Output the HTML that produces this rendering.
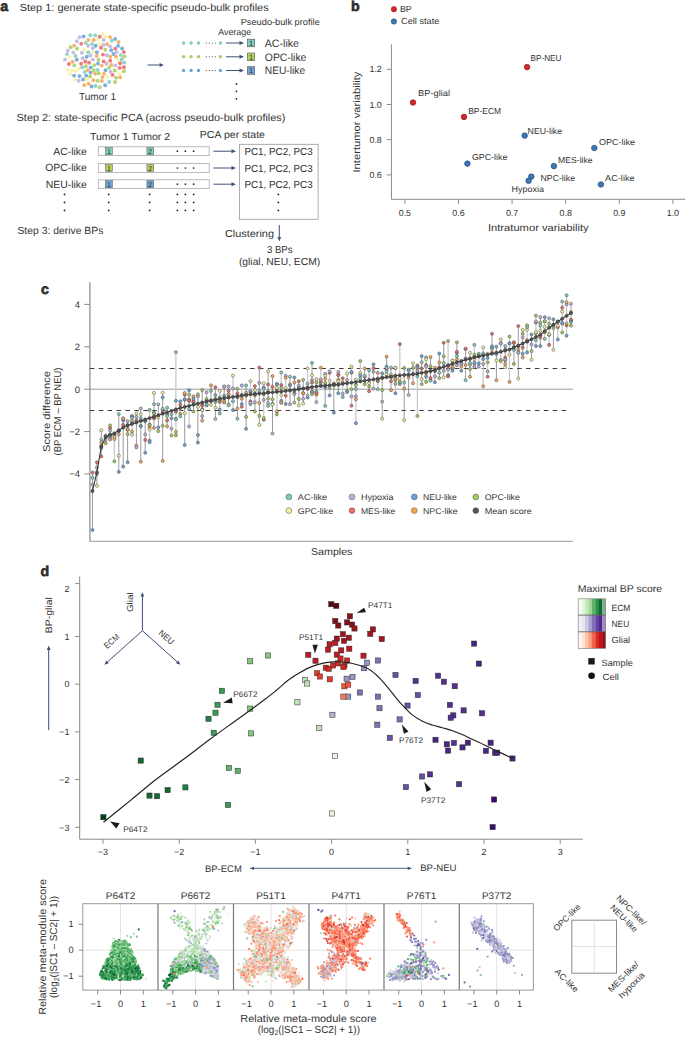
<!DOCTYPE html>
<html><head><meta charset="utf-8"><style>
html,body{margin:0;padding:0;background:#fff;width:685px;height:1038px;overflow:hidden}
svg{display:block}
text{font-family:"Liberation Sans",sans-serif;fill:#333;text-rendering:geometricPrecision}
</style></head><body>
<svg width="685" height="1038" viewBox="0 0 685 1038">
<text x="0.3" y="10.9" font-size="14.2" font-weight="bold" stroke="#231f20" stroke-width="0.6">a</text>
<text x="19.7" y="10.9" font-size="10.4" textLength="249" lengthAdjust="spacingAndGlyphs">Step 1: generate state-specific pseudo-bulk profiles</text>
<circle cx="97.7" cy="80.7" r="1.95" fill="#b0d676"/>
<circle cx="79.5" cy="76.1" r="1.95" fill="#7aaedb"/>
<circle cx="90.4" cy="55.5" r="1.95" fill="#c4bde4"/>
<circle cx="124.3" cy="62.6" r="1.95" fill="#8fd3c6"/>
<circle cx="95.1" cy="73.8" r="1.95" fill="#f9b26c"/>
<circle cx="117.3" cy="60.0" r="1.95" fill="#f7f4b0"/>
<circle cx="107.1" cy="44.3" r="1.95" fill="#f9b26c"/>
<circle cx="88.3" cy="52.3" r="1.95" fill="#8fd3c6"/>
<circle cx="76.9" cy="41.3" r="1.95" fill="#c4bde4"/>
<circle cx="69.6" cy="57.1" r="1.95" fill="#f7f4b0"/>
<circle cx="97.2" cy="39.4" r="1.95" fill="#f7f4b0"/>
<circle cx="94.3" cy="65.1" r="1.95" fill="#b0d676"/>
<circle cx="110.1" cy="46.4" r="1.95" fill="#c4bde4"/>
<circle cx="90.3" cy="35.2" r="1.95" fill="#8fd3c6"/>
<circle cx="74.1" cy="75.6" r="1.95" fill="#7aaedb"/>
<circle cx="67.8" cy="69.6" r="1.95" fill="#f7f4b0"/>
<circle cx="103.0" cy="54.6" r="1.95" fill="#f07a78"/>
<circle cx="105.5" cy="70.2" r="1.95" fill="#7aaedb"/>
<circle cx="116.0" cy="56.6" r="1.95" fill="#f9b26c"/>
<circle cx="84.1" cy="49.7" r="1.95" fill="#f7f4b0"/>
<circle cx="76.8" cy="59.7" r="1.95" fill="#7aaedb"/>
<circle cx="70.6" cy="47.3" r="1.95" fill="#b0d676"/>
<circle cx="83.6" cy="36.4" r="1.95" fill="#7aaedb"/>
<circle cx="115.1" cy="39.0" r="1.95" fill="#7aaedb"/>
<circle cx="115.3" cy="48.8" r="1.95" fill="#f07a78"/>
<circle cx="92.8" cy="48.2" r="1.95" fill="#c4bde4"/>
<circle cx="119.6" cy="73.5" r="1.95" fill="#f7f4b0"/>
<circle cx="85.8" cy="66.2" r="1.95" fill="#b0d676"/>
<circle cx="88.6" cy="83.7" r="1.95" fill="#f9b26c"/>
<circle cx="118.5" cy="42.0" r="1.95" fill="#f9b26c"/>
<circle cx="65.0" cy="59.6" r="1.95" fill="#c4bde4"/>
<circle cx="102.4" cy="77.1" r="1.95" fill="#f9b26c"/>
<circle cx="123.9" cy="67.2" r="1.95" fill="#f07a78"/>
<circle cx="84.2" cy="85.3" r="1.95" fill="#f9b26c"/>
<circle cx="111.2" cy="50.3" r="1.95" fill="#7aaedb"/>
<circle cx="74.3" cy="65.4" r="1.95" fill="#b0d676"/>
<circle cx="81.2" cy="43.8" r="1.95" fill="#f07a78"/>
<circle cx="73.3" cy="52.6" r="1.95" fill="#c4bde4"/>
<circle cx="72.1" cy="70.3" r="1.95" fill="#f7f4b0"/>
<circle cx="92.8" cy="59.6" r="1.95" fill="#c4bde4"/>
<circle cx="75.7" cy="71.1" r="1.95" fill="#f7f4b0"/>
<circle cx="120.1" cy="63.2" r="1.95" fill="#f07a78"/>
<circle cx="88.1" cy="45.8" r="1.95" fill="#c4bde4"/>
<circle cx="103.6" cy="61.4" r="1.95" fill="#f07a78"/>
<circle cx="84.6" cy="72.1" r="1.95" fill="#8fd3c6"/>
<circle cx="90.1" cy="76.5" r="1.95" fill="#b0d676"/>
<circle cx="96.7" cy="56.0" r="1.95" fill="#f9b26c"/>
<circle cx="90.6" cy="72.6" r="1.95" fill="#7aaedb"/>
<circle cx="101.0" cy="47.8" r="1.95" fill="#f07a78"/>
<circle cx="92.8" cy="52.2" r="1.95" fill="#f7f4b0"/>
<circle cx="83.0" cy="79.5" r="1.95" fill="#7aaedb"/>
<circle cx="97.7" cy="69.9" r="1.95" fill="#8fd3c6"/>
<circle cx="82.7" cy="58.3" r="1.95" fill="#c4bde4"/>
<circle cx="105.9" cy="36.9" r="1.95" fill="#f7f4b0"/>
<circle cx="78.6" cy="69.0" r="1.95" fill="#f7f4b0"/>
<circle cx="106.8" cy="55.3" r="1.95" fill="#c4bde4"/>
<circle cx="95.2" cy="35.4" r="1.95" fill="#8fd3c6"/>
<circle cx="81.9" cy="52.7" r="1.95" fill="#c4bde4"/>
<circle cx="122.1" cy="48.5" r="1.95" fill="#7aaedb"/>
<circle cx="104.0" cy="73.8" r="1.95" fill="#f9b26c"/>
<circle cx="70.3" cy="74.2" r="1.95" fill="#f7f4b0"/>
<circle cx="95.6" cy="86.0" r="1.95" fill="#8fd3c6"/>
<circle cx="68.9" cy="64.0" r="1.95" fill="#f07a78"/>
<circle cx="87.8" cy="70.3" r="1.95" fill="#f9b26c"/>
<circle cx="109.1" cy="82.0" r="1.95" fill="#8fd3c6"/>
<circle cx="111.4" cy="64.9" r="1.95" fill="#f9b26c"/>
<circle cx="93.4" cy="80.3" r="1.95" fill="#f9b26c"/>
<circle cx="106.4" cy="63.8" r="1.95" fill="#c4bde4"/>
<circle cx="101.7" cy="65.6" r="1.95" fill="#f9b26c"/>
<circle cx="124.3" cy="56.5" r="1.95" fill="#b0d676"/>
<circle cx="114.8" cy="70.5" r="1.95" fill="#b0d676"/>
<circle cx="112.5" cy="74.9" r="1.95" fill="#f07a78"/>
<circle cx="92.0" cy="43.9" r="1.95" fill="#8fd3c6"/>
<circle cx="99.9" cy="43.9" r="1.95" fill="#f7f4b0"/>
<circle cx="103.7" cy="39.9" r="1.95" fill="#c4bde4"/>
<circle cx="81.1" cy="63.8" r="1.95" fill="#f07a78"/>
<circle cx="113.5" cy="54.0" r="1.95" fill="#7aaedb"/>
<circle cx="118.1" cy="45.9" r="1.95" fill="#7aaedb"/>
<circle cx="116.0" cy="77.8" r="1.95" fill="#b0d676"/>
<circle cx="93.6" cy="40.0" r="1.95" fill="#f9b26c"/>
<circle cx="85.7" cy="42.9" r="1.95" fill="#8fd3c6"/>
<circle cx="115.1" cy="82.0" r="1.95" fill="#b0d676"/>
<circle cx="105.3" cy="49.8" r="1.95" fill="#b0d676"/>
<circle cx="101.9" cy="80.9" r="1.95" fill="#f9b26c"/>
<circle cx="99.8" cy="36.8" r="1.95" fill="#f07a78"/>
<circle cx="120.7" cy="55.1" r="1.95" fill="#8fd3c6"/>
<circle cx="77.1" cy="48.7" r="1.95" fill="#b0d676"/>
<circle cx="86.2" cy="75.7" r="1.95" fill="#7aaedb"/>
<circle cx="78.8" cy="80.7" r="1.95" fill="#c4bde4"/>
<circle cx="67.0" cy="54.1" r="1.95" fill="#8fd3c6"/>
<circle cx="107.6" cy="76.9" r="1.95" fill="#f7f4b0"/>
<circle cx="110.2" cy="60.7" r="1.95" fill="#f07a78"/>
<circle cx="90.7" cy="67.5" r="1.95" fill="#7aaedb"/>
<circle cx="119.6" cy="67.9" r="1.95" fill="#f07a78"/>
<circle cx="110.5" cy="71.8" r="1.95" fill="#c4bde4"/>
<circle cx="86.7" cy="56.7" r="1.95" fill="#7aaedb"/>
<circle cx="99.8" cy="87.3" r="1.95" fill="#b0d676"/>
<circle cx="74.2" cy="45.6" r="1.95" fill="#f9b26c"/>
<circle cx="105.2" cy="85.2" r="1.95" fill="#7aaedb"/>
<circle cx="75.5" cy="55.9" r="1.95" fill="#8fd3c6"/>
<circle cx="123.9" cy="52.1" r="1.95" fill="#f07a78"/>
<circle cx="95.7" cy="45.8" r="1.95" fill="#7aaedb"/>
<circle cx="82.2" cy="67.4" r="1.95" fill="#8fd3c6"/>
<circle cx="115.5" cy="65.4" r="1.95" fill="#c4bde4"/>
<circle cx="98.0" cy="63.6" r="1.95" fill="#7aaedb"/>
<circle cx="110.0" cy="37.1" r="1.95" fill="#f9b26c"/>
<circle cx="93.8" cy="70.3" r="1.95" fill="#b0d676"/>
<circle cx="96.9" cy="52.2" r="1.95" fill="#7aaedb"/>
<circle cx="111.7" cy="40.7" r="1.95" fill="#8fd3c6"/>
<circle cx="89.1" cy="62.8" r="1.95" fill="#f07a78"/>
<circle cx="72.5" cy="61.8" r="1.95" fill="#f9b26c"/>
<circle cx="98.4" cy="60.0" r="1.95" fill="#b0d676"/>
<circle cx="98.8" cy="73.4" r="1.95" fill="#b0d676"/>
<circle cx="85.3" cy="61.5" r="1.95" fill="#f07a78"/>
<circle cx="88.3" cy="40.0" r="1.95" fill="#f9b26c"/>
<circle cx="109.1" cy="67.8" r="1.95" fill="#b0d676"/>
<circle cx="120.1" cy="77.3" r="1.95" fill="#f9b26c"/>
<circle cx="91.6" cy="86.5" r="1.95" fill="#7aaedb"/>
<circle cx="75.1" cy="79.8" r="1.95" fill="#f7f4b0"/>
<circle cx="123.9" cy="71.2" r="1.95" fill="#b0d676"/>
<circle cx="121.7" cy="59.5" r="1.95" fill="#8fd3c6"/>
<circle cx="86.9" cy="79.3" r="1.95" fill="#f7f4b0"/>
<circle cx="116.7" cy="52.2" r="1.95" fill="#c4bde4"/>
<circle cx="67.9" cy="50.6" r="1.95" fill="#c4bde4"/>
<circle cx="103.0" cy="34.3" r="1.95" fill="#f7f4b0"/>
<circle cx="103.5" cy="44.9" r="1.95" fill="#c4bde4"/>
<circle cx="110.2" cy="56.7" r="1.95" fill="#f9b26c"/>
<circle cx="79.5" cy="37.3" r="1.95" fill="#c4bde4"/>
<text x="79" y="100.4" font-size="10.2" textLength="37" lengthAdjust="spacingAndGlyphs">Tumor 1</text>
<line x1="147.6" y1="65" x2="160.10000000000002" y2="65.0" stroke="#3e5078" stroke-width="1"/>
<path d="M163.80 65.00L159.60 66.90L159.60 63.10Z" fill="#3e5078"/>
<text x="218.2" y="34.8" font-size="8.8" textLength="33" lengthAdjust="spacingAndGlyphs">Average</text>
<text x="240.7" y="24.6" font-size="8.9" textLength="79.1" lengthAdjust="spacingAndGlyphs">Pseudo-bulk profile</text>
<circle cx="183.6" cy="43" r="1.7" fill="#82cfc2"/>
<circle cx="191.1" cy="43" r="1.7" fill="#82cfc2"/>
<circle cx="198.5" cy="43" r="1.7" fill="#82cfc2"/>
<circle cx="220.4" cy="43" r="1.7" fill="#82cfc2"/>
<circle cx="206.3" cy="43" r="0.55" fill="#333"/>
<circle cx="209.3" cy="43" r="0.55" fill="#333"/>
<circle cx="212.3" cy="43" r="0.55" fill="#333"/>
<circle cx="215.3" cy="43" r="0.55" fill="#333"/>
<line x1="226" y1="43" x2="240.0" y2="43.0" stroke="#3e5078" stroke-width="1"/>
<path d="M244.00 43.00L239.50 45.00L239.50 41.00Z" fill="#3e5078"/>
<rect x="247.3" y="39.2" width="7.4" height="7.6" fill="#80cbbd" stroke="#555" stroke-width="0.6"/>
<text x="251" y="45.9" font-size="7.5" text-anchor="middle" fill="#222">1</text>
<text x="264.8" y="46.9" font-size="10.8" textLength="34.2" lengthAdjust="spacingAndGlyphs">AC-like</text>
<circle cx="183.6" cy="56.8" r="1.7" fill="#a9d168"/>
<circle cx="191.1" cy="56.8" r="1.7" fill="#a9d168"/>
<circle cx="198.5" cy="56.8" r="1.7" fill="#a9d168"/>
<circle cx="220.4" cy="56.8" r="1.7" fill="#a9d168"/>
<circle cx="206.3" cy="56.8" r="0.55" fill="#333"/>
<circle cx="209.3" cy="56.8" r="0.55" fill="#333"/>
<circle cx="212.3" cy="56.8" r="0.55" fill="#333"/>
<circle cx="215.3" cy="56.8" r="0.55" fill="#333"/>
<line x1="226" y1="56.8" x2="240.0" y2="56.8" stroke="#3e5078" stroke-width="1"/>
<path d="M244.00 56.80L239.50 58.80L239.50 54.80Z" fill="#3e5078"/>
<rect x="247.3" y="53.0" width="7.4" height="7.6" fill="#b2d45f" stroke="#555" stroke-width="0.6"/>
<text x="251" y="59.699999999999996" font-size="7.5" text-anchor="middle" fill="#222">1</text>
<text x="264.8" y="60.699999999999996" font-size="10.8" textLength="41.6" lengthAdjust="spacingAndGlyphs">OPC-like</text>
<circle cx="183.6" cy="70.5" r="1.7" fill="#6fa5d6"/>
<circle cx="191.1" cy="70.5" r="1.7" fill="#6fa5d6"/>
<circle cx="198.5" cy="70.5" r="1.7" fill="#6fa5d6"/>
<circle cx="220.4" cy="70.5" r="1.7" fill="#6fa5d6"/>
<circle cx="206.3" cy="70.5" r="0.55" fill="#333"/>
<circle cx="209.3" cy="70.5" r="0.55" fill="#333"/>
<circle cx="212.3" cy="70.5" r="0.55" fill="#333"/>
<circle cx="215.3" cy="70.5" r="0.55" fill="#333"/>
<line x1="226" y1="70.5" x2="240.0" y2="70.5" stroke="#3e5078" stroke-width="1"/>
<path d="M244.00 70.50L239.50 72.50L239.50 68.50Z" fill="#3e5078"/>
<rect x="247.3" y="66.7" width="7.4" height="7.6" fill="#6fa3d3" stroke="#555" stroke-width="0.6"/>
<text x="251" y="73.4" font-size="7.5" text-anchor="middle" fill="#222">1</text>
<text x="264.8" y="74.4" font-size="10.8" textLength="40.3" lengthAdjust="spacingAndGlyphs">NEU-like</text>
<circle cx="236.5" cy="83.9" r="0.9" fill="#222"/>
<circle cx="236.5" cy="91.3" r="0.9" fill="#222"/>
<circle cx="236.5" cy="98.8" r="0.9" fill="#222"/>
<text x="16.6" y="121.3" font-size="10.4" textLength="268.8" lengthAdjust="spacingAndGlyphs">Step 2: state-specific PCA (across pseudo-bulk profiles)</text>
<text x="90" y="139.9" font-size="10.2" textLength="80" lengthAdjust="spacingAndGlyphs">Tumor 1 Tumor 2</text>
<text x="199.8" y="138.1" font-size="10.2" textLength="65.2" lengthAdjust="spacingAndGlyphs">PCA per state</text>
<rect x="98.3" y="146.79999999999998" width="110.9" height="8.8" fill="#fff" stroke="#aaa" stroke-width="0.8"/>
<rect x="105.5" y="147.6" width="6.8" height="7.2" fill="#80cbbd" stroke="#555" stroke-width="0.5"/>
<text x="108.9" y="153.79999999999998" font-size="7" text-anchor="middle" fill="#222">1</text>
<rect x="146.9" y="147.6" width="6.8" height="7.2" fill="#80cbbd" stroke="#555" stroke-width="0.5"/>
<text x="150.3" y="153.79999999999998" font-size="7" text-anchor="middle" fill="#222">2</text>
<circle cx="177.4" cy="151.2" r="0.85" fill="#222"/>
<circle cx="185.4" cy="151.2" r="0.85" fill="#222"/>
<circle cx="193.6" cy="151.2" r="0.85" fill="#222"/>
<text x="86.8" y="154.7" font-size="10.4" text-anchor="end">AC-like</text>
<line x1="213.4" y1="151.2" x2="232.0" y2="151.2" stroke="#3e5078" stroke-width="1"/>
<path d="M236.00 151.20L231.50 153.20L231.50 149.20Z" fill="#3e5078"/>
<text x="244.4" y="155.29999999999998" font-size="10.2" textLength="68.3" lengthAdjust="spacingAndGlyphs">PC1, PC2, PC3</text>
<rect x="98.3" y="163.6" width="110.9" height="8.8" fill="#fff" stroke="#aaa" stroke-width="0.8"/>
<rect x="105.5" y="164.4" width="6.8" height="7.2" fill="#b2d45f" stroke="#555" stroke-width="0.5"/>
<text x="108.9" y="170.6" font-size="7" text-anchor="middle" fill="#222">1</text>
<rect x="146.9" y="164.4" width="6.8" height="7.2" fill="#b2d45f" stroke="#555" stroke-width="0.5"/>
<text x="150.3" y="170.6" font-size="7" text-anchor="middle" fill="#222">2</text>
<circle cx="177.4" cy="168" r="0.85" fill="#222"/>
<circle cx="185.4" cy="168" r="0.85" fill="#222"/>
<circle cx="193.6" cy="168" r="0.85" fill="#222"/>
<text x="86.8" y="171.4" font-size="10.4" text-anchor="end">OPC-like</text>
<line x1="213.4" y1="168" x2="232.0" y2="168.0" stroke="#3e5078" stroke-width="1"/>
<path d="M236.00 168.00L231.50 170.00L231.50 166.00Z" fill="#3e5078"/>
<text x="244.4" y="172.0" font-size="10.2" textLength="68.3" lengthAdjust="spacingAndGlyphs">PC1, PC2, PC3</text>
<rect x="98.3" y="179.79999999999998" width="110.9" height="8.8" fill="#fff" stroke="#aaa" stroke-width="0.8"/>
<rect x="105.5" y="180.6" width="6.8" height="7.2" fill="#6fa3d3" stroke="#555" stroke-width="0.5"/>
<text x="108.9" y="186.79999999999998" font-size="7" text-anchor="middle" fill="#222">1</text>
<rect x="146.9" y="180.6" width="6.8" height="7.2" fill="#6fa3d3" stroke="#555" stroke-width="0.5"/>
<text x="150.3" y="186.79999999999998" font-size="7" text-anchor="middle" fill="#222">2</text>
<circle cx="177.4" cy="184.2" r="0.85" fill="#222"/>
<circle cx="185.4" cy="184.2" r="0.85" fill="#222"/>
<circle cx="193.6" cy="184.2" r="0.85" fill="#222"/>
<text x="86.8" y="187.5" font-size="10.4" text-anchor="end">NEU-like</text>
<line x1="213.4" y1="184.2" x2="232.0" y2="184.2" stroke="#3e5078" stroke-width="1"/>
<path d="M236.00 184.20L231.50 186.20L231.50 182.20Z" fill="#3e5078"/>
<text x="244.4" y="188.1" font-size="10.2" textLength="68.3" lengthAdjust="spacingAndGlyphs">PC1, PC2, PC3</text>
<circle cx="64.5" cy="194.4" r="0.9" fill="#222"/>
<circle cx="108.7" cy="194.4" r="0.9" fill="#222"/>
<circle cx="149.6" cy="194.4" r="0.9" fill="#222"/>
<circle cx="177.4" cy="194.4" r="0.9" fill="#222"/>
<circle cx="185.4" cy="194.4" r="0.9" fill="#222"/>
<circle cx="193.6" cy="194.4" r="0.9" fill="#222"/>
<circle cx="278.4" cy="194.4" r="0.9" fill="#222"/>
<circle cx="64.5" cy="202.4" r="0.9" fill="#222"/>
<circle cx="108.7" cy="202.4" r="0.9" fill="#222"/>
<circle cx="149.6" cy="202.4" r="0.9" fill="#222"/>
<circle cx="177.4" cy="202.4" r="0.9" fill="#222"/>
<circle cx="185.4" cy="202.4" r="0.9" fill="#222"/>
<circle cx="193.6" cy="202.4" r="0.9" fill="#222"/>
<circle cx="278.4" cy="202.4" r="0.9" fill="#222"/>
<circle cx="64.5" cy="210.4" r="0.9" fill="#222"/>
<circle cx="108.7" cy="210.4" r="0.9" fill="#222"/>
<circle cx="149.6" cy="210.4" r="0.9" fill="#222"/>
<circle cx="177.4" cy="210.4" r="0.9" fill="#222"/>
<circle cx="185.4" cy="210.4" r="0.9" fill="#222"/>
<circle cx="193.6" cy="210.4" r="0.9" fill="#222"/>
<circle cx="278.4" cy="210.4" r="0.9" fill="#222"/>
<rect x="239.5" y="144.3" width="78.6" height="75" fill="none" stroke="#999" stroke-width="0.8"/>
<text x="17.4" y="234" font-size="10.4" textLength="86" lengthAdjust="spacingAndGlyphs">Step 3: derive BPs</text>
<text x="224.9" y="236.8" font-size="10.2" textLength="49.1" lengthAdjust="spacingAndGlyphs">Clustering</text>
<line x1="279.3" y1="225.1" x2="279.3" y2="237.5" stroke="#3e5078" stroke-width="1"/>
<path d="M279.30 241.50L277.40 237.00L281.20 237.00Z" fill="#3e5078"/>
<text x="266.9" y="252.7" font-size="10.2" textLength="25.7" lengthAdjust="spacingAndGlyphs">3 BPs</text>
<text x="238.9" y="264.6" font-size="10.2" textLength="81.3" lengthAdjust="spacingAndGlyphs">(glial, NEU, ECM)</text>
<text x="351" y="11" font-size="14.2" font-weight="bold" stroke="#231f20" stroke-width="0.6">b</text>
<circle cx="393.9" cy="9.2" r="2.7" fill="#d9232b" stroke="#7a1a1a" stroke-width="0.5"/>
<text x="399.9" y="11.9" font-size="8.8">BP</text>
<circle cx="393.9" cy="21.5" r="2.7" fill="#3b78b8" stroke="#1f3f66" stroke-width="0.5"/>
<text x="401" y="24.4" font-size="8.8" textLength="38.3" lengthAdjust="spacingAndGlyphs">Cell state</text>
<line x1="391.4" y1="44.3" x2="391.4" y2="199.3" stroke="#8a8a8a" stroke-width="1"/>
<line x1="391.4" y1="199.3" x2="685" y2="199.3" stroke="#8a8a8a" stroke-width="1"/>
<line x1="386.8" y1="69.30000000000001" x2="391.4" y2="69.30000000000001" stroke="#8a8a8a" stroke-width="1"/>
<text x="381.8" y="72.4" font-size="8.9" text-anchor="end">1.2</text>
<line x1="386.8" y1="104.5" x2="391.4" y2="104.5" stroke="#8a8a8a" stroke-width="1"/>
<text x="381.8" y="107.6" font-size="8.9" text-anchor="end">1.0</text>
<line x1="386.8" y1="139.7" x2="391.4" y2="139.7" stroke="#8a8a8a" stroke-width="1"/>
<text x="381.8" y="142.79999999999998" font-size="8.9" text-anchor="end">0.8</text>
<line x1="386.8" y1="174.9" x2="391.4" y2="174.9" stroke="#8a8a8a" stroke-width="1"/>
<text x="381.8" y="178.0" font-size="8.9" text-anchor="end">0.6</text>
<line x1="404.9" y1="199.3" x2="404.9" y2="203.8" stroke="#8a8a8a" stroke-width="1"/>
<text x="404.9" y="215.5" font-size="8.9" text-anchor="middle">0.5</text>
<line x1="458.49999999999994" y1="199.3" x2="458.49999999999994" y2="203.8" stroke="#8a8a8a" stroke-width="1"/>
<text x="458.49999999999994" y="215.5" font-size="8.9" text-anchor="middle">0.6</text>
<line x1="512.0999999999999" y1="199.3" x2="512.0999999999999" y2="203.8" stroke="#8a8a8a" stroke-width="1"/>
<text x="512.0999999999999" y="215.5" font-size="8.9" text-anchor="middle">0.7</text>
<line x1="565.7" y1="199.3" x2="565.7" y2="203.8" stroke="#8a8a8a" stroke-width="1"/>
<text x="565.7" y="215.5" font-size="8.9" text-anchor="middle">0.8</text>
<line x1="619.3" y1="199.3" x2="619.3" y2="203.8" stroke="#8a8a8a" stroke-width="1"/>
<text x="619.3" y="215.5" font-size="8.9" text-anchor="middle">0.9</text>
<line x1="672.9" y1="199.3" x2="672.9" y2="203.8" stroke="#8a8a8a" stroke-width="1"/>
<text x="672.9" y="215.5" font-size="8.9" text-anchor="middle">1.0</text>
<text x="487.9" y="231.2" font-size="9.9" textLength="100.7" lengthAdjust="spacingAndGlyphs">Intratumor variability</text>
<text x="360" y="172.5" font-size="9.9" textLength="100.9" lengthAdjust="spacingAndGlyphs" transform="rotate(-90 360 172.5)">Intertumor variability</text>
<circle cx="527.1" cy="67.1" r="2.8" fill="#d9232b" stroke="#7a1a1a" stroke-width="0.6"/>
<text x="530.5" y="60.5" font-size="8.6" textLength="31" lengthAdjust="spacingAndGlyphs">BP-NEU</text>
<circle cx="413" cy="102.5" r="2.8" fill="#d9232b" stroke="#7a1a1a" stroke-width="0.6"/>
<text x="418" y="95.5" font-size="8.6" textLength="32" lengthAdjust="spacingAndGlyphs">BP-glial</text>
<circle cx="464" cy="116.9" r="2.8" fill="#d9232b" stroke="#7a1a1a" stroke-width="0.6"/>
<text x="468.2" y="113.7" font-size="8.6" textLength="33" lengthAdjust="spacingAndGlyphs">BP-ECM</text>
<circle cx="524.7" cy="135.6" r="2.8" fill="#3b78b8" stroke="#1f3f66" stroke-width="0.6"/>
<text x="527.6" y="133.5" font-size="8.6" textLength="34.5" lengthAdjust="spacingAndGlyphs">NEU-like</text>
<circle cx="594.3" cy="148" r="2.8" fill="#3b78b8" stroke="#1f3f66" stroke-width="0.6"/>
<text x="599.1" y="145.1" font-size="8.6" textLength="36" lengthAdjust="spacingAndGlyphs">OPC-like</text>
<circle cx="467.4" cy="163.6" r="2.8" fill="#3b78b8" stroke="#1f3f66" stroke-width="0.6"/>
<text x="471.9" y="159.9" font-size="8.6" textLength="35.5" lengthAdjust="spacingAndGlyphs">GPC-like</text>
<circle cx="553.9" cy="166.1" r="2.8" fill="#3b78b8" stroke="#1f3f66" stroke-width="0.6"/>
<text x="558.1" y="162.7" font-size="8.6" textLength="34.5" lengthAdjust="spacingAndGlyphs">MES-like</text>
<circle cx="531.3" cy="176.6" r="2.8" fill="#3b78b8" stroke="#1f3f66" stroke-width="0.6"/>
<text x="540.5" y="180.6" font-size="8.6" textLength="34.5" lengthAdjust="spacingAndGlyphs">NPC-like</text>
<circle cx="528.6" cy="180.8" r="2.8" fill="#3b78b8" stroke="#1f3f66" stroke-width="0.6"/>
<circle cx="600.9" cy="184.5" r="2.8" fill="#3b78b8" stroke="#1f3f66" stroke-width="0.6"/>
<text x="605.1" y="180.6" font-size="8.6" textLength="29.5" lengthAdjust="spacingAndGlyphs">AC-like</text>
<text x="511.6" y="191.6" font-size="8.6" textLength="32.5" lengthAdjust="spacingAndGlyphs">Hypoxia</text>
<text x="41" y="294.2" font-size="14.2" font-weight="bold" stroke="#231f20" stroke-width="0.6">c</text>
<line x1="89.9" y1="282.2" x2="89.9" y2="541.3" stroke="#9a9a9a" stroke-width="1.4"/>
<line x1="89.9" y1="541.3" x2="572.8" y2="541.3" stroke="#9a9a9a" stroke-width="1"/>
<line x1="84.3" y1="304.4" x2="89.9" y2="304.4" stroke="#888" stroke-width="1"/>
<text x="80" y="307.7" font-size="9.4" text-anchor="end">4</text>
<line x1="84.3" y1="346.8" x2="89.9" y2="346.8" stroke="#888" stroke-width="1"/>
<text x="80" y="350.1" font-size="9.4" text-anchor="end">2</text>
<line x1="84.3" y1="389.2" x2="89.9" y2="389.2" stroke="#888" stroke-width="1"/>
<text x="80" y="392.5" font-size="9.4" text-anchor="end">0</text>
<line x1="84.3" y1="431.59999999999997" x2="89.9" y2="431.59999999999997" stroke="#888" stroke-width="1"/>
<text x="80" y="434.9" font-size="9.4" text-anchor="end">−2</text>
<line x1="84.3" y1="474.0" x2="89.9" y2="474.0" stroke="#888" stroke-width="1"/>
<text x="80" y="477.3" font-size="9.4" text-anchor="end">−4</text>
<line x1="89.9" y1="389.2" x2="572.8" y2="389.2" stroke="#9a9a9a" stroke-width="1"/>
<line x1="89.9" y1="368.5" x2="570.7" y2="368.5" stroke="#3a3a3a" stroke-width="1" stroke-dasharray="4.5 4.4"/>
<line x1="89.9" y1="410.5" x2="570.7" y2="410.5" stroke="#3a3a3a" stroke-width="1" stroke-dasharray="4.5 4.4"/>
<text x="49.7" y="411.5" font-size="10" text-anchor="middle" textLength="81" lengthAdjust="spacingAndGlyphs" transform="rotate(-90 49.7 411.5)">Score difference</text>
<text x="61.4" y="411.5" font-size="10" text-anchor="middle" textLength="88" lengthAdjust="spacingAndGlyphs" transform="rotate(-90 61.4 411.5)">(BP ECM – BP NEU)</text>
<line x1="92.5" y1="471.9" x2="92.5" y2="530.0" stroke="#555" stroke-width="0.6"/>
<line x1="96.9" y1="462.3" x2="96.9" y2="485.7" stroke="#555" stroke-width="0.6"/>
<line x1="101.3" y1="430.2" x2="101.3" y2="456.4" stroke="#555" stroke-width="0.6"/>
<line x1="105.7" y1="435.6" x2="105.7" y2="443.2" stroke="#555" stroke-width="0.6"/>
<line x1="110.1" y1="425.4" x2="110.1" y2="439.4" stroke="#555" stroke-width="0.6"/>
<line x1="114.4" y1="433.3" x2="114.4" y2="461.4" stroke="#c9c9c9" stroke-width="1.3"/>
<line x1="118.8" y1="414.0" x2="118.8" y2="471.9" stroke="#555" stroke-width="0.6"/>
<line x1="123.2" y1="418.4" x2="123.2" y2="466.6" stroke="#555" stroke-width="0.6"/>
<line x1="127.6" y1="421.0" x2="127.6" y2="462.3" stroke="#555" stroke-width="0.6"/>
<line x1="132.0" y1="416.2" x2="132.0" y2="434.8" stroke="#c9c9c9" stroke-width="1.3"/>
<line x1="136.4" y1="413.3" x2="136.4" y2="447.5" stroke="#555" stroke-width="0.6"/>
<line x1="140.8" y1="408.4" x2="140.8" y2="461.7" stroke="#555" stroke-width="0.6"/>
<line x1="145.2" y1="419.5" x2="145.2" y2="452.8" stroke="#555" stroke-width="0.6"/>
<line x1="149.6" y1="409.9" x2="149.6" y2="442.2" stroke="#c9c9c9" stroke-width="1.3"/>
<line x1="154.0" y1="392.9" x2="154.0" y2="428.0" stroke="#555" stroke-width="0.6"/>
<line x1="158.3" y1="404.4" x2="158.3" y2="431.1" stroke="#555" stroke-width="0.6"/>
<line x1="162.7" y1="392.7" x2="162.7" y2="461.0" stroke="#555" stroke-width="0.6"/>
<line x1="167.1" y1="407.7" x2="167.1" y2="426.4" stroke="#555" stroke-width="0.6"/>
<line x1="171.5" y1="410.8" x2="171.5" y2="435.5" stroke="#c9c9c9" stroke-width="1.3"/>
<line x1="175.9" y1="352.1" x2="175.9" y2="435.2" stroke="#c9c9c9" stroke-width="1.3"/>
<line x1="180.3" y1="401.2" x2="180.3" y2="416.4" stroke="#c9c9c9" stroke-width="1.3"/>
<line x1="184.7" y1="393.0" x2="184.7" y2="445.0" stroke="#555" stroke-width="0.6"/>
<line x1="189.1" y1="390.2" x2="189.1" y2="426.5" stroke="#c9c9c9" stroke-width="1.3"/>
<line x1="193.5" y1="396.2" x2="193.5" y2="411.4" stroke="#555" stroke-width="0.6"/>
<line x1="197.9" y1="394.2" x2="197.9" y2="442.6" stroke="#555" stroke-width="0.6"/>
<line x1="202.2" y1="390.0" x2="202.2" y2="420.7" stroke="#555" stroke-width="0.6"/>
<line x1="206.6" y1="392.2" x2="206.6" y2="405.4" stroke="#c9c9c9" stroke-width="1.3"/>
<line x1="211.0" y1="385.3" x2="211.0" y2="404.8" stroke="#555" stroke-width="0.6"/>
<line x1="215.4" y1="387.2" x2="215.4" y2="419.0" stroke="#555" stroke-width="0.6"/>
<line x1="219.8" y1="390.9" x2="219.8" y2="413.4" stroke="#c9c9c9" stroke-width="1.3"/>
<line x1="224.2" y1="386.5" x2="224.2" y2="402.6" stroke="#555" stroke-width="0.6"/>
<line x1="228.6" y1="386.4" x2="228.6" y2="405.3" stroke="#555" stroke-width="0.6"/>
<line x1="233.0" y1="375.6" x2="233.0" y2="410.1" stroke="#c9c9c9" stroke-width="1.3"/>
<line x1="237.4" y1="388.7" x2="237.4" y2="418.7" stroke="#555" stroke-width="0.6"/>
<line x1="241.8" y1="385.4" x2="241.8" y2="406.8" stroke="#c9c9c9" stroke-width="1.3"/>
<line x1="246.1" y1="385.4" x2="246.1" y2="428.8" stroke="#555" stroke-width="0.6"/>
<line x1="250.5" y1="381.1" x2="250.5" y2="404.1" stroke="#c9c9c9" stroke-width="1.3"/>
<line x1="254.9" y1="386.1" x2="254.9" y2="411.3" stroke="#555" stroke-width="0.6"/>
<line x1="259.3" y1="367.6" x2="259.3" y2="424.9" stroke="#555" stroke-width="0.6"/>
<line x1="263.7" y1="383.2" x2="263.7" y2="419.8" stroke="#c9c9c9" stroke-width="1.3"/>
<line x1="268.1" y1="371.3" x2="268.1" y2="405.8" stroke="#555" stroke-width="0.6"/>
<line x1="272.5" y1="376.1" x2="272.5" y2="433.6" stroke="#555" stroke-width="0.6"/>
<line x1="276.9" y1="384.0" x2="276.9" y2="414.4" stroke="#c9c9c9" stroke-width="1.3"/>
<line x1="281.3" y1="372.4" x2="281.3" y2="402.7" stroke="#c9c9c9" stroke-width="1.3"/>
<line x1="285.7" y1="375.7" x2="285.7" y2="404.0" stroke="#c9c9c9" stroke-width="1.3"/>
<line x1="290.0" y1="376.7" x2="290.0" y2="404.2" stroke="#555" stroke-width="0.6"/>
<line x1="294.4" y1="377.5" x2="294.4" y2="402.6" stroke="#555" stroke-width="0.6"/>
<line x1="298.8" y1="381.2" x2="298.8" y2="405.5" stroke="#555" stroke-width="0.6"/>
<line x1="303.2" y1="379.7" x2="303.2" y2="403.6" stroke="#555" stroke-width="0.6"/>
<line x1="307.6" y1="368.3" x2="307.6" y2="397.6" stroke="#c9c9c9" stroke-width="1.3"/>
<line x1="312.0" y1="362.9" x2="312.0" y2="394.2" stroke="#555" stroke-width="0.6"/>
<line x1="316.4" y1="379.2" x2="316.4" y2="402.1" stroke="#c9c9c9" stroke-width="1.3"/>
<line x1="320.8" y1="367.8" x2="320.8" y2="386.0" stroke="#c9c9c9" stroke-width="1.3"/>
<line x1="325.2" y1="373.9" x2="325.2" y2="405.9" stroke="#555" stroke-width="0.6"/>
<line x1="329.6" y1="371.2" x2="329.6" y2="395.4" stroke="#c9c9c9" stroke-width="1.3"/>
<line x1="333.9" y1="383.5" x2="333.9" y2="412.6" stroke="#555" stroke-width="0.6"/>
<line x1="338.3" y1="371.9" x2="338.3" y2="393.2" stroke="#555" stroke-width="0.6"/>
<line x1="342.7" y1="378.2" x2="342.7" y2="397.1" stroke="#c9c9c9" stroke-width="1.3"/>
<line x1="347.1" y1="373.4" x2="347.1" y2="392.0" stroke="#555" stroke-width="0.6"/>
<line x1="351.5" y1="366.6" x2="351.5" y2="405.7" stroke="#c9c9c9" stroke-width="1.3"/>
<line x1="355.9" y1="379.8" x2="355.9" y2="423.2" stroke="#c9c9c9" stroke-width="1.3"/>
<line x1="360.3" y1="361.0" x2="360.3" y2="381.4" stroke="#c9c9c9" stroke-width="1.3"/>
<line x1="364.7" y1="368.5" x2="364.7" y2="384.2" stroke="#555" stroke-width="0.6"/>
<line x1="369.1" y1="370.2" x2="369.1" y2="391.3" stroke="#555" stroke-width="0.6"/>
<line x1="373.5" y1="364.3" x2="373.5" y2="388.6" stroke="#c9c9c9" stroke-width="1.3"/>
<line x1="377.8" y1="372.8" x2="377.8" y2="389.2" stroke="#c9c9c9" stroke-width="1.3"/>
<line x1="382.2" y1="373.4" x2="382.2" y2="418.7" stroke="#555" stroke-width="0.6"/>
<line x1="386.6" y1="356.6" x2="386.6" y2="377.2" stroke="#555" stroke-width="0.6"/>
<line x1="391.0" y1="367.6" x2="391.0" y2="390.2" stroke="#555" stroke-width="0.6"/>
<line x1="395.4" y1="367.8" x2="395.4" y2="393.3" stroke="#c9c9c9" stroke-width="1.3"/>
<line x1="399.8" y1="344.1" x2="399.8" y2="384.1" stroke="#c9c9c9" stroke-width="1.3"/>
<line x1="404.2" y1="367.9" x2="404.2" y2="420.3" stroke="#555" stroke-width="0.6"/>
<line x1="408.6" y1="369.7" x2="408.6" y2="395.0" stroke="#555" stroke-width="0.6"/>
<line x1="413.0" y1="363.2" x2="413.0" y2="383.3" stroke="#555" stroke-width="0.6"/>
<line x1="417.4" y1="365.4" x2="417.4" y2="416.0" stroke="#c9c9c9" stroke-width="1.3"/>
<line x1="421.7" y1="356.0" x2="421.7" y2="384.2" stroke="#555" stroke-width="0.6"/>
<line x1="426.1" y1="357.4" x2="426.1" y2="381.9" stroke="#c9c9c9" stroke-width="1.3"/>
<line x1="430.5" y1="357.1" x2="430.5" y2="380.6" stroke="#555" stroke-width="0.6"/>
<line x1="434.9" y1="367.7" x2="434.9" y2="382.3" stroke="#555" stroke-width="0.6"/>
<line x1="439.3" y1="353.6" x2="439.3" y2="378.1" stroke="#555" stroke-width="0.6"/>
<line x1="443.7" y1="342.8" x2="443.7" y2="377.4" stroke="#555" stroke-width="0.6"/>
<line x1="448.1" y1="341.0" x2="448.1" y2="376.3" stroke="#c9c9c9" stroke-width="1.3"/>
<line x1="452.5" y1="360.5" x2="452.5" y2="370.7" stroke="#c9c9c9" stroke-width="1.3"/>
<line x1="456.9" y1="342.3" x2="456.9" y2="365.2" stroke="#555" stroke-width="0.6"/>
<line x1="461.3" y1="361.0" x2="461.3" y2="370.7" stroke="#555" stroke-width="0.6"/>
<line x1="465.6" y1="348.7" x2="465.6" y2="380.2" stroke="#555" stroke-width="0.6"/>
<line x1="470.0" y1="352.7" x2="470.0" y2="376.8" stroke="#555" stroke-width="0.6"/>
<line x1="474.4" y1="344.8" x2="474.4" y2="367.1" stroke="#c9c9c9" stroke-width="1.3"/>
<line x1="478.8" y1="353.7" x2="478.8" y2="366.6" stroke="#c9c9c9" stroke-width="1.3"/>
<line x1="483.2" y1="347.5" x2="483.2" y2="386.2" stroke="#c9c9c9" stroke-width="1.3"/>
<line x1="487.6" y1="353.9" x2="487.6" y2="376.7" stroke="#c9c9c9" stroke-width="1.3"/>
<line x1="492.0" y1="333.7" x2="492.0" y2="353.7" stroke="#555" stroke-width="0.6"/>
<line x1="496.4" y1="346.6" x2="496.4" y2="380.3" stroke="#555" stroke-width="0.6"/>
<line x1="500.8" y1="339.4" x2="500.8" y2="361.3" stroke="#c9c9c9" stroke-width="1.3"/>
<line x1="505.2" y1="346.0" x2="505.2" y2="367.2" stroke="#555" stroke-width="0.6"/>
<line x1="509.5" y1="336.5" x2="509.5" y2="381.9" stroke="#c9c9c9" stroke-width="1.3"/>
<line x1="513.9" y1="342.2" x2="513.9" y2="364.0" stroke="#555" stroke-width="0.6"/>
<line x1="518.3" y1="326.0" x2="518.3" y2="378.5" stroke="#555" stroke-width="0.6"/>
<line x1="522.7" y1="329.8" x2="522.7" y2="357.5" stroke="#555" stroke-width="0.6"/>
<line x1="527.1" y1="325.3" x2="527.1" y2="352.4" stroke="#c9c9c9" stroke-width="1.3"/>
<line x1="531.5" y1="334.5" x2="531.5" y2="359.8" stroke="#555" stroke-width="0.6"/>
<line x1="535.9" y1="315.6" x2="535.9" y2="346.0" stroke="#c9c9c9" stroke-width="1.3"/>
<line x1="540.3" y1="317.0" x2="540.3" y2="346.1" stroke="#555" stroke-width="0.6"/>
<line x1="544.7" y1="317.0" x2="544.7" y2="338.9" stroke="#c9c9c9" stroke-width="1.3"/>
<line x1="549.1" y1="318.2" x2="549.1" y2="344.9" stroke="#c9c9c9" stroke-width="1.3"/>
<line x1="553.4" y1="319.3" x2="553.4" y2="349.8" stroke="#555" stroke-width="0.6"/>
<line x1="557.8" y1="321.4" x2="557.8" y2="339.5" stroke="#c9c9c9" stroke-width="1.3"/>
<line x1="562.2" y1="301.5" x2="562.2" y2="332.5" stroke="#c9c9c9" stroke-width="1.3"/>
<line x1="566.6" y1="295.2" x2="566.6" y2="335.7" stroke="#c9c9c9" stroke-width="1.3"/>
<line x1="571.0" y1="303.7" x2="571.0" y2="325.6" stroke="#555" stroke-width="0.6"/>
<g stroke="#4a4a4a" stroke-width="0.5">
<circle cx="101.3" cy="456.4" r="1.55" fill="#ee6a63"/>
<circle cx="101.3" cy="439.6" r="1.55" fill="#7fcdbb"/>
<circle cx="101.3" cy="442.7" r="1.55" fill="#f6a553"/>
<circle cx="101.3" cy="448.0" r="1.55" fill="#a3cc5a"/>
<circle cx="101.3" cy="446.7" r="1.55" fill="#b9b3dc"/>
<circle cx="101.3" cy="430.2" r="1.55" fill="#f3ef9a"/>
<circle cx="105.7" cy="435.6" r="1.55" fill="#ee6a63"/>
<circle cx="105.7" cy="436.5" r="1.55" fill="#7fcdbb"/>
<circle cx="105.7" cy="439.8" r="1.55" fill="#b9b3dc"/>
<circle cx="105.7" cy="443.2" r="1.55" fill="#a3cc5a"/>
<circle cx="110.1" cy="439.4" r="1.55" fill="#f6a553"/>
<circle cx="110.1" cy="428.1" r="1.55" fill="#ee6a63"/>
<circle cx="110.1" cy="425.4" r="1.55" fill="#a3cc5a"/>
<circle cx="110.1" cy="434.2" r="1.55" fill="#7fcdbb"/>
<circle cx="110.1" cy="430.6" r="1.55" fill="#b9b3dc"/>
<circle cx="110.1" cy="437.5" r="1.55" fill="#6fa3d6"/>
<circle cx="110.1" cy="435.5" r="1.55" fill="#f3ef9a"/>
<circle cx="114.4" cy="434.7" r="1.55" fill="#ee6a63"/>
<circle cx="114.4" cy="436.3" r="1.55" fill="#6fa3d6"/>
<circle cx="114.4" cy="437.0" r="1.55" fill="#f3ef9a"/>
<circle cx="114.4" cy="439.1" r="1.55" fill="#f6a553"/>
<circle cx="114.4" cy="461.4" r="1.55" fill="#a3cc5a"/>
<circle cx="118.8" cy="455.7" r="1.55" fill="#f3ef9a"/>
<circle cx="118.8" cy="430.8" r="1.55" fill="#ee6a63"/>
<circle cx="118.8" cy="431.3" r="1.55" fill="#6fa3d6"/>
<circle cx="118.8" cy="414.0" r="1.55" fill="#7fcdbb"/>
<circle cx="118.8" cy="434.2" r="1.55" fill="#f6a553"/>
<circle cx="123.2" cy="420.4" r="1.55" fill="#6fa3d6"/>
<circle cx="123.2" cy="418.6" r="1.55" fill="#b9b3dc"/>
<circle cx="123.2" cy="418.4" r="1.55" fill="#f6a553"/>
<circle cx="123.2" cy="424.9" r="1.55" fill="#ee6a63"/>
<circle cx="127.6" cy="429.9" r="1.55" fill="#f3ef9a"/>
<circle cx="127.6" cy="429.1" r="1.55" fill="#6fa3d6"/>
<circle cx="127.6" cy="434.1" r="1.55" fill="#a3cc5a"/>
<circle cx="127.6" cy="429.3" r="1.55" fill="#f6a553"/>
<circle cx="127.6" cy="425.0" r="1.55" fill="#7fcdbb"/>
<circle cx="127.6" cy="421.0" r="1.55" fill="#b9b3dc"/>
<circle cx="132.0" cy="422.6" r="1.55" fill="#b9b3dc"/>
<circle cx="132.0" cy="416.3" r="1.55" fill="#ee6a63"/>
<circle cx="132.0" cy="416.2" r="1.55" fill="#6fa3d6"/>
<circle cx="132.0" cy="431.5" r="1.55" fill="#f6a553"/>
<circle cx="132.0" cy="434.8" r="1.55" fill="#f3ef9a"/>
<circle cx="132.0" cy="418.0" r="1.55" fill="#7fcdbb"/>
<circle cx="132.0" cy="421.0" r="1.55" fill="#a3cc5a"/>
<circle cx="136.4" cy="416.9" r="1.55" fill="#b9b3dc"/>
<circle cx="136.4" cy="420.3" r="1.55" fill="#ee6a63"/>
<circle cx="136.4" cy="445.6" r="1.55" fill="#f6a553"/>
<circle cx="136.4" cy="413.3" r="1.55" fill="#f3ef9a"/>
<circle cx="140.8" cy="461.7" r="1.55" fill="#f6a553"/>
<circle cx="140.8" cy="426.0" r="1.55" fill="#a3cc5a"/>
<circle cx="140.8" cy="426.1" r="1.55" fill="#6fa3d6"/>
<circle cx="140.8" cy="414.5" r="1.55" fill="#f3ef9a"/>
<circle cx="140.8" cy="408.4" r="1.55" fill="#b9b3dc"/>
<circle cx="140.8" cy="418.3" r="1.55" fill="#7fcdbb"/>
<circle cx="145.2" cy="421.2" r="1.55" fill="#7fcdbb"/>
<circle cx="145.2" cy="439.9" r="1.55" fill="#ee6a63"/>
<circle cx="145.2" cy="420.7" r="1.55" fill="#6fa3d6"/>
<circle cx="145.2" cy="434.4" r="1.55" fill="#b9b3dc"/>
<circle cx="149.6" cy="409.9" r="1.55" fill="#7fcdbb"/>
<circle cx="149.6" cy="427.5" r="1.55" fill="#f6a553"/>
<circle cx="149.6" cy="424.7" r="1.55" fill="#ee6a63"/>
<circle cx="149.6" cy="424.7" r="1.55" fill="#a3cc5a"/>
<circle cx="149.6" cy="429.4" r="1.55" fill="#f3ef9a"/>
<circle cx="149.6" cy="440.6" r="1.55" fill="#6fa3d6"/>
<circle cx="154.0" cy="428.0" r="1.55" fill="#f6a553"/>
<circle cx="154.0" cy="418.0" r="1.55" fill="#b9b3dc"/>
<circle cx="154.0" cy="418.2" r="1.55" fill="#ee6a63"/>
<circle cx="154.0" cy="412.8" r="1.55" fill="#6fa3d6"/>
<circle cx="154.0" cy="392.9" r="1.55" fill="#f3ef9a"/>
<circle cx="154.0" cy="413.3" r="1.55" fill="#a3cc5a"/>
<circle cx="154.0" cy="404.1" r="1.55" fill="#7fcdbb"/>
<circle cx="158.3" cy="404.4" r="1.55" fill="#b9b3dc"/>
<circle cx="158.3" cy="431.1" r="1.55" fill="#a3cc5a"/>
<circle cx="158.3" cy="417.1" r="1.55" fill="#f3ef9a"/>
<circle cx="158.3" cy="427.3" r="1.55" fill="#6fa3d6"/>
<circle cx="162.7" cy="461.0" r="1.55" fill="#f6a553"/>
<circle cx="162.7" cy="409.7" r="1.55" fill="#b9b3dc"/>
<circle cx="162.7" cy="392.7" r="1.55" fill="#f3ef9a"/>
<circle cx="162.7" cy="412.5" r="1.55" fill="#ee6a63"/>
<circle cx="162.7" cy="408.8" r="1.55" fill="#7fcdbb"/>
<circle cx="162.7" cy="425.7" r="1.55" fill="#a3cc5a"/>
<circle cx="162.7" cy="397.4" r="1.55" fill="#6fa3d6"/>
<circle cx="167.1" cy="407.7" r="1.55" fill="#7fcdbb"/>
<circle cx="167.1" cy="420.4" r="1.55" fill="#ee6a63"/>
<circle cx="167.1" cy="426.4" r="1.55" fill="#f6a553"/>
<circle cx="167.1" cy="414.0" r="1.55" fill="#b9b3dc"/>
<circle cx="167.1" cy="416.1" r="1.55" fill="#a3cc5a"/>
<circle cx="171.5" cy="428.7" r="1.55" fill="#b9b3dc"/>
<circle cx="171.5" cy="418.2" r="1.55" fill="#6fa3d6"/>
<circle cx="171.5" cy="414.3" r="1.55" fill="#7fcdbb"/>
<circle cx="171.5" cy="435.5" r="1.55" fill="#a3cc5a"/>
<circle cx="175.9" cy="411.1" r="1.55" fill="#f3ef9a"/>
<circle cx="175.9" cy="418.8" r="1.55" fill="#a3cc5a"/>
<circle cx="175.9" cy="419.4" r="1.55" fill="#7fcdbb"/>
<circle cx="175.9" cy="400.8" r="1.55" fill="#6fa3d6"/>
<circle cx="175.9" cy="431.8" r="1.55" fill="#f6a553"/>
<circle cx="175.9" cy="411.8" r="1.55" fill="#ee6a63"/>
<circle cx="180.3" cy="413.8" r="1.55" fill="#a3cc5a"/>
<circle cx="180.3" cy="404.7" r="1.55" fill="#ee6a63"/>
<circle cx="180.3" cy="401.2" r="1.55" fill="#6fa3d6"/>
<circle cx="180.3" cy="416.4" r="1.55" fill="#7fcdbb"/>
<circle cx="184.7" cy="394.7" r="1.55" fill="#ee6a63"/>
<circle cx="184.7" cy="393.0" r="1.55" fill="#f6a553"/>
<circle cx="184.7" cy="413.2" r="1.55" fill="#f3ef9a"/>
<circle cx="184.7" cy="399.7" r="1.55" fill="#7fcdbb"/>
<circle cx="184.7" cy="399.3" r="1.55" fill="#6fa3d6"/>
<circle cx="189.1" cy="390.2" r="1.55" fill="#6fa3d6"/>
<circle cx="189.1" cy="394.6" r="1.55" fill="#a3cc5a"/>
<circle cx="189.1" cy="399.3" r="1.55" fill="#f6a553"/>
<circle cx="189.1" cy="426.5" r="1.55" fill="#b9b3dc"/>
<circle cx="189.1" cy="400.7" r="1.55" fill="#f3ef9a"/>
<circle cx="189.1" cy="400.8" r="1.55" fill="#ee6a63"/>
<circle cx="189.1" cy="408.9" r="1.55" fill="#7fcdbb"/>
<circle cx="193.5" cy="402.1" r="1.55" fill="#b9b3dc"/>
<circle cx="193.5" cy="396.2" r="1.55" fill="#f6a553"/>
<circle cx="193.5" cy="402.6" r="1.55" fill="#7fcdbb"/>
<circle cx="193.5" cy="411.4" r="1.55" fill="#a3cc5a"/>
<circle cx="193.5" cy="401.0" r="1.55" fill="#ee6a63"/>
<circle cx="193.5" cy="398.8" r="1.55" fill="#6fa3d6"/>
<circle cx="197.9" cy="406.8" r="1.55" fill="#f3ef9a"/>
<circle cx="197.9" cy="442.6" r="1.55" fill="#6fa3d6"/>
<circle cx="197.9" cy="396.3" r="1.55" fill="#b9b3dc"/>
<circle cx="197.9" cy="394.2" r="1.55" fill="#a3cc5a"/>
<circle cx="202.2" cy="409.3" r="1.55" fill="#6fa3d6"/>
<circle cx="202.2" cy="420.7" r="1.55" fill="#f6a553"/>
<circle cx="202.2" cy="405.1" r="1.55" fill="#7fcdbb"/>
<circle cx="202.2" cy="410.2" r="1.55" fill="#f3ef9a"/>
<circle cx="202.2" cy="405.6" r="1.55" fill="#ee6a63"/>
<circle cx="202.2" cy="416.1" r="1.55" fill="#b9b3dc"/>
<circle cx="202.2" cy="390.0" r="1.55" fill="#a3cc5a"/>
<circle cx="206.6" cy="405.4" r="1.55" fill="#6fa3d6"/>
<circle cx="206.6" cy="399.0" r="1.55" fill="#a3cc5a"/>
<circle cx="206.6" cy="392.2" r="1.55" fill="#b9b3dc"/>
<circle cx="206.6" cy="401.2" r="1.55" fill="#ee6a63"/>
<circle cx="206.6" cy="404.2" r="1.55" fill="#7fcdbb"/>
<circle cx="211.0" cy="401.1" r="1.55" fill="#ee6a63"/>
<circle cx="211.0" cy="390.8" r="1.55" fill="#7fcdbb"/>
<circle cx="211.0" cy="404.8" r="1.55" fill="#f3ef9a"/>
<circle cx="211.0" cy="385.3" r="1.55" fill="#f6a553"/>
<circle cx="215.4" cy="407.7" r="1.55" fill="#f3ef9a"/>
<circle cx="215.4" cy="419.0" r="1.55" fill="#b9b3dc"/>
<circle cx="215.4" cy="387.2" r="1.55" fill="#ee6a63"/>
<circle cx="215.4" cy="395.1" r="1.55" fill="#6fa3d6"/>
<circle cx="215.4" cy="401.8" r="1.55" fill="#f6a553"/>
<circle cx="215.4" cy="399.2" r="1.55" fill="#a3cc5a"/>
<circle cx="215.4" cy="401.6" r="1.55" fill="#7fcdbb"/>
<circle cx="219.8" cy="390.9" r="1.55" fill="#f3ef9a"/>
<circle cx="219.8" cy="409.6" r="1.55" fill="#6fa3d6"/>
<circle cx="219.8" cy="401.9" r="1.55" fill="#ee6a63"/>
<circle cx="219.8" cy="413.4" r="1.55" fill="#7fcdbb"/>
<circle cx="219.8" cy="397.4" r="1.55" fill="#a3cc5a"/>
<circle cx="219.8" cy="400.3" r="1.55" fill="#f6a553"/>
<circle cx="224.2" cy="395.7" r="1.55" fill="#6fa3d6"/>
<circle cx="224.2" cy="386.5" r="1.55" fill="#f3ef9a"/>
<circle cx="224.2" cy="402.6" r="1.55" fill="#a3cc5a"/>
<circle cx="224.2" cy="400.9" r="1.55" fill="#f6a553"/>
<circle cx="224.2" cy="386.7" r="1.55" fill="#b9b3dc"/>
<circle cx="228.6" cy="404.3" r="1.55" fill="#f3ef9a"/>
<circle cx="228.6" cy="394.8" r="1.55" fill="#a3cc5a"/>
<circle cx="228.6" cy="394.5" r="1.55" fill="#f6a553"/>
<circle cx="228.6" cy="405.3" r="1.55" fill="#7fcdbb"/>
<circle cx="228.6" cy="390.9" r="1.55" fill="#ee6a63"/>
<circle cx="228.6" cy="386.4" r="1.55" fill="#b9b3dc"/>
<circle cx="233.0" cy="401.2" r="1.55" fill="#7fcdbb"/>
<circle cx="233.0" cy="375.6" r="1.55" fill="#f3ef9a"/>
<circle cx="233.0" cy="410.1" r="1.55" fill="#6fa3d6"/>
<circle cx="233.0" cy="388.4" r="1.55" fill="#b9b3dc"/>
<circle cx="237.4" cy="388.7" r="1.55" fill="#a3cc5a"/>
<circle cx="237.4" cy="418.7" r="1.55" fill="#7fcdbb"/>
<circle cx="237.4" cy="393.4" r="1.55" fill="#ee6a63"/>
<circle cx="237.4" cy="408.5" r="1.55" fill="#f6a553"/>
<circle cx="237.4" cy="397.4" r="1.55" fill="#6fa3d6"/>
<circle cx="241.8" cy="385.4" r="1.55" fill="#b9b3dc"/>
<circle cx="241.8" cy="398.8" r="1.55" fill="#f6a553"/>
<circle cx="241.8" cy="394.8" r="1.55" fill="#7fcdbb"/>
<circle cx="241.8" cy="404.0" r="1.55" fill="#6fa3d6"/>
<circle cx="241.8" cy="406.8" r="1.55" fill="#ee6a63"/>
<circle cx="246.1" cy="392.6" r="1.55" fill="#f6a553"/>
<circle cx="246.1" cy="416.8" r="1.55" fill="#a3cc5a"/>
<circle cx="246.1" cy="385.4" r="1.55" fill="#7fcdbb"/>
<circle cx="246.1" cy="395.6" r="1.55" fill="#f3ef9a"/>
<circle cx="250.5" cy="404.1" r="1.55" fill="#7fcdbb"/>
<circle cx="250.5" cy="391.9" r="1.55" fill="#f6a553"/>
<circle cx="250.5" cy="401.4" r="1.55" fill="#ee6a63"/>
<circle cx="250.5" cy="381.1" r="1.55" fill="#f3ef9a"/>
<circle cx="250.5" cy="402.8" r="1.55" fill="#b9b3dc"/>
<circle cx="250.5" cy="391.4" r="1.55" fill="#6fa3d6"/>
<circle cx="254.9" cy="411.3" r="1.55" fill="#a3cc5a"/>
<circle cx="254.9" cy="386.1" r="1.55" fill="#ee6a63"/>
<circle cx="254.9" cy="390.3" r="1.55" fill="#f3ef9a"/>
<circle cx="254.9" cy="395.4" r="1.55" fill="#f6a553"/>
<circle cx="254.9" cy="393.7" r="1.55" fill="#7fcdbb"/>
<circle cx="254.9" cy="402.4" r="1.55" fill="#b9b3dc"/>
<circle cx="259.3" cy="382.9" r="1.55" fill="#b9b3dc"/>
<circle cx="259.3" cy="424.9" r="1.55" fill="#f3ef9a"/>
<circle cx="259.3" cy="367.6" r="1.55" fill="#ee6a63"/>
<circle cx="259.3" cy="402.9" r="1.55" fill="#f6a553"/>
<circle cx="259.3" cy="415.9" r="1.55" fill="#a3cc5a"/>
<circle cx="259.3" cy="391.6" r="1.55" fill="#7fcdbb"/>
<circle cx="263.7" cy="419.8" r="1.55" fill="#ee6a63"/>
<circle cx="263.7" cy="387.3" r="1.55" fill="#6fa3d6"/>
<circle cx="263.7" cy="389.0" r="1.55" fill="#7fcdbb"/>
<circle cx="263.7" cy="383.2" r="1.55" fill="#f3ef9a"/>
<circle cx="263.7" cy="399.9" r="1.55" fill="#b9b3dc"/>
<circle cx="263.7" cy="418.1" r="1.55" fill="#a3cc5a"/>
<circle cx="263.7" cy="394.4" r="1.55" fill="#f6a553"/>
<circle cx="268.1" cy="398.5" r="1.55" fill="#a3cc5a"/>
<circle cx="268.1" cy="391.7" r="1.55" fill="#f6a553"/>
<circle cx="268.1" cy="405.8" r="1.55" fill="#7fcdbb"/>
<circle cx="268.1" cy="392.4" r="1.55" fill="#6fa3d6"/>
<circle cx="268.1" cy="371.3" r="1.55" fill="#f3ef9a"/>
<circle cx="268.1" cy="384.5" r="1.55" fill="#ee6a63"/>
<circle cx="268.1" cy="403.0" r="1.55" fill="#b9b3dc"/>
<circle cx="272.5" cy="386.7" r="1.55" fill="#ee6a63"/>
<circle cx="272.5" cy="376.1" r="1.55" fill="#f6a553"/>
<circle cx="272.5" cy="433.6" r="1.55" fill="#b9b3dc"/>
<circle cx="272.5" cy="403.9" r="1.55" fill="#6fa3d6"/>
<circle cx="272.5" cy="399.2" r="1.55" fill="#a3cc5a"/>
<circle cx="272.5" cy="404.5" r="1.55" fill="#f3ef9a"/>
<circle cx="276.9" cy="384.0" r="1.55" fill="#7fcdbb"/>
<circle cx="276.9" cy="387.7" r="1.55" fill="#f3ef9a"/>
<circle cx="276.9" cy="390.7" r="1.55" fill="#ee6a63"/>
<circle cx="276.9" cy="384.2" r="1.55" fill="#6fa3d6"/>
<circle cx="276.9" cy="411.3" r="1.55" fill="#f6a553"/>
<circle cx="276.9" cy="414.4" r="1.55" fill="#a3cc5a"/>
<circle cx="281.3" cy="372.4" r="1.55" fill="#7fcdbb"/>
<circle cx="281.3" cy="394.9" r="1.55" fill="#f3ef9a"/>
<circle cx="281.3" cy="387.5" r="1.55" fill="#a3cc5a"/>
<circle cx="281.3" cy="402.7" r="1.55" fill="#b9b3dc"/>
<circle cx="281.3" cy="385.0" r="1.55" fill="#ee6a63"/>
<circle cx="281.3" cy="400.7" r="1.55" fill="#6fa3d6"/>
<circle cx="281.3" cy="402.6" r="1.55" fill="#f6a553"/>
<circle cx="285.7" cy="375.7" r="1.55" fill="#b9b3dc"/>
<circle cx="285.7" cy="377.7" r="1.55" fill="#f6a553"/>
<circle cx="285.7" cy="388.1" r="1.55" fill="#f3ef9a"/>
<circle cx="285.7" cy="404.0" r="1.55" fill="#6fa3d6"/>
<circle cx="285.7" cy="395.7" r="1.55" fill="#ee6a63"/>
<circle cx="290.0" cy="384.5" r="1.55" fill="#f6a553"/>
<circle cx="290.0" cy="404.2" r="1.55" fill="#b9b3dc"/>
<circle cx="290.0" cy="390.5" r="1.55" fill="#f3ef9a"/>
<circle cx="290.0" cy="385.5" r="1.55" fill="#6fa3d6"/>
<circle cx="290.0" cy="376.7" r="1.55" fill="#7fcdbb"/>
<circle cx="294.4" cy="393.3" r="1.55" fill="#ee6a63"/>
<circle cx="294.4" cy="390.7" r="1.55" fill="#7fcdbb"/>
<circle cx="294.4" cy="377.5" r="1.55" fill="#6fa3d6"/>
<circle cx="294.4" cy="382.4" r="1.55" fill="#f6a553"/>
<circle cx="294.4" cy="402.6" r="1.55" fill="#a3cc5a"/>
<circle cx="294.4" cy="394.0" r="1.55" fill="#b9b3dc"/>
<circle cx="298.8" cy="385.8" r="1.55" fill="#b9b3dc"/>
<circle cx="298.8" cy="399.0" r="1.55" fill="#a3cc5a"/>
<circle cx="298.8" cy="381.2" r="1.55" fill="#ee6a63"/>
<circle cx="298.8" cy="405.5" r="1.55" fill="#f3ef9a"/>
<circle cx="298.8" cy="387.9" r="1.55" fill="#7fcdbb"/>
<circle cx="303.2" cy="398.8" r="1.55" fill="#b9b3dc"/>
<circle cx="303.2" cy="403.6" r="1.55" fill="#f3ef9a"/>
<circle cx="303.2" cy="393.3" r="1.55" fill="#6fa3d6"/>
<circle cx="303.2" cy="379.7" r="1.55" fill="#a3cc5a"/>
<circle cx="303.2" cy="393.3" r="1.55" fill="#f6a553"/>
<circle cx="307.6" cy="383.6" r="1.55" fill="#7fcdbb"/>
<circle cx="307.6" cy="397.6" r="1.55" fill="#6fa3d6"/>
<circle cx="307.6" cy="387.2" r="1.55" fill="#a3cc5a"/>
<circle cx="307.6" cy="389.0" r="1.55" fill="#ee6a63"/>
<circle cx="307.6" cy="395.6" r="1.55" fill="#b9b3dc"/>
<circle cx="307.6" cy="368.3" r="1.55" fill="#f3ef9a"/>
<circle cx="312.0" cy="391.8" r="1.55" fill="#f6a553"/>
<circle cx="312.0" cy="394.2" r="1.55" fill="#a3cc5a"/>
<circle cx="312.0" cy="380.1" r="1.55" fill="#b9b3dc"/>
<circle cx="312.0" cy="391.8" r="1.55" fill="#6fa3d6"/>
<circle cx="312.0" cy="362.9" r="1.55" fill="#7fcdbb"/>
<circle cx="312.0" cy="382.5" r="1.55" fill="#ee6a63"/>
<circle cx="312.0" cy="375.2" r="1.55" fill="#f3ef9a"/>
<circle cx="316.4" cy="394.8" r="1.55" fill="#f6a553"/>
<circle cx="316.4" cy="392.7" r="1.55" fill="#6fa3d6"/>
<circle cx="316.4" cy="379.2" r="1.55" fill="#f3ef9a"/>
<circle cx="316.4" cy="391.2" r="1.55" fill="#7fcdbb"/>
<circle cx="316.4" cy="382.4" r="1.55" fill="#a3cc5a"/>
<circle cx="316.4" cy="402.1" r="1.55" fill="#b9b3dc"/>
<circle cx="316.4" cy="393.1" r="1.55" fill="#ee6a63"/>
<circle cx="320.8" cy="385.4" r="1.55" fill="#f3ef9a"/>
<circle cx="320.8" cy="382.7" r="1.55" fill="#7fcdbb"/>
<circle cx="320.8" cy="381.6" r="1.55" fill="#ee6a63"/>
<circle cx="320.8" cy="379.3" r="1.55" fill="#b9b3dc"/>
<circle cx="320.8" cy="367.8" r="1.55" fill="#f6a553"/>
<circle cx="325.2" cy="383.0" r="1.55" fill="#a3cc5a"/>
<circle cx="325.2" cy="387.2" r="1.55" fill="#6fa3d6"/>
<circle cx="325.2" cy="405.9" r="1.55" fill="#7fcdbb"/>
<circle cx="325.2" cy="373.9" r="1.55" fill="#b9b3dc"/>
<circle cx="325.2" cy="378.7" r="1.55" fill="#f6a553"/>
<circle cx="325.2" cy="375.8" r="1.55" fill="#f3ef9a"/>
<circle cx="329.6" cy="372.8" r="1.55" fill="#ee6a63"/>
<circle cx="329.6" cy="395.4" r="1.55" fill="#6fa3d6"/>
<circle cx="329.6" cy="371.2" r="1.55" fill="#b9b3dc"/>
<circle cx="329.6" cy="387.8" r="1.55" fill="#a3cc5a"/>
<circle cx="329.6" cy="380.7" r="1.55" fill="#f3ef9a"/>
<circle cx="333.9" cy="383.5" r="1.55" fill="#f6a553"/>
<circle cx="333.9" cy="412.6" r="1.55" fill="#6fa3d6"/>
<circle cx="333.9" cy="385.3" r="1.55" fill="#7fcdbb"/>
<circle cx="333.9" cy="384.1" r="1.55" fill="#ee6a63"/>
<circle cx="338.3" cy="393.2" r="1.55" fill="#6fa3d6"/>
<circle cx="338.3" cy="379.7" r="1.55" fill="#f6a553"/>
<circle cx="338.3" cy="374.9" r="1.55" fill="#7fcdbb"/>
<circle cx="338.3" cy="371.9" r="1.55" fill="#b9b3dc"/>
<circle cx="338.3" cy="375.1" r="1.55" fill="#ee6a63"/>
<circle cx="338.3" cy="384.9" r="1.55" fill="#a3cc5a"/>
<circle cx="338.3" cy="381.2" r="1.55" fill="#f3ef9a"/>
<circle cx="342.7" cy="378.2" r="1.55" fill="#ee6a63"/>
<circle cx="342.7" cy="393.7" r="1.55" fill="#b9b3dc"/>
<circle cx="342.7" cy="397.1" r="1.55" fill="#7fcdbb"/>
<circle cx="342.7" cy="382.4" r="1.55" fill="#f6a553"/>
<circle cx="347.1" cy="380.1" r="1.55" fill="#b9b3dc"/>
<circle cx="347.1" cy="391.3" r="1.55" fill="#7fcdbb"/>
<circle cx="347.1" cy="373.4" r="1.55" fill="#f3ef9a"/>
<circle cx="347.1" cy="392.0" r="1.55" fill="#6fa3d6"/>
<circle cx="351.5" cy="405.7" r="1.55" fill="#ee6a63"/>
<circle cx="351.5" cy="366.6" r="1.55" fill="#f3ef9a"/>
<circle cx="351.5" cy="396.4" r="1.55" fill="#b9b3dc"/>
<circle cx="351.5" cy="389.2" r="1.55" fill="#a3cc5a"/>
<circle cx="351.5" cy="372.6" r="1.55" fill="#f6a553"/>
<circle cx="351.5" cy="372.1" r="1.55" fill="#6fa3d6"/>
<circle cx="355.9" cy="385.0" r="1.55" fill="#a3cc5a"/>
<circle cx="355.9" cy="388.9" r="1.55" fill="#7fcdbb"/>
<circle cx="355.9" cy="379.8" r="1.55" fill="#f3ef9a"/>
<circle cx="355.9" cy="399.2" r="1.55" fill="#f6a553"/>
<circle cx="355.9" cy="423.2" r="1.55" fill="#6fa3d6"/>
<circle cx="355.9" cy="396.2" r="1.55" fill="#b9b3dc"/>
<circle cx="360.3" cy="373.1" r="1.55" fill="#f3ef9a"/>
<circle cx="360.3" cy="375.4" r="1.55" fill="#6fa3d6"/>
<circle cx="360.3" cy="361.0" r="1.55" fill="#a3cc5a"/>
<circle cx="360.3" cy="378.5" r="1.55" fill="#7fcdbb"/>
<circle cx="364.7" cy="376.7" r="1.55" fill="#ee6a63"/>
<circle cx="364.7" cy="368.5" r="1.55" fill="#f6a553"/>
<circle cx="364.7" cy="384.2" r="1.55" fill="#a3cc5a"/>
<circle cx="364.7" cy="375.7" r="1.55" fill="#7fcdbb"/>
<circle cx="369.1" cy="386.4" r="1.55" fill="#a3cc5a"/>
<circle cx="369.1" cy="391.3" r="1.55" fill="#ee6a63"/>
<circle cx="369.1" cy="383.2" r="1.55" fill="#f3ef9a"/>
<circle cx="369.1" cy="370.2" r="1.55" fill="#7fcdbb"/>
<circle cx="373.5" cy="364.3" r="1.55" fill="#6fa3d6"/>
<circle cx="373.5" cy="388.6" r="1.55" fill="#b9b3dc"/>
<circle cx="373.5" cy="368.1" r="1.55" fill="#ee6a63"/>
<circle cx="373.5" cy="371.8" r="1.55" fill="#7fcdbb"/>
<circle cx="377.8" cy="372.8" r="1.55" fill="#f6a553"/>
<circle cx="377.8" cy="381.2" r="1.55" fill="#ee6a63"/>
<circle cx="377.8" cy="389.2" r="1.55" fill="#7fcdbb"/>
<circle cx="377.8" cy="379.9" r="1.55" fill="#a3cc5a"/>
<circle cx="382.2" cy="373.4" r="1.55" fill="#6fa3d6"/>
<circle cx="382.2" cy="418.7" r="1.55" fill="#f3ef9a"/>
<circle cx="382.2" cy="401.6" r="1.55" fill="#b9b3dc"/>
<circle cx="382.2" cy="377.5" r="1.55" fill="#ee6a63"/>
<circle cx="382.2" cy="390.1" r="1.55" fill="#a3cc5a"/>
<circle cx="386.6" cy="366.5" r="1.55" fill="#6fa3d6"/>
<circle cx="386.6" cy="369.2" r="1.55" fill="#ee6a63"/>
<circle cx="386.6" cy="368.1" r="1.55" fill="#b9b3dc"/>
<circle cx="386.6" cy="356.6" r="1.55" fill="#f6a553"/>
<circle cx="386.6" cy="374.5" r="1.55" fill="#f3ef9a"/>
<circle cx="386.6" cy="371.5" r="1.55" fill="#7fcdbb"/>
<circle cx="391.0" cy="367.6" r="1.55" fill="#7fcdbb"/>
<circle cx="391.0" cy="381.3" r="1.55" fill="#ee6a63"/>
<circle cx="391.0" cy="390.2" r="1.55" fill="#f6a553"/>
<circle cx="391.0" cy="377.4" r="1.55" fill="#a3cc5a"/>
<circle cx="391.0" cy="374.6" r="1.55" fill="#f3ef9a"/>
<circle cx="395.4" cy="393.3" r="1.55" fill="#6fa3d6"/>
<circle cx="395.4" cy="380.0" r="1.55" fill="#7fcdbb"/>
<circle cx="395.4" cy="368.1" r="1.55" fill="#ee6a63"/>
<circle cx="395.4" cy="378.4" r="1.55" fill="#b9b3dc"/>
<circle cx="395.4" cy="379.4" r="1.55" fill="#f6a553"/>
<circle cx="395.4" cy="383.9" r="1.55" fill="#a3cc5a"/>
<circle cx="395.4" cy="367.8" r="1.55" fill="#f3ef9a"/>
<circle cx="399.8" cy="384.1" r="1.55" fill="#b9b3dc"/>
<circle cx="399.8" cy="382.7" r="1.55" fill="#6fa3d6"/>
<circle cx="399.8" cy="381.0" r="1.55" fill="#a3cc5a"/>
<circle cx="399.8" cy="378.2" r="1.55" fill="#f3ef9a"/>
<circle cx="399.8" cy="344.1" r="1.55" fill="#ee6a63"/>
<circle cx="404.2" cy="388.8" r="1.55" fill="#f6a553"/>
<circle cx="404.2" cy="367.9" r="1.55" fill="#a3cc5a"/>
<circle cx="404.2" cy="420.3" r="1.55" fill="#f3ef9a"/>
<circle cx="404.2" cy="382.5" r="1.55" fill="#7fcdbb"/>
<circle cx="408.6" cy="370.4" r="1.55" fill="#f3ef9a"/>
<circle cx="408.6" cy="369.7" r="1.55" fill="#6fa3d6"/>
<circle cx="408.6" cy="377.6" r="1.55" fill="#f6a553"/>
<circle cx="408.6" cy="375.2" r="1.55" fill="#7fcdbb"/>
<circle cx="408.6" cy="395.0" r="1.55" fill="#b9b3dc"/>
<circle cx="413.0" cy="373.8" r="1.55" fill="#b9b3dc"/>
<circle cx="413.0" cy="383.3" r="1.55" fill="#f6a553"/>
<circle cx="413.0" cy="367.8" r="1.55" fill="#a3cc5a"/>
<circle cx="413.0" cy="363.2" r="1.55" fill="#f3ef9a"/>
<circle cx="417.4" cy="368.3" r="1.55" fill="#f3ef9a"/>
<circle cx="417.4" cy="365.4" r="1.55" fill="#f6a553"/>
<circle cx="417.4" cy="416.0" r="1.55" fill="#a3cc5a"/>
<circle cx="417.4" cy="371.2" r="1.55" fill="#b9b3dc"/>
<circle cx="417.4" cy="366.5" r="1.55" fill="#ee6a63"/>
<circle cx="417.4" cy="367.1" r="1.55" fill="#6fa3d6"/>
<circle cx="417.4" cy="376.3" r="1.55" fill="#7fcdbb"/>
<circle cx="421.7" cy="368.4" r="1.55" fill="#ee6a63"/>
<circle cx="421.7" cy="384.2" r="1.55" fill="#a3cc5a"/>
<circle cx="421.7" cy="356.0" r="1.55" fill="#6fa3d6"/>
<circle cx="421.7" cy="362.3" r="1.55" fill="#7fcdbb"/>
<circle cx="421.7" cy="379.2" r="1.55" fill="#f3ef9a"/>
<circle cx="426.1" cy="381.9" r="1.55" fill="#a3cc5a"/>
<circle cx="426.1" cy="373.5" r="1.55" fill="#f6a553"/>
<circle cx="426.1" cy="365.0" r="1.55" fill="#ee6a63"/>
<circle cx="426.1" cy="376.6" r="1.55" fill="#6fa3d6"/>
<circle cx="426.1" cy="357.4" r="1.55" fill="#7fcdbb"/>
<circle cx="426.1" cy="366.7" r="1.55" fill="#b9b3dc"/>
<circle cx="426.1" cy="359.4" r="1.55" fill="#f3ef9a"/>
<circle cx="430.5" cy="380.1" r="1.55" fill="#6fa3d6"/>
<circle cx="430.5" cy="380.6" r="1.55" fill="#7fcdbb"/>
<circle cx="430.5" cy="371.2" r="1.55" fill="#f3ef9a"/>
<circle cx="430.5" cy="357.1" r="1.55" fill="#f6a553"/>
<circle cx="430.5" cy="366.3" r="1.55" fill="#a3cc5a"/>
<circle cx="430.5" cy="378.0" r="1.55" fill="#ee6a63"/>
<circle cx="434.9" cy="371.1" r="1.55" fill="#7fcdbb"/>
<circle cx="434.9" cy="367.7" r="1.55" fill="#f6a553"/>
<circle cx="434.9" cy="376.3" r="1.55" fill="#b9b3dc"/>
<circle cx="434.9" cy="370.2" r="1.55" fill="#ee6a63"/>
<circle cx="434.9" cy="382.3" r="1.55" fill="#6fa3d6"/>
<circle cx="439.3" cy="372.8" r="1.55" fill="#7fcdbb"/>
<circle cx="439.3" cy="353.6" r="1.55" fill="#6fa3d6"/>
<circle cx="439.3" cy="362.6" r="1.55" fill="#f6a553"/>
<circle cx="439.3" cy="367.5" r="1.55" fill="#ee6a63"/>
<circle cx="439.3" cy="378.1" r="1.55" fill="#a3cc5a"/>
<circle cx="443.7" cy="363.0" r="1.55" fill="#7fcdbb"/>
<circle cx="443.7" cy="370.8" r="1.55" fill="#b9b3dc"/>
<circle cx="443.7" cy="356.3" r="1.55" fill="#a3cc5a"/>
<circle cx="443.7" cy="342.8" r="1.55" fill="#ee6a63"/>
<circle cx="443.7" cy="377.4" r="1.55" fill="#f3ef9a"/>
<circle cx="448.1" cy="341.0" r="1.55" fill="#a3cc5a"/>
<circle cx="448.1" cy="366.3" r="1.55" fill="#f6a553"/>
<circle cx="448.1" cy="375.0" r="1.55" fill="#7fcdbb"/>
<circle cx="448.1" cy="376.3" r="1.55" fill="#f3ef9a"/>
<circle cx="448.1" cy="376.2" r="1.55" fill="#ee6a63"/>
<circle cx="448.1" cy="369.6" r="1.55" fill="#b9b3dc"/>
<circle cx="452.5" cy="368.7" r="1.55" fill="#a3cc5a"/>
<circle cx="452.5" cy="360.7" r="1.55" fill="#ee6a63"/>
<circle cx="452.5" cy="360.5" r="1.55" fill="#f3ef9a"/>
<circle cx="452.5" cy="367.4" r="1.55" fill="#b9b3dc"/>
<circle cx="452.5" cy="366.4" r="1.55" fill="#f6a553"/>
<circle cx="452.5" cy="370.7" r="1.55" fill="#6fa3d6"/>
<circle cx="456.9" cy="342.3" r="1.55" fill="#a3cc5a"/>
<circle cx="456.9" cy="365.2" r="1.55" fill="#b9b3dc"/>
<circle cx="456.9" cy="359.4" r="1.55" fill="#f6a553"/>
<circle cx="456.9" cy="356.1" r="1.55" fill="#7fcdbb"/>
<circle cx="456.9" cy="352.8" r="1.55" fill="#6fa3d6"/>
<circle cx="456.9" cy="351.8" r="1.55" fill="#ee6a63"/>
<circle cx="461.3" cy="370.7" r="1.55" fill="#6fa3d6"/>
<circle cx="461.3" cy="363.3" r="1.55" fill="#7fcdbb"/>
<circle cx="461.3" cy="366.2" r="1.55" fill="#f6a553"/>
<circle cx="461.3" cy="363.4" r="1.55" fill="#b9b3dc"/>
<circle cx="465.6" cy="358.3" r="1.55" fill="#b9b3dc"/>
<circle cx="465.6" cy="365.0" r="1.55" fill="#f6a553"/>
<circle cx="465.6" cy="349.0" r="1.55" fill="#6fa3d6"/>
<circle cx="465.6" cy="380.2" r="1.55" fill="#7fcdbb"/>
<circle cx="465.6" cy="348.7" r="1.55" fill="#ee6a63"/>
<circle cx="470.0" cy="364.7" r="1.55" fill="#b9b3dc"/>
<circle cx="470.0" cy="376.8" r="1.55" fill="#f6a553"/>
<circle cx="470.0" cy="359.0" r="1.55" fill="#ee6a63"/>
<circle cx="470.0" cy="363.0" r="1.55" fill="#7fcdbb"/>
<circle cx="470.0" cy="369.0" r="1.55" fill="#a3cc5a"/>
<circle cx="470.0" cy="352.7" r="1.55" fill="#f3ef9a"/>
<circle cx="474.4" cy="359.1" r="1.55" fill="#f3ef9a"/>
<circle cx="474.4" cy="364.0" r="1.55" fill="#f6a553"/>
<circle cx="474.4" cy="356.8" r="1.55" fill="#ee6a63"/>
<circle cx="474.4" cy="367.1" r="1.55" fill="#b9b3dc"/>
<circle cx="474.4" cy="362.7" r="1.55" fill="#6fa3d6"/>
<circle cx="474.4" cy="344.8" r="1.55" fill="#7fcdbb"/>
<circle cx="474.4" cy="354.5" r="1.55" fill="#a3cc5a"/>
<circle cx="478.8" cy="366.6" r="1.55" fill="#b9b3dc"/>
<circle cx="478.8" cy="356.2" r="1.55" fill="#f3ef9a"/>
<circle cx="478.8" cy="363.4" r="1.55" fill="#6fa3d6"/>
<circle cx="478.8" cy="353.7" r="1.55" fill="#7fcdbb"/>
<circle cx="478.8" cy="355.3" r="1.55" fill="#a3cc5a"/>
<circle cx="483.2" cy="359.1" r="1.55" fill="#6fa3d6"/>
<circle cx="483.2" cy="347.5" r="1.55" fill="#f3ef9a"/>
<circle cx="483.2" cy="353.4" r="1.55" fill="#7fcdbb"/>
<circle cx="483.2" cy="364.0" r="1.55" fill="#b9b3dc"/>
<circle cx="483.2" cy="386.2" r="1.55" fill="#f6a553"/>
<circle cx="487.6" cy="376.7" r="1.55" fill="#ee6a63"/>
<circle cx="487.6" cy="371.4" r="1.55" fill="#b9b3dc"/>
<circle cx="487.6" cy="353.9" r="1.55" fill="#f3ef9a"/>
<circle cx="487.6" cy="358.0" r="1.55" fill="#6fa3d6"/>
<circle cx="487.6" cy="362.3" r="1.55" fill="#a3cc5a"/>
<circle cx="492.0" cy="348.9" r="1.55" fill="#f3ef9a"/>
<circle cx="492.0" cy="352.6" r="1.55" fill="#f6a553"/>
<circle cx="492.0" cy="333.7" r="1.55" fill="#ee6a63"/>
<circle cx="492.0" cy="347.7" r="1.55" fill="#7fcdbb"/>
<circle cx="492.0" cy="346.3" r="1.55" fill="#6fa3d6"/>
<circle cx="496.4" cy="354.1" r="1.55" fill="#7fcdbb"/>
<circle cx="496.4" cy="380.3" r="1.55" fill="#f6a553"/>
<circle cx="496.4" cy="346.6" r="1.55" fill="#6fa3d6"/>
<circle cx="496.4" cy="360.5" r="1.55" fill="#f3ef9a"/>
<circle cx="500.8" cy="359.8" r="1.55" fill="#7fcdbb"/>
<circle cx="500.8" cy="339.4" r="1.55" fill="#f3ef9a"/>
<circle cx="500.8" cy="343.3" r="1.55" fill="#ee6a63"/>
<circle cx="500.8" cy="361.3" r="1.55" fill="#a3cc5a"/>
<circle cx="500.8" cy="343.6" r="1.55" fill="#b9b3dc"/>
<circle cx="505.2" cy="357.6" r="1.55" fill="#ee6a63"/>
<circle cx="505.2" cy="346.0" r="1.55" fill="#7fcdbb"/>
<circle cx="505.2" cy="367.2" r="1.55" fill="#f3ef9a"/>
<circle cx="505.2" cy="360.2" r="1.55" fill="#a3cc5a"/>
<circle cx="505.2" cy="349.4" r="1.55" fill="#6fa3d6"/>
<circle cx="505.2" cy="364.0" r="1.55" fill="#f6a553"/>
<circle cx="505.2" cy="359.6" r="1.55" fill="#b9b3dc"/>
<circle cx="509.5" cy="336.5" r="1.55" fill="#a3cc5a"/>
<circle cx="509.5" cy="343.2" r="1.55" fill="#ee6a63"/>
<circle cx="509.5" cy="354.6" r="1.55" fill="#f3ef9a"/>
<circle cx="509.5" cy="381.9" r="1.55" fill="#f6a553"/>
<circle cx="509.5" cy="343.6" r="1.55" fill="#6fa3d6"/>
<circle cx="513.9" cy="346.9" r="1.55" fill="#b9b3dc"/>
<circle cx="513.9" cy="349.9" r="1.55" fill="#7fcdbb"/>
<circle cx="513.9" cy="364.0" r="1.55" fill="#a3cc5a"/>
<circle cx="513.9" cy="343.0" r="1.55" fill="#f6a553"/>
<circle cx="513.9" cy="342.2" r="1.55" fill="#ee6a63"/>
<circle cx="518.3" cy="346.3" r="1.55" fill="#a3cc5a"/>
<circle cx="518.3" cy="326.0" r="1.55" fill="#ee6a63"/>
<circle cx="518.3" cy="349.5" r="1.55" fill="#f6a553"/>
<circle cx="518.3" cy="352.6" r="1.55" fill="#7fcdbb"/>
<circle cx="518.3" cy="378.5" r="1.55" fill="#f3ef9a"/>
<circle cx="518.3" cy="352.5" r="1.55" fill="#b9b3dc"/>
<circle cx="522.7" cy="347.6" r="1.55" fill="#ee6a63"/>
<circle cx="522.7" cy="333.8" r="1.55" fill="#a3cc5a"/>
<circle cx="522.7" cy="357.5" r="1.55" fill="#f6a553"/>
<circle cx="522.7" cy="329.8" r="1.55" fill="#f3ef9a"/>
<circle cx="522.7" cy="337.5" r="1.55" fill="#b9b3dc"/>
<circle cx="522.7" cy="353.7" r="1.55" fill="#6fa3d6"/>
<circle cx="527.1" cy="329.6" r="1.55" fill="#f3ef9a"/>
<circle cx="527.1" cy="327.1" r="1.55" fill="#7fcdbb"/>
<circle cx="527.1" cy="341.6" r="1.55" fill="#b9b3dc"/>
<circle cx="527.1" cy="352.4" r="1.55" fill="#6fa3d6"/>
<circle cx="527.1" cy="325.3" r="1.55" fill="#a3cc5a"/>
<circle cx="527.1" cy="340.3" r="1.55" fill="#f6a553"/>
<circle cx="531.5" cy="351.1" r="1.55" fill="#a3cc5a"/>
<circle cx="531.5" cy="359.8" r="1.55" fill="#f3ef9a"/>
<circle cx="531.5" cy="334.5" r="1.55" fill="#6fa3d6"/>
<circle cx="531.5" cy="344.4" r="1.55" fill="#b9b3dc"/>
<circle cx="535.9" cy="340.3" r="1.55" fill="#7fcdbb"/>
<circle cx="535.9" cy="322.5" r="1.55" fill="#ee6a63"/>
<circle cx="535.9" cy="333.2" r="1.55" fill="#f6a553"/>
<circle cx="535.9" cy="315.6" r="1.55" fill="#a3cc5a"/>
<circle cx="535.9" cy="332.2" r="1.55" fill="#f3ef9a"/>
<circle cx="535.9" cy="321.5" r="1.55" fill="#b9b3dc"/>
<circle cx="535.9" cy="346.0" r="1.55" fill="#6fa3d6"/>
<circle cx="540.3" cy="322.6" r="1.55" fill="#a3cc5a"/>
<circle cx="540.3" cy="330.8" r="1.55" fill="#f3ef9a"/>
<circle cx="540.3" cy="337.6" r="1.55" fill="#ee6a63"/>
<circle cx="540.3" cy="317.0" r="1.55" fill="#b9b3dc"/>
<circle cx="540.3" cy="346.1" r="1.55" fill="#6fa3d6"/>
<circle cx="540.3" cy="336.1" r="1.55" fill="#f6a553"/>
<circle cx="540.3" cy="325.6" r="1.55" fill="#7fcdbb"/>
<circle cx="544.7" cy="321.5" r="1.55" fill="#b9b3dc"/>
<circle cx="544.7" cy="338.9" r="1.55" fill="#7fcdbb"/>
<circle cx="544.7" cy="332.2" r="1.55" fill="#f6a553"/>
<circle cx="544.7" cy="317.0" r="1.55" fill="#6fa3d6"/>
<circle cx="544.7" cy="326.9" r="1.55" fill="#f3ef9a"/>
<circle cx="544.7" cy="321.2" r="1.55" fill="#a3cc5a"/>
<circle cx="549.1" cy="334.8" r="1.55" fill="#7fcdbb"/>
<circle cx="549.1" cy="334.4" r="1.55" fill="#6fa3d6"/>
<circle cx="549.1" cy="334.3" r="1.55" fill="#f3ef9a"/>
<circle cx="549.1" cy="323.8" r="1.55" fill="#a3cc5a"/>
<circle cx="549.1" cy="318.2" r="1.55" fill="#b9b3dc"/>
<circle cx="549.1" cy="344.9" r="1.55" fill="#ee6a63"/>
<circle cx="553.4" cy="328.0" r="1.55" fill="#a3cc5a"/>
<circle cx="553.4" cy="349.8" r="1.55" fill="#f3ef9a"/>
<circle cx="553.4" cy="319.3" r="1.55" fill="#6fa3d6"/>
<circle cx="553.4" cy="325.5" r="1.55" fill="#b9b3dc"/>
<circle cx="557.8" cy="339.5" r="1.55" fill="#6fa3d6"/>
<circle cx="557.8" cy="327.2" r="1.55" fill="#ee6a63"/>
<circle cx="557.8" cy="321.4" r="1.55" fill="#7fcdbb"/>
<circle cx="557.8" cy="325.6" r="1.55" fill="#f3ef9a"/>
<circle cx="562.2" cy="323.7" r="1.55" fill="#b9b3dc"/>
<circle cx="562.2" cy="332.5" r="1.55" fill="#a3cc5a"/>
<circle cx="562.2" cy="301.5" r="1.55" fill="#7fcdbb"/>
<circle cx="562.2" cy="322.8" r="1.55" fill="#6fa3d6"/>
<circle cx="562.2" cy="311.6" r="1.55" fill="#f3ef9a"/>
<circle cx="562.2" cy="307.6" r="1.55" fill="#ee6a63"/>
<circle cx="566.6" cy="325.4" r="1.55" fill="#ee6a63"/>
<circle cx="566.6" cy="304.4" r="1.55" fill="#b9b3dc"/>
<circle cx="566.6" cy="302.2" r="1.55" fill="#f6a553"/>
<circle cx="566.6" cy="323.5" r="1.55" fill="#a3cc5a"/>
<circle cx="566.6" cy="295.2" r="1.55" fill="#7fcdbb"/>
<circle cx="566.6" cy="335.7" r="1.55" fill="#6fa3d6"/>
<circle cx="571.0" cy="320.2" r="1.55" fill="#7fcdbb"/>
<circle cx="571.0" cy="319.9" r="1.55" fill="#ee6a63"/>
<circle cx="571.0" cy="321.8" r="1.55" fill="#6fa3d6"/>
<circle cx="571.0" cy="312.1" r="1.55" fill="#f6a553"/>
<circle cx="571.0" cy="325.6" r="1.55" fill="#a3cc5a"/>
<circle cx="571.0" cy="303.7" r="1.55" fill="#b9b3dc"/>
<circle cx="92.5" cy="472.5" r="1.55" fill="#ee6a63"/>
<circle cx="92.5" cy="477.8" r="1.55" fill="#7fcdbb"/>
<circle cx="92.5" cy="484.6" r="1.55" fill="#b9b3dc"/>
<circle cx="92.5" cy="530.0" r="1.55" fill="#6fa3d6"/>
<circle cx="96.9" cy="462.3" r="1.55" fill="#ee6a63"/>
<circle cx="96.9" cy="467.6" r="1.55" fill="#b9b3dc"/>
<circle cx="96.9" cy="474.0" r="1.55" fill="#7fcdbb"/>
<circle cx="96.9" cy="485.7" r="1.55" fill="#f3ef9a"/>
<circle cx="175.9" cy="352.1" r="1.55" fill="#a3cc5a"/>
<circle cx="175.9" cy="435.2" r="1.55" fill="#a3cc5a"/>
<circle cx="118.8" cy="471.9" r="1.55" fill="#6fa3d6"/>
<circle cx="123.2" cy="466.6" r="1.55" fill="#6fa3d6"/>
<circle cx="127.6" cy="462.3" r="1.55" fill="#6fa3d6"/>
<circle cx="136.4" cy="447.5" r="1.55" fill="#b9b3dc"/>
<circle cx="145.2" cy="452.8" r="1.55" fill="#6fa3d6"/>
<circle cx="149.6" cy="442.2" r="1.55" fill="#6fa3d6"/>
<circle cx="184.7" cy="445.0" r="1.55" fill="#6fa3d6"/>
<circle cx="197.9" cy="435.0" r="1.55" fill="#6fa3d6"/>
<circle cx="246.1" cy="428.8" r="1.55" fill="#6fa3d6"/>
</g>
<polyline points="92.5,491.0 96.9,472.3 101.3,446.3 105.7,437.2 110.1,435.1 114.4,433.3 118.8,430.4 123.2,427.5 127.6,425.4 132.0,423.9 136.4,422.5 140.8,421.0 145.2,419.5 149.6,418.1 154.0,416.6 158.3,415.2 162.7,413.7 167.1,412.3 171.5,410.8 175.9,409.3 180.3,408.0 184.7,406.9 189.1,405.8 193.5,404.7 197.9,403.6 202.2,402.5 206.6,401.5 211.0,400.4 215.4,399.6 219.8,398.9 224.2,398.2 228.6,397.5 233.0,396.9 237.4,396.2 241.8,395.6 246.1,394.9 250.5,394.4 254.9,394.0 259.3,393.6 263.7,393.2 268.1,392.7 272.5,392.3 276.9,391.9 281.3,391.5 285.7,390.9 290.0,390.3 294.4,389.8 298.8,389.2 303.2,388.5 307.6,387.8 312.0,387.1 316.4,386.5 320.8,386.0 325.2,385.6 329.6,385.2 333.9,384.8 338.3,384.4 342.7,383.8 347.1,383.2 351.5,382.6 355.9,382.1 360.3,381.4 364.7,380.7 369.1,380.0 373.5,379.4 377.8,378.7 382.2,377.9 386.6,377.2 391.0,376.4 395.4,375.7 399.8,375.3 404.2,375.0 408.6,374.6 413.0,374.3 417.4,373.7 421.7,372.8 426.1,371.9 430.5,371.0 434.9,370.0 439.3,368.4 443.7,366.8 448.1,365.2 452.5,363.7 456.9,362.3 461.3,361.0 465.6,359.7 470.0,358.4 474.4,357.3 478.8,356.4 483.2,355.5 487.6,354.7 492.0,353.7 496.4,352.7 500.8,351.7 505.2,350.6 509.5,349.6 513.9,347.6 518.3,345.5 522.7,343.5 527.1,341.4 531.5,339.3 535.9,337.0 540.3,334.8 544.7,331.1 549.1,327.7 553.4,324.7 557.8,321.8 562.2,318.8 566.6,315.8 571.0,313.1" fill="none" stroke="#333" stroke-width="1.05"/>
<g fill="#505050" stroke="#2a2a2a" stroke-width="0.4">
<circle cx="92.5" cy="491.0" r="1.65"/>
<circle cx="96.9" cy="472.3" r="1.65"/>
<circle cx="101.3" cy="446.3" r="1.65"/>
<circle cx="105.7" cy="437.2" r="1.65"/>
<circle cx="110.1" cy="435.1" r="1.65"/>
<circle cx="114.4" cy="433.3" r="1.65"/>
<circle cx="118.8" cy="430.4" r="1.65"/>
<circle cx="123.2" cy="427.5" r="1.65"/>
<circle cx="127.6" cy="425.4" r="1.65"/>
<circle cx="132.0" cy="423.9" r="1.65"/>
<circle cx="136.4" cy="422.5" r="1.65"/>
<circle cx="140.8" cy="421.0" r="1.65"/>
<circle cx="145.2" cy="419.5" r="1.65"/>
<circle cx="149.6" cy="418.1" r="1.65"/>
<circle cx="154.0" cy="416.6" r="1.65"/>
<circle cx="158.3" cy="415.2" r="1.65"/>
<circle cx="162.7" cy="413.7" r="1.65"/>
<circle cx="167.1" cy="412.3" r="1.65"/>
<circle cx="171.5" cy="410.8" r="1.65"/>
<circle cx="175.9" cy="409.3" r="1.65"/>
<circle cx="180.3" cy="408.0" r="1.65"/>
<circle cx="184.7" cy="406.9" r="1.65"/>
<circle cx="189.1" cy="405.8" r="1.65"/>
<circle cx="193.5" cy="404.7" r="1.65"/>
<circle cx="197.9" cy="403.6" r="1.65"/>
<circle cx="202.2" cy="402.5" r="1.65"/>
<circle cx="206.6" cy="401.5" r="1.65"/>
<circle cx="211.0" cy="400.4" r="1.65"/>
<circle cx="215.4" cy="399.6" r="1.65"/>
<circle cx="219.8" cy="398.9" r="1.65"/>
<circle cx="224.2" cy="398.2" r="1.65"/>
<circle cx="228.6" cy="397.5" r="1.65"/>
<circle cx="233.0" cy="396.9" r="1.65"/>
<circle cx="237.4" cy="396.2" r="1.65"/>
<circle cx="241.8" cy="395.6" r="1.65"/>
<circle cx="246.1" cy="394.9" r="1.65"/>
<circle cx="250.5" cy="394.4" r="1.65"/>
<circle cx="254.9" cy="394.0" r="1.65"/>
<circle cx="259.3" cy="393.6" r="1.65"/>
<circle cx="263.7" cy="393.2" r="1.65"/>
<circle cx="268.1" cy="392.7" r="1.65"/>
<circle cx="272.5" cy="392.3" r="1.65"/>
<circle cx="276.9" cy="391.9" r="1.65"/>
<circle cx="281.3" cy="391.5" r="1.65"/>
<circle cx="285.7" cy="390.9" r="1.65"/>
<circle cx="290.0" cy="390.3" r="1.65"/>
<circle cx="294.4" cy="389.8" r="1.65"/>
<circle cx="298.8" cy="389.2" r="1.65"/>
<circle cx="303.2" cy="388.5" r="1.65"/>
<circle cx="307.6" cy="387.8" r="1.65"/>
<circle cx="312.0" cy="387.1" r="1.65"/>
<circle cx="316.4" cy="386.5" r="1.65"/>
<circle cx="320.8" cy="386.0" r="1.65"/>
<circle cx="325.2" cy="385.6" r="1.65"/>
<circle cx="329.6" cy="385.2" r="1.65"/>
<circle cx="333.9" cy="384.8" r="1.65"/>
<circle cx="338.3" cy="384.4" r="1.65"/>
<circle cx="342.7" cy="383.8" r="1.65"/>
<circle cx="347.1" cy="383.2" r="1.65"/>
<circle cx="351.5" cy="382.6" r="1.65"/>
<circle cx="355.9" cy="382.1" r="1.65"/>
<circle cx="360.3" cy="381.4" r="1.65"/>
<circle cx="364.7" cy="380.7" r="1.65"/>
<circle cx="369.1" cy="380.0" r="1.65"/>
<circle cx="373.5" cy="379.4" r="1.65"/>
<circle cx="377.8" cy="378.7" r="1.65"/>
<circle cx="382.2" cy="377.9" r="1.65"/>
<circle cx="386.6" cy="377.2" r="1.65"/>
<circle cx="391.0" cy="376.4" r="1.65"/>
<circle cx="395.4" cy="375.7" r="1.65"/>
<circle cx="399.8" cy="375.3" r="1.65"/>
<circle cx="404.2" cy="375.0" r="1.65"/>
<circle cx="408.6" cy="374.6" r="1.65"/>
<circle cx="413.0" cy="374.3" r="1.65"/>
<circle cx="417.4" cy="373.7" r="1.65"/>
<circle cx="421.7" cy="372.8" r="1.65"/>
<circle cx="426.1" cy="371.9" r="1.65"/>
<circle cx="430.5" cy="371.0" r="1.65"/>
<circle cx="434.9" cy="370.0" r="1.65"/>
<circle cx="439.3" cy="368.4" r="1.65"/>
<circle cx="443.7" cy="366.8" r="1.65"/>
<circle cx="448.1" cy="365.2" r="1.65"/>
<circle cx="452.5" cy="363.7" r="1.65"/>
<circle cx="456.9" cy="362.3" r="1.65"/>
<circle cx="461.3" cy="361.0" r="1.65"/>
<circle cx="465.6" cy="359.7" r="1.65"/>
<circle cx="470.0" cy="358.4" r="1.65"/>
<circle cx="474.4" cy="357.3" r="1.65"/>
<circle cx="478.8" cy="356.4" r="1.65"/>
<circle cx="483.2" cy="355.5" r="1.65"/>
<circle cx="487.6" cy="354.7" r="1.65"/>
<circle cx="492.0" cy="353.7" r="1.65"/>
<circle cx="496.4" cy="352.7" r="1.65"/>
<circle cx="500.8" cy="351.7" r="1.65"/>
<circle cx="505.2" cy="350.6" r="1.65"/>
<circle cx="509.5" cy="349.6" r="1.65"/>
<circle cx="513.9" cy="347.6" r="1.65"/>
<circle cx="518.3" cy="345.5" r="1.65"/>
<circle cx="522.7" cy="343.5" r="1.65"/>
<circle cx="527.1" cy="341.4" r="1.65"/>
<circle cx="531.5" cy="339.3" r="1.65"/>
<circle cx="535.9" cy="337.0" r="1.65"/>
<circle cx="540.3" cy="334.8" r="1.65"/>
<circle cx="544.7" cy="331.1" r="1.65"/>
<circle cx="549.1" cy="327.7" r="1.65"/>
<circle cx="553.4" cy="324.7" r="1.65"/>
<circle cx="557.8" cy="321.8" r="1.65"/>
<circle cx="562.2" cy="318.8" r="1.65"/>
<circle cx="566.6" cy="315.8" r="1.65"/>
<circle cx="571.0" cy="313.1" r="1.65"/>
</g>
<circle cx="288.9" cy="496.9" r="2.9" fill="#7fcdbb" stroke="#4a4a4a" stroke-width="0.5"/>
<text x="297.8" y="499.79999999999995" font-size="8.4" textLength="29.4" lengthAdjust="spacingAndGlyphs">AC-like</text>
<circle cx="352" cy="496.9" r="2.9" fill="#b9b3dc" stroke="#4a4a4a" stroke-width="0.5"/>
<text x="360.9" y="499.79999999999995" font-size="8.4" textLength="32.5" lengthAdjust="spacingAndGlyphs">Hypoxia</text>
<circle cx="414.3" cy="496.9" r="2.9" fill="#6fa3d6" stroke="#4a4a4a" stroke-width="0.5"/>
<text x="423" y="499.79999999999995" font-size="8.4" textLength="33.8" lengthAdjust="spacingAndGlyphs">NEU-like</text>
<circle cx="475.8" cy="496.9" r="2.9" fill="#a3cc5a" stroke="#4a4a4a" stroke-width="0.5"/>
<text x="484.8" y="499.79999999999995" font-size="8.4" textLength="35.1" lengthAdjust="spacingAndGlyphs">OPC-like</text>
<circle cx="288.9" cy="510.6" r="2.9" fill="#f3ef9a" stroke="#4a4a4a" stroke-width="0.5"/>
<text x="297.8" y="513.5" font-size="8.4" textLength="35.3" lengthAdjust="spacingAndGlyphs">GPC-like</text>
<circle cx="352" cy="510.6" r="2.9" fill="#ee6a63" stroke="#4a4a4a" stroke-width="0.5"/>
<text x="360.9" y="513.5" font-size="8.4" textLength="34.4" lengthAdjust="spacingAndGlyphs">MES-like</text>
<circle cx="414.3" cy="510.6" r="2.9" fill="#f6a553" stroke="#4a4a4a" stroke-width="0.5"/>
<text x="423" y="513.5" font-size="8.4" textLength="34.6" lengthAdjust="spacingAndGlyphs">NPC-like</text>
<circle cx="475.8" cy="510.6" r="2.9" fill="#555" stroke="#4a4a4a" stroke-width="0.5"/>
<text x="484.8" y="513.5" font-size="8.4" textLength="46.9" lengthAdjust="spacingAndGlyphs">Mean score</text>
<text x="311" y="554.9" font-size="10" textLength="41.4" lengthAdjust="spacingAndGlyphs">Samples</text>
<text x="40.4" y="576.1" font-size="14.2" font-weight="bold" stroke="#231f20" stroke-width="0.6">d</text>
<line x1="79.7" y1="576.5" x2="79.7" y2="839.2" stroke="#888" stroke-width="1"/>
<line x1="79.7" y1="839.2" x2="582.8" y2="839.2" stroke="#888" stroke-width="1"/>
<line x1="75.2" y1="583.6" x2="79.7" y2="583.6" stroke="#888" stroke-width="1"/>
<text x="69.6" y="592.0000000000001" font-size="9" text-anchor="end">2</text>
<line x1="75.2" y1="636.5" x2="79.7" y2="636.5" stroke="#888" stroke-width="1"/>
<text x="69.6" y="639.7" font-size="9" text-anchor="end">1</text>
<line x1="75.2" y1="684.2" x2="79.7" y2="684.2" stroke="#888" stroke-width="1"/>
<text x="69.6" y="687.4000000000001" font-size="9" text-anchor="end">0</text>
<line x1="75.2" y1="731.9000000000001" x2="79.7" y2="731.9000000000001" stroke="#888" stroke-width="1"/>
<text x="69.6" y="735.1000000000001" font-size="9" text-anchor="end">−1</text>
<line x1="75.2" y1="779.6" x2="79.7" y2="779.6" stroke="#888" stroke-width="1"/>
<text x="69.6" y="782.8000000000001" font-size="9" text-anchor="end">−2</text>
<line x1="75.2" y1="827.3000000000001" x2="79.7" y2="827.3000000000001" stroke="#888" stroke-width="1"/>
<text x="69.6" y="830.5000000000001" font-size="9" text-anchor="end">−3</text>
<line x1="103.0" y1="839.2" x2="103.0" y2="843.7" stroke="#888" stroke-width="1"/>
<text x="103.0" y="855.3" font-size="9" text-anchor="middle">−3</text>
<line x1="179.20000000000002" y1="839.2" x2="179.20000000000002" y2="843.7" stroke="#888" stroke-width="1"/>
<text x="179.20000000000002" y="855.3" font-size="9" text-anchor="middle">−2</text>
<line x1="255.40000000000003" y1="839.2" x2="255.40000000000003" y2="843.7" stroke="#888" stroke-width="1"/>
<text x="255.40000000000003" y="855.3" font-size="9" text-anchor="middle">−1</text>
<line x1="331.6" y1="839.2" x2="331.6" y2="843.7" stroke="#888" stroke-width="1"/>
<text x="331.6" y="855.3" font-size="9" text-anchor="middle">0</text>
<line x1="407.8" y1="839.2" x2="407.8" y2="843.7" stroke="#888" stroke-width="1"/>
<text x="407.8" y="855.3" font-size="9" text-anchor="middle">1</text>
<line x1="484.0" y1="839.2" x2="484.0" y2="843.7" stroke="#888" stroke-width="1"/>
<text x="484.0" y="855.3" font-size="9" text-anchor="middle">2</text>
<line x1="560.2" y1="839.2" x2="560.2" y2="843.7" stroke="#888" stroke-width="1"/>
<text x="560.2" y="855.3" font-size="9" text-anchor="middle">3</text>
<text x="51.8" y="615.2" font-size="9.5" text-anchor="middle" textLength="36" lengthAdjust="spacingAndGlyphs" transform="rotate(-90 51.8 615.2)">BP-glial</text>
<line x1="48.7" y1="730.2" x2="48.7" y2="649.6" stroke="#3e5078" stroke-width="1"/>
<path d="M48.70 645.60L50.60 650.10L46.80 650.10Z" fill="#3e5078"/>
<text x="205" y="872" font-size="9.5" textLength="36.8" lengthAdjust="spacingAndGlyphs">BP-ECM</text>
<text x="420.2" y="870.8" font-size="9.5" textLength="36.4" lengthAdjust="spacingAndGlyphs">BP-NEU</text>
<line x1="252" y1="868.3" x2="409" y2="868.3" stroke="#3e5078" stroke-width="0.9"/>
<path d="M249.5 868.3L254 866.7L254 869.9Z" fill="#3e5078"/><path d="M412.2 868.3L407.7 866.7L407.7 869.9Z" fill="#3e5078"/>
<line x1="142.4" y1="630.7" x2="142.4" y2="596.0999999999999" stroke="#3e5078" stroke-width="1"/>
<path d="M142.40 592.30L144.30 596.60L140.50 596.60Z" fill="#3e5078"/>
<line x1="142.4" y1="630.7" x2="107.23191699139538" y2="662.1661795340146" stroke="#3e5078" stroke-width="1"/>
<path d="M104.40 664.70L106.34 660.42L108.87 663.25Z" fill="#3e5078"/>
<line x1="142.4" y1="630.7" x2="177.56808300860465" y2="662.1661795340146" stroke="#3e5078" stroke-width="1"/>
<path d="M180.40 664.70L175.93 663.25L178.46 660.42Z" fill="#3e5078"/>
<text x="133" y="602.2" font-size="8.6" text-anchor="middle" textLength="19.8" lengthAdjust="spacingAndGlyphs" transform="rotate(-90 133 602.2)">Glial</text>
<text x="113.5" y="643.5" font-size="8.6" text-anchor="middle" textLength="17.5" lengthAdjust="spacingAndGlyphs" transform="rotate(-41 113.5 643.5)">ECM</text>
<text x="164.5" y="639.5" font-size="8.6" text-anchor="middle" textLength="17.5" lengthAdjust="spacingAndGlyphs" transform="rotate(41 164.5 639.5)">NEU</text>
<g stroke="#2b2b2b" stroke-width="0.5">
<rect x="100.8" y="814.6" width="5.2" height="5.2" fill="#00441b"/>
<rect x="138.1" y="758.0" width="5.2" height="5.2" fill="#0e6a30"/>
<rect x="146.9" y="793.0" width="5.2" height="5.2" fill="#0e6a30"/>
<rect x="154.5" y="793.6" width="5.2" height="5.2" fill="#0e6a30"/>
<rect x="165.0" y="787.5" width="5.2" height="5.2" fill="#0e6a30"/>
<rect x="182.8" y="784.8" width="5.2" height="5.2" fill="#1f8443"/>
<rect x="211.1" y="730.2" width="5.2" height="5.2" fill="#3a9b54"/>
<rect x="205.9" y="716.2" width="5.2" height="5.2" fill="#1f8443"/>
<rect x="212.9" y="710.1" width="5.2" height="5.2" fill="#3a9b54"/>
<rect x="214.9" y="702.2" width="5.2" height="5.2" fill="#3a9b54"/>
<rect x="219.3" y="688.2" width="5.2" height="5.2" fill="#3a9b54"/>
<rect x="226.3" y="765.3" width="5.2" height="5.2" fill="#5db36a"/>
<rect x="235.1" y="768.2" width="5.2" height="5.2" fill="#5db36a"/>
<rect x="225.4" y="802.4" width="5.2" height="5.2" fill="#3a9b54"/>
<rect x="247.6" y="658.7" width="5.2" height="5.2" fill="#86c97f"/>
<rect x="265.4" y="652.9" width="5.2" height="5.2" fill="#86c97f"/>
<rect x="247.6" y="706.0" width="5.2" height="5.2" fill="#86c97f"/>
<rect x="248.5" y="730.8" width="5.2" height="5.2" fill="#86c97f"/>
<rect x="302.4" y="677.2" width="5.2" height="5.2" fill="#bfe5b7"/>
<rect x="304.6" y="680.9" width="5.2" height="5.2" fill="#bfe5b7"/>
<rect x="294.8" y="699.7" width="5.2" height="5.2" fill="#bfe5b7"/>
<rect x="316.7" y="725.4" width="5.2" height="5.2" fill="#bfe5b7"/>
<rect x="332.5" y="753.2" width="5.2" height="5.2" fill="#e6f5e1"/>
<rect x="329.5" y="810.9" width="5.2" height="5.2" fill="#e6f5e1"/>
<rect x="364.4" y="660.1" width="5.2" height="5.2" fill="#9a95c6"/>
<rect x="361.6" y="665.6" width="5.2" height="5.2" fill="#9a95c6"/>
<rect x="375.4" y="657.9" width="5.2" height="5.2" fill="#7c73b5"/>
<rect x="349.9" y="674.3" width="5.2" height="5.2" fill="#9a95c6"/>
<rect x="344.0" y="676.1" width="5.2" height="5.2" fill="#9a95c6"/>
<rect x="357.2" y="689.9" width="5.2" height="5.2" fill="#7c73b5"/>
<rect x="345.6" y="694.0" width="5.2" height="5.2" fill="#9a95c6"/>
<rect x="375.4" y="694.0" width="5.2" height="5.2" fill="#7c73b5"/>
<rect x="376.9" y="705.6" width="5.2" height="5.2" fill="#7c73b5"/>
<rect x="329.8" y="712.2" width="5.2" height="5.2" fill="#b3b1d8"/>
<rect x="374.7" y="722.1" width="5.2" height="5.2" fill="#7c73b5"/>
<rect x="392.9" y="672.4" width="5.2" height="5.2" fill="#6752a2"/>
<rect x="397.0" y="716.8" width="5.2" height="5.2" fill="#7c73b5"/>
<rect x="404.9" y="703.0" width="5.2" height="5.2" fill="#6752a2"/>
<rect x="413.0" y="678.3" width="5.2" height="5.2" fill="#53308e"/>
<rect x="415.2" y="692.5" width="5.2" height="5.2" fill="#6752a2"/>
<rect x="387.2" y="735.2" width="5.2" height="5.2" fill="#6752a2"/>
<rect x="471.5" y="641.0" width="5.2" height="5.2" fill="#482584"/>
<rect x="476.2" y="661.0" width="5.2" height="5.2" fill="#482584"/>
<rect x="435.5" y="673.1" width="5.2" height="5.2" fill="#53308e"/>
<rect x="441.3" y="679.1" width="5.2" height="5.2" fill="#53308e"/>
<rect x="452.1" y="683.6" width="5.2" height="5.2" fill="#53308e"/>
<rect x="447.3" y="702.3" width="5.2" height="5.2" fill="#53308e"/>
<rect x="461.0" y="707.8" width="5.2" height="5.2" fill="#53308e"/>
<rect x="479.4" y="710.7" width="5.2" height="5.2" fill="#53308e"/>
<rect x="450.7" y="712.8" width="5.2" height="5.2" fill="#53308e"/>
<rect x="448.1" y="715.1" width="5.2" height="5.2" fill="#53308e"/>
<rect x="432.9" y="737.2" width="5.2" height="5.2" fill="#482584"/>
<rect x="444.2" y="741.7" width="5.2" height="5.2" fill="#482584"/>
<rect x="451.3" y="740.4" width="5.2" height="5.2" fill="#53308e"/>
<rect x="465.2" y="740.1" width="5.2" height="5.2" fill="#482584"/>
<rect x="459.9" y="744.8" width="5.2" height="5.2" fill="#482584"/>
<rect x="445.5" y="748.0" width="5.2" height="5.2" fill="#482584"/>
<rect x="488.0" y="740.1" width="5.2" height="5.2" fill="#482584"/>
<rect x="483.3" y="748.2" width="5.2" height="5.2" fill="#482584"/>
<rect x="492.5" y="750.1" width="5.2" height="5.2" fill="#482584"/>
<rect x="494.6" y="750.1" width="5.2" height="5.2" fill="#482584"/>
<rect x="509.9" y="755.9" width="5.2" height="5.2" fill="#482584"/>
<rect x="419.5" y="773.9" width="5.2" height="5.2" fill="#6752a2"/>
<rect x="427.4" y="771.8" width="5.2" height="5.2" fill="#53308e"/>
<rect x="403.3" y="784.5" width="5.2" height="5.2" fill="#6752a2"/>
<rect x="456.5" y="781.6" width="5.2" height="5.2" fill="#53308e"/>
<rect x="491.5" y="796.9" width="5.2" height="5.2" fill="#3a0a73"/>
<rect x="490.0" y="824.5" width="5.2" height="5.2" fill="#3a0a73"/>
<rect x="328.7" y="601.6" width="5.2" height="5.2" fill="#5c0610"/>
<rect x="333.7" y="603.2" width="5.2" height="5.2" fill="#5c0610"/>
<rect x="347.3" y="613.7" width="5.2" height="5.2" fill="#85101a"/>
<rect x="332.7" y="618.5" width="5.2" height="5.2" fill="#85101a"/>
<rect x="335.7" y="622.9" width="5.2" height="5.2" fill="#85101a"/>
<rect x="344.5" y="619.8" width="5.2" height="5.2" fill="#85101a"/>
<rect x="349.5" y="622.0" width="5.2" height="5.2" fill="#85101a"/>
<rect x="351.9" y="625.9" width="5.2" height="5.2" fill="#a3131c"/>
<rect x="370.3" y="626.8" width="5.2" height="5.2" fill="#a3131c"/>
<rect x="367.7" y="631.2" width="5.2" height="5.2" fill="#a3131c"/>
<rect x="379.1" y="636.4" width="5.2" height="5.2" fill="#a3131c"/>
<rect x="340.3" y="631.6" width="5.2" height="5.2" fill="#a3131c"/>
<rect x="346.2" y="635.1" width="5.2" height="5.2" fill="#a3131c"/>
<rect x="334.2" y="636.0" width="5.2" height="5.2" fill="#a3131c"/>
<rect x="341.4" y="638.2" width="5.2" height="5.2" fill="#a3131c"/>
<rect x="327.0" y="641.7" width="5.2" height="5.2" fill="#bc1a20"/>
<rect x="332.7" y="640.4" width="5.2" height="5.2" fill="#bc1a20"/>
<rect x="325.4" y="647.0" width="5.2" height="5.2" fill="#bc1a20"/>
<rect x="338.6" y="647.8" width="5.2" height="5.2" fill="#bc1a20"/>
<rect x="346.7" y="646.1" width="5.2" height="5.2" fill="#bc1a20"/>
<rect x="334.2" y="652.0" width="5.2" height="5.2" fill="#bc1a20"/>
<rect x="305.7" y="652.2" width="5.2" height="5.2" fill="#bc1a20"/>
<rect x="312.9" y="658.1" width="5.2" height="5.2" fill="#bc1a20"/>
<rect x="360.9" y="653.1" width="5.2" height="5.2" fill="#bc1a20"/>
<rect x="337.9" y="655.9" width="5.2" height="5.2" fill="#d32723"/>
<rect x="344.5" y="657.9" width="5.2" height="5.2" fill="#d32723"/>
<rect x="335.3" y="660.8" width="5.2" height="5.2" fill="#d32723"/>
<rect x="330.5" y="662.9" width="5.2" height="5.2" fill="#d32723"/>
<rect x="341.8" y="662.9" width="5.2" height="5.2" fill="#d32723"/>
<rect x="323.2" y="665.1" width="5.2" height="5.2" fill="#d32723"/>
<rect x="326.1" y="666.2" width="5.2" height="5.2" fill="#d32723"/>
<rect x="340.8" y="664.5" width="5.2" height="5.2" fill="#d32723"/>
<rect x="314.5" y="670.6" width="5.2" height="5.2" fill="#e63b2b"/>
<rect x="317.3" y="673.9" width="5.2" height="5.2" fill="#e63b2b"/>
<rect x="327.2" y="676.7" width="5.2" height="5.2" fill="#e63b2b"/>
<rect x="341.8" y="683.7" width="5.2" height="5.2" fill="#f4533a"/>
<rect x="345.6" y="682.0" width="5.2" height="5.2" fill="#f4533a"/>
<rect x="340.8" y="694.0" width="5.2" height="5.2" fill="#fb7757"/>
</g>
<path d="M103.5 822.2C108.2 818.4 122.8 806.7 131.5 799.6C140.2 792.5 146.9 786.5 155.9 779.5C164.9 772.5 176.6 764.5 185.6 757.8C194.6 751.1 201.0 745.9 210.0 739.2C219.0 732.5 230.6 724.4 239.8 717.7C249.0 711.1 258.9 703.9 265.0 699.3C271.1 694.7 272.8 693.2 276.7 690.0C280.6 686.8 284.5 682.9 288.4 680.0C292.3 677.1 296.1 674.6 300.0 672.4C303.9 670.2 307.8 668.1 311.7 666.6C315.6 665.1 319.8 663.9 323.4 663.1C326.9 662.3 330.1 662.1 333.0 661.9C335.9 661.7 338.1 661.7 341.0 661.9C343.9 662.1 347.1 662.4 350.4 663.0C353.7 663.6 357.3 664.6 360.7 665.8C364.1 667.0 367.5 668.1 370.9 670.4C374.3 672.7 377.7 676.0 381.1 679.6C384.5 683.2 387.9 687.8 391.3 691.9C394.7 696.0 398.1 700.5 401.5 704.2C404.9 708.0 408.3 711.6 411.7 714.4C415.1 717.2 418.6 719.3 422.0 721.1C425.4 722.9 428.8 723.9 432.2 725.0C435.6 726.1 439.0 726.8 442.4 727.7C445.8 728.7 449.2 729.5 452.6 730.7C456.0 731.9 459.9 733.5 462.8 734.8C465.7 736.1 467.3 737.1 470.0 738.3C472.7 739.5 475.1 740.5 478.8 742.2C482.5 743.9 486.3 746.0 492.0 748.7C497.7 751.4 509.5 756.9 513.0 758.5" fill="none" stroke="#222" stroke-width="1.15"/>
<path d="M110.1 821.6L119.6 823.2L116.3 828.6Z" fill="#1a1a1a"/>
<path d="M223.1 702.8L231.8 697.6L232.6 703.2Z" fill="#1a1a1a"/>
<path d="M312.5 644.7L317.9 644.7L314.9 653.5Z" fill="#1a1a1a"/>
<path d="M356.5 613.0L364.2 607.8L365.9 612.2Z" fill="#1a1a1a"/>
<path d="M401.8 724.5L403.9 733.8L408.5 731.5Z" fill="#1a1a1a"/>
<path d="M424.2 781.8L426.6 791.9L431.2 789.2Z" fill="#1a1a1a"/>
<text x="123.2" y="831.8" font-size="8" textLength="24.3" lengthAdjust="spacingAndGlyphs">P64T2</text>
<text x="233.3" y="697" font-size="8" textLength="24.3" lengthAdjust="spacingAndGlyphs">P66T2</text>
<text x="298.9" y="639.9" font-size="8" textLength="24.3" lengthAdjust="spacingAndGlyphs">P51T1</text>
<text x="368.1" y="608" font-size="8" textLength="24.3" lengthAdjust="spacingAndGlyphs">P47T1</text>
<text x="398.9" y="742.8" font-size="8" textLength="24.3" lengthAdjust="spacingAndGlyphs">P76T2</text>
<text x="421" y="802.7" font-size="8" textLength="24.3" lengthAdjust="spacingAndGlyphs">P37T2</text>
<text x="577.7" y="591.9" font-size="10" textLength="84.5" lengthAdjust="spacingAndGlyphs">Maximal BP score</text>
<rect x="578.20" y="598.8" width="3.72" height="16.6" fill="#f7fcf5"/>
<rect x="581.62" y="598.8" width="3.72" height="16.6" fill="#e5f5e0"/>
<rect x="585.05" y="598.8" width="3.72" height="16.6" fill="#c7e9c0"/>
<rect x="588.48" y="598.8" width="3.72" height="16.6" fill="#a1d99b"/>
<rect x="591.90" y="598.8" width="3.72" height="16.6" fill="#5fb46b"/>
<rect x="595.33" y="598.8" width="3.72" height="16.6" fill="#2f9249"/>
<rect x="598.75" y="598.8" width="3.72" height="16.6" fill="#0d6e31"/>
<rect x="602.18" y="598.8" width="3.72" height="16.6" fill="#83ae8d"/>
<rect x="578.20" y="615.2" width="3.72" height="16.6" fill="#f2f0f7"/>
<rect x="581.62" y="615.2" width="3.72" height="16.6" fill="#e6e4f1"/>
<rect x="585.05" y="615.2" width="3.72" height="16.6" fill="#cbc9e2"/>
<rect x="588.48" y="615.2" width="3.72" height="16.6" fill="#a7a2cf"/>
<rect x="591.90" y="615.2" width="3.72" height="16.6" fill="#7f71b6"/>
<rect x="595.33" y="615.2" width="3.72" height="16.6" fill="#6546a0"/>
<rect x="598.75" y="615.2" width="3.72" height="16.6" fill="#522a8f"/>
<rect x="602.18" y="615.2" width="3.72" height="16.6" fill="#a68ac6"/>
<rect x="578.20" y="631.8" width="3.72" height="16.6" fill="#fff5f0"/>
<rect x="581.62" y="631.8" width="3.72" height="16.6" fill="#fee4d8"/>
<rect x="585.05" y="631.8" width="3.72" height="16.6" fill="#fcc5ab"/>
<rect x="588.48" y="631.8" width="3.72" height="16.6" fill="#fb9c7c"/>
<rect x="591.90" y="631.8" width="3.72" height="16.6" fill="#f16548"/>
<rect x="595.33" y="631.8" width="3.72" height="16.6" fill="#dd2b25"/>
<rect x="598.75" y="631.8" width="3.72" height="16.6" fill="#bb151c"/>
<rect x="602.18" y="631.8" width="3.72" height="16.6" fill="#9c0d14"/>
<rect x="578.2" y="598.8" width="27.4" height="49.6" fill="none" stroke="#888" stroke-width="0.7"/>
<line x1="578.2" y1="615.1" x2="605.6" y2="615.1" stroke="#555" stroke-width="0.8"/>
<line x1="578.2" y1="631.8" x2="605.6" y2="631.8" stroke="#555" stroke-width="0.8"/>
<text x="611.6" y="610.5" font-size="9" textLength="18.8" lengthAdjust="spacingAndGlyphs">ECM</text>
<text x="611.6" y="626.9" font-size="9" textLength="17.6" lengthAdjust="spacingAndGlyphs">NEU</text>
<text x="611.6" y="643.4" font-size="9" textLength="18.5" lengthAdjust="spacingAndGlyphs">Glial</text>
<rect x="588.3" y="658.1" width="6.4" height="6.4" fill="#1a1a1a"/>
<text x="601.6" y="665.8" font-size="9" textLength="31.2" lengthAdjust="spacingAndGlyphs">Sample</text>
<circle cx="591.6" cy="675.8" r="3.3" fill="#111"/>
<text x="602.5" y="680.4" font-size="9" textLength="16.5" lengthAdjust="spacingAndGlyphs">Cell</text>
<line x1="120.5" y1="903.7" x2="120.5" y2="990.1" stroke="#dcdcdc" stroke-width="0.8"/>
<line x1="82.8" y1="950.2" x2="158.0" y2="950.2" stroke="#dcdcdc" stroke-width="0.8"/>
<line x1="195.6" y1="903.7" x2="195.6" y2="990.1" stroke="#dcdcdc" stroke-width="0.8"/>
<line x1="158.0" y1="950.2" x2="233.5" y2="950.2" stroke="#dcdcdc" stroke-width="0.8"/>
<line x1="271.0" y1="903.7" x2="271.0" y2="990.1" stroke="#dcdcdc" stroke-width="0.8"/>
<line x1="233.5" y1="950.2" x2="309.0" y2="950.2" stroke="#dcdcdc" stroke-width="0.8"/>
<line x1="346.2" y1="903.7" x2="346.2" y2="990.1" stroke="#dcdcdc" stroke-width="0.8"/>
<line x1="309.0" y1="950.2" x2="384.0" y2="950.2" stroke="#dcdcdc" stroke-width="0.8"/>
<line x1="421.6" y1="903.7" x2="421.6" y2="990.1" stroke="#dcdcdc" stroke-width="0.8"/>
<line x1="384.0" y1="950.2" x2="459.3" y2="950.2" stroke="#dcdcdc" stroke-width="0.8"/>
<line x1="496.7" y1="903.7" x2="496.7" y2="990.1" stroke="#dcdcdc" stroke-width="0.8"/>
<line x1="459.3" y1="950.2" x2="533.4" y2="950.2" stroke="#dcdcdc" stroke-width="0.8"/>
<g stroke-width="2.2" stroke-linecap="round" fill="none" opacity="0.92">
<path stroke="#006d2c" d="M135.2 958.6h0M118.7 969.5h0M132.8 961.2h0M112.8 972.7h0M139.1 971.7h0M114.2 972.9h0M116.1 975.5h0M105.2 978.8h0M108.5 959.4h0M120.6 965.3h0M119.5 976.1h0M121.1 972.0h0M137.1 979.0h0M115.1 968.8h0M104.0 974.7h0M116.4 972.7h0M110.0 970.1h0M120.2 973.5h0M129.5 958.0h0"/>
<path stroke="#41ab5d" d="M117.6 959.8h0M141.7 975.2h0M119.1 953.6h0M137.4 967.3h0M124.2 976.5h0M119.0 948.4h0M116.9 941.3h0M133.0 972.1h0M130.1 973.1h0M127.7 944.1h0M119.6 972.5h0M127.0 975.3h0M105.0 976.8h0M126.7 964.4h0M128.3 949.2h0M116.0 963.5h0M121.8 951.6h0M133.8 976.1h0M137.8 975.5h0M126.0 965.8h0M103.0 967.5h0M115.7 970.6h0M126.0 950.3h0M137.5 971.0h0M129.4 952.9h0M116.7 977.2h0M121.7 965.6h0M109.4 967.4h0M103.8 966.7h0M119.2 942.4h0M126.0 960.6h0M108.7 978.3h0M122.4 953.4h0M115.8 949.8h0M126.9 970.5h0M139.2 978.4h0M138.1 965.0h0M127.0 951.5h0M132.2 957.1h0M117.7 942.4h0M111.6 956.5h0"/>
<path stroke="#74c476" d="M133.4 963.5h0M115.4 946.4h0M123.2 941.0h0M137.0 966.8h0M122.4 963.7h0M106.1 962.8h0M116.5 948.7h0M115.7 954.4h0M116.1 957.0h0M103.8 978.9h0M116.6 976.2h0M116.3 974.8h0M129.8 969.1h0M131.0 964.0h0M127.0 949.2h0M131.8 977.6h0M135.0 960.6h0M130.6 971.5h0M126.7 964.9h0M123.1 962.5h0M131.1 951.1h0"/>
<path stroke="#238b45" d="M112.6 959.3h0M110.1 973.9h0M112.2 965.2h0M137.7 975.3h0M138.3 975.5h0M123.3 955.6h0M111.7 979.0h0M131.9 974.7h0M106.4 966.7h0M117.6 960.8h0M127.6 953.6h0M129.1 975.6h0M134.5 961.1h0M104.2 966.6h0M126.7 955.0h0M118.1 968.0h0M119.4 949.3h0M112.5 968.8h0M138.1 970.6h0M109.2 979.0h0M130.5 963.0h0M113.4 947.8h0M104.5 973.1h0M125.3 957.3h0M126.8 972.8h0M111.6 970.2h0M120.9 960.2h0M104.9 978.1h0M130.5 963.9h0M122.8 958.5h0M115.3 947.5h0"/>
<path stroke="#a1d99b" d="M116.3 950.0h0M109.9 955.3h0M126.2 946.9h0M132.4 957.7h0M128.7 961.2h0M132.0 955.8h0M127.1 946.8h0M123.0 950.3h0M128.1 965.2h0"/>
<path stroke="#c7e9c0" d="M125.1 948.6h0"/>
<path stroke="#00441b" d="M138.1 966.8h0M121.6 968.3h0M140.8 977.9h0M101.6 971.3h0"/>
<path stroke="#74c476" d="M111.7 972.2h0M131.6 970.2h0M107.4 962.7h0M117.9 942.6h0M112.7 962.8h0M125.1 956.9h0M130.1 968.2h0M126.0 951.0h0M122.6 942.4h0M131.5 963.0h0M128.2 961.0h0M120.4 945.1h0M120.4 946.9h0M132.7 964.5h0M122.4 946.8h0M118.8 972.4h0M115.3 977.8h0M142.2 974.9h0M113.2 952.0h0M124.4 945.3h0M127.7 947.7h0M132.0 960.2h0"/>
<path stroke="#41ab5d" d="M120.8 961.7h0M118.4 947.9h0M126.1 958.2h0M106.0 969.9h0M122.6 941.0h0M110.2 978.0h0M106.8 962.9h0M119.1 952.5h0M110.4 958.7h0M133.5 970.2h0M127.0 958.3h0M117.5 963.0h0M121.8 959.9h0M121.8 955.5h0M132.2 972.2h0M107.2 960.3h0M124.5 953.6h0M127.8 952.6h0M114.2 950.6h0M113.2 969.8h0M119.3 960.2h0M112.5 957.5h0M126.8 952.0h0M131.4 952.1h0M109.7 974.8h0M101.4 977.7h0M130.9 956.2h0M123.8 953.8h0M112.6 968.5h0M135.1 959.6h0M126.1 960.7h0M128.8 977.3h0"/>
<path stroke="#238b45" d="M135.8 977.0h0M116.4 975.1h0M102.7 976.9h0M132.4 960.8h0M117.5 964.6h0M134.5 968.4h0M111.9 959.9h0M126.1 964.1h0M126.7 958.6h0M132.6 958.2h0M115.2 974.8h0M106.9 974.5h0M105.8 971.9h0M128.1 970.3h0M133.2 974.0h0M116.1 954.5h0M121.5 970.4h0M118.0 956.9h0M105.8 975.9h0M130.0 967.7h0M107.9 978.8h0M139.7 978.8h0M124.8 968.0h0M139.4 968.7h0M133.4 978.7h0M133.4 969.5h0M114.8 965.6h0M123.9 954.2h0M125.2 967.1h0M103.9 978.0h0M104.3 972.6h0"/>
<path stroke="#006d2c" d="M118.6 966.8h0M102.3 976.7h0M112.2 963.4h0M125.5 976.0h0M117.1 967.2h0M127.6 979.4h0M133.3 974.5h0M100.1 974.5h0M124.1 971.6h0M126.3 979.3h0M114.3 978.3h0M138.7 929.4h0M140.4 971.0h0M122.6 972.9h0M103.8 975.1h0M122.1 964.2h0M130.9 954.0h0M141.2 976.7h0M138.4 971.4h0M125.1 956.0h0"/>
<path stroke="#00441b" d="M113.0 973.9h0M140.4 977.6h0M101.2 972.5h0M111.2 967.2h0M108.1 969.8h0"/>
<path stroke="#a1d99b" d="M118.8 954.7h0M132.8 965.5h0M114.0 946.3h0M113.9 962.8h0M129.9 955.6h0M121.6 961.4h0M119.1 952.8h0M112.8 944.1h0M133.3 960.6h0M106.3 964.3h0"/>
<path stroke="#c7e9c0" d="M116.4 945.6h0M122.8 945.5h0M124.1 942.0h0M121.2 948.6h0"/>
<path stroke="#9e9ac8" d="M123.9 963.2h0M136.9 936.7h0"/>
<path stroke="#41ab5d" d="M112.5 955.2h0M126.9 973.0h0M114.4 979.2h0M135.1 965.1h0M133.6 964.7h0M109.1 961.7h0M113.9 949.1h0M135.1 960.3h0M129.1 978.5h0M127.0 979.0h0M125.4 962.5h0M105.8 971.3h0M123.0 970.9h0M136.4 968.7h0M114.2 942.9h0M116.7 955.9h0M113.2 945.8h0M128.0 949.6h0M107.1 959.6h0M126.8 975.8h0M130.7 965.0h0M134.7 959.2h0M123.5 944.8h0M114.3 975.8h0M115.5 953.3h0M127.7 963.8h0M110.5 966.2h0M125.7 973.1h0M125.1 947.8h0M111.2 962.8h0M124.0 966.8h0M106.4 979.5h0"/>
<path stroke="#238b45" d="M130.9 969.6h0M118.5 945.8h0M107.0 962.1h0M112.0 960.0h0M140.5 975.1h0M111.6 967.6h0M128.2 963.1h0M110.0 967.8h0M137.6 971.8h0M129.3 975.8h0M112.0 963.3h0M111.6 965.5h0M114.8 975.6h0M103.1 974.9h0M108.8 967.9h0M119.6 970.8h0M113.3 969.4h0M118.8 954.3h0M124.1 963.2h0M106.3 974.7h0M128.1 970.9h0M116.6 950.3h0M134.5 959.7h0M117.1 954.8h0M139.6 972.3h0M112.7 957.8h0M130.0 961.3h0M127.1 966.0h0M110.0 972.1h0M109.7 964.7h0M121.5 948.0h0M137.9 975.1h0M117.4 973.7h0M134.8 970.4h0M103.3 975.1h0M130.9 958.6h0M119.8 951.9h0M131.3 974.0h0M122.4 953.7h0M121.3 960.4h0"/>
<path stroke="#74c476" d="M125.6 949.9h0M140.8 975.5h0M124.6 979.7h0M124.0 964.9h0M138.5 974.7h0M118.1 959.2h0M129.5 965.7h0M131.9 963.3h0M120.5 941.0h0M118.9 945.8h0M120.8 962.7h0M121.0 963.5h0M125.5 945.6h0M119.9 980.1h0M134.4 960.7h0M127.9 949.1h0M112.1 951.0h0M126.1 955.4h0M117.4 941.4h0M122.0 958.8h0M107.7 961.3h0M107.0 971.7h0M129.7 962.7h0M120.8 947.2h0M111.6 950.7h0M118.8 965.2h0M122.1 961.8h0M111.8 973.2h0M116.8 959.5h0M141.5 974.4h0"/>
<path stroke="#006d2c" d="M116.4 966.0h0M123.0 953.4h0M129.9 962.9h0M114.2 956.7h0M124.0 959.8h0M108.7 975.0h0M126.8 954.3h0M132.8 973.7h0M125.9 966.0h0M116.3 966.5h0M126.9 968.8h0M117.5 970.4h0"/>
<path stroke="#a1d99b" d="M126.8 952.3h0M120.3 963.8h0M126.6 941.6h0M125.4 951.6h0M110.8 964.0h0M136.0 961.1h0M121.7 955.2h0"/>
<path stroke="#c7e9c0" d="M115.1 946.4h0"/>
<path stroke="#00441b" d="M108.5 971.4h0M131.8 970.7h0M123.3 969.9h0M119.7 979.9h0"/>
<path stroke="#006d2c" d="M135.8 971.9h0M135.9 968.4h0M109.6 958.9h0M103.5 967.6h0M106.6 978.5h0M109.3 968.2h0M124.6 971.7h0M132.3 958.5h0M132.3 968.8h0M134.6 972.3h0M110.8 966.7h0M124.5 966.8h0M130.4 980.0h0M126.3 954.2h0M134.8 968.9h0"/>
<path stroke="#74c476" d="M121.6 947.4h0M124.5 952.5h0M120.2 960.6h0M109.7 968.9h0M111.2 951.1h0M105.2 962.7h0M104.5 964.9h0M111.0 976.7h0M140.2 975.1h0M116.1 954.1h0M121.4 960.1h0M115.9 946.4h0M110.8 952.9h0M119.2 949.1h0M127.2 951.1h0M120.7 942.3h0M112.9 947.3h0M122.9 952.8h0M112.4 965.5h0"/>
<path stroke="#238b45" d="M111.0 956.9h0M133.3 977.2h0M121.0 969.2h0M108.5 969.1h0M119.1 955.7h0M122.1 979.5h0M114.7 976.9h0M121.4 974.8h0M124.3 972.9h0M108.8 966.3h0M113.2 969.1h0M121.5 977.9h0M106.2 976.8h0M129.6 951.1h0M102.5 977.4h0M119.3 962.4h0M105.5 978.0h0M132.2 957.7h0M122.7 974.4h0M121.9 964.3h0M119.9 976.9h0M101.4 976.7h0M122.0 945.3h0M102.2 971.5h0M130.8 969.7h0M135.8 969.8h0M113.6 972.7h0M130.0 972.9h0M135.6 977.5h0M102.2 974.1h0M106.7 965.6h0M131.4 975.8h0M134.9 979.2h0M127.4 966.3h0M112.7 966.4h0M121.2 958.5h0M108.7 963.1h0M120.7 943.7h0M136.5 979.3h0M140.2 974.1h0M113.1 972.7h0"/>
<path stroke="#41ab5d" d="M123.6 953.4h0M107.5 978.9h0M114.8 971.9h0M130.6 962.4h0M120.2 961.2h0M118.6 979.7h0M110.7 977.0h0M123.9 967.2h0M130.2 951.1h0M119.5 962.6h0M108.7 973.2h0M123.1 956.9h0M122.6 959.7h0M114.5 971.5h0M121.0 963.1h0M128.5 965.6h0M131.7 975.4h0M110.5 976.0h0M135.3 959.9h0M109.3 979.9h0M126.8 973.4h0M110.2 976.1h0M127.8 955.4h0M119.7 973.8h0M135.3 976.2h0M114.7 960.2h0M124.2 954.9h0M135.9 968.3h0M113.1 972.2h0M127.5 951.4h0M140.7 978.3h0M129.4 980.0h0M130.4 959.6h0M117.0 958.0h0M101.4 972.0h0M102.3 977.1h0"/>
<path stroke="#a1d99b" d="M117.3 945.1h0M127.3 935.9h0M128.8 953.9h0M121.8 946.1h0M126.7 953.8h0M133.7 933.8h0M119.8 950.1h0M113.0 950.4h0"/>
<path stroke="#00441b" d="M121.0 979.6h0M106.3 978.6h0M135.7 968.7h0M106.7 972.2h0"/>
<path stroke="#c7e9c0" d="M126.0 945.3h0M129.4 944.2h0M116.9 942.6h0"/>
<path stroke="#238b45" d="M131.4 971.9h0M106.1 976.4h0M135.4 971.5h0M108.9 960.0h0M116.4 957.7h0M134.2 978.9h0M108.3 969.7h0M139.5 972.0h0M139.3 972.8h0M130.0 956.2h0M122.0 978.1h0M108.1 958.6h0M115.2 941.3h0M136.4 973.0h0M124.5 962.3h0M111.1 973.6h0M106.1 964.6h0M139.2 974.3h0M119.9 957.5h0M119.8 973.8h0M134.4 966.8h0M113.2 956.0h0M102.7 972.2h0M108.5 970.6h0M102.5 968.8h0M103.3 966.4h0M132.1 965.4h0M123.5 979.0h0M126.1 978.3h0M120.2 963.4h0M137.9 969.1h0M102.2 975.0h0M116.0 966.3h0M119.8 970.2h0M109.1 976.3h0M127.2 976.3h0M126.6 950.2h0M105.8 968.5h0M123.0 971.1h0M116.8 978.1h0M121.8 973.0h0M108.6 964.6h0M120.8 968.6h0M122.8 970.6h0"/>
<path stroke="#41ab5d" d="M115.5 946.7h0M100.0 975.0h0M113.4 950.8h0M133.8 956.9h0M121.6 953.6h0M133.6 969.8h0M117.9 946.0h0M111.4 970.0h0M125.7 971.6h0M131.0 957.8h0M105.1 972.8h0M110.0 978.5h0M133.5 966.1h0M115.8 961.6h0M127.5 977.9h0M128.0 972.8h0M128.8 953.0h0M101.5 974.9h0M117.3 941.9h0M118.1 940.3h0M115.2 950.4h0M115.9 955.4h0M120.2 965.7h0M125.9 968.9h0M133.7 957.8h0M120.2 975.3h0M125.1 970.6h0M128.2 973.0h0M135.5 961.7h0M137.9 967.5h0M115.0 968.1h0M115.4 944.5h0M111.8 951.8h0M128.1 962.0h0M130.5 976.7h0M110.5 964.1h0M107.9 967.0h0M124.5 962.3h0M130.2 973.9h0M121.9 956.2h0M118.5 944.6h0M122.6 971.3h0"/>
<path stroke="#74c476" d="M128.1 948.4h0M114.9 949.0h0M112.8 952.8h0M132.5 966.9h0M114.4 949.8h0M108.4 970.7h0M114.9 977.4h0M114.5 954.4h0M121.4 946.2h0M101.1 976.8h0M122.8 947.9h0M129.5 944.1h0M126.5 948.4h0M115.7 948.4h0M129.3 971.7h0M112.8 970.2h0M126.4 963.9h0M127.2 960.3h0"/>
<path stroke="#006d2c" d="M138.5 967.3h0M115.2 975.5h0M111.7 967.7h0M126.6 972.8h0M113.5 974.1h0M130.7 966.3h0M127.4 973.2h0M110.7 974.7h0M126.9 974.3h0M114.7 970.9h0M138.1 974.1h0"/>
<path stroke="#a1d99b" d="M122.6 941.4h0M123.9 957.0h0M119.1 945.0h0M128.7 959.3h0M114.9 956.4h0M117.9 958.3h0M134.3 964.9h0"/>
<path stroke="#00441b" d="M128.6 972.9h0M141.2 977.2h0M110.1 971.8h0"/>
<path stroke="#c7e9c0" d="M146.0 978.8h0"/>
<path stroke="#238b45" d="M126.9 978.4h0M125.5 967.7h0M128.1 955.1h0M129.5 971.4h0M122.3 978.8h0M124.1 978.4h0M110.6 971.0h0M118.9 956.4h0M114.4 965.8h0M125.2 979.6h0M109.4 961.3h0M127.1 950.4h0M113.0 971.9h0M103.0 975.9h0M131.3 950.7h0M131.0 959.1h0M135.2 974.5h0M105.3 968.2h0M113.7 946.4h0M115.6 977.7h0M138.6 974.6h0M112.9 971.4h0M127.3 960.4h0M104.0 977.1h0M136.7 970.2h0M134.9 973.2h0M107.7 958.6h0M131.9 968.8h0M118.5 970.5h0M134.1 964.9h0M115.0 973.5h0M112.5 957.8h0M134.3 973.4h0M128.5 969.0h0M122.4 954.2h0M113.1 972.8h0M118.2 970.8h0"/>
<path stroke="#41ab5d" d="M119.3 941.8h0M108.9 959.3h0M135.8 962.8h0M127.4 959.6h0M113.5 944.8h0M131.4 956.8h0M125.1 948.3h0M131.3 954.8h0M126.0 959.9h0M120.8 978.6h0M118.0 972.3h0M132.4 953.1h0M121.5 949.9h0M107.9 966.8h0M128.6 954.7h0M118.3 967.0h0M139.6 971.8h0M108.8 963.5h0M117.6 947.3h0M111.3 975.2h0M118.1 960.3h0M133.1 977.5h0M129.1 972.7h0M132.3 955.3h0M116.1 944.0h0M112.4 952.5h0M115.1 970.4h0M129.5 944.5h0M130.8 979.0h0M103.4 972.3h0M108.1 975.1h0M119.3 965.9h0M119.4 940.1h0M107.6 978.0h0M133.6 960.1h0M125.9 956.1h0"/>
<path stroke="#a1d99b" d="M113.9 959.9h0M106.3 960.2h0M115.9 947.5h0M133.4 963.6h0M126.4 955.0h0M126.2 950.6h0M116.4 949.0h0M131.5 962.9h0M126.9 948.3h0"/>
<path stroke="#74c476" d="M112.7 964.3h0M119.2 951.2h0M118.2 954.7h0M125.1 940.4h0M125.3 963.5h0M115.9 969.0h0M120.4 944.6h0M106.8 975.9h0M123.3 966.8h0M130.4 961.2h0M120.0 944.4h0M127.9 945.7h0M131.2 951.8h0M136.0 961.3h0M119.0 946.0h0M131.4 975.4h0M131.0 949.0h0M105.8 964.2h0M128.8 954.2h0M123.0 948.2h0M111.3 958.9h0M109.3 970.4h0M112.1 946.7h0M124.9 961.4h0"/>
<path stroke="#00441b" d="M138.1 968.1h0M134.2 977.0h0M106.7 965.8h0M134.6 977.9h0M106.0 971.0h0"/>
<path stroke="#006d2c" d="M140.2 972.2h0M113.7 975.0h0M118.9 956.1h0M134.1 977.2h0M121.1 976.3h0M116.4 961.5h0M107.9 964.2h0M112.5 973.4h0M112.6 961.7h0M132.8 967.4h0M112.4 980.0h0M103.3 972.4h0M111.0 971.4h0M125.6 973.1h0"/>
<path stroke="#c7e9c0" d="M118.1 939.9h0"/>
<path stroke="#41ab5d" d="M122.6 951.9h0M127.9 956.8h0M108.0 971.9h0M125.8 948.0h0M125.0 961.0h0M134.1 975.3h0M127.4 948.4h0M110.6 961.9h0M115.4 960.8h0M141.5 975.9h0M102.3 978.5h0M122.7 943.4h0M113.1 955.4h0M113.8 952.5h0M118.5 972.7h0M114.8 970.0h0M118.6 957.8h0M129.9 964.2h0M131.8 959.8h0M129.2 954.1h0M129.0 974.4h0M126.3 942.4h0M134.4 966.6h0M118.6 965.7h0M120.4 958.0h0M110.9 952.6h0M130.2 970.8h0M118.5 953.7h0M115.2 945.6h0M118.2 971.0h0M125.8 977.8h0M124.5 968.2h0M131.7 968.0h0M129.9 945.2h0"/>
<path stroke="#006d2c" d="M142.8 975.0h0M140.4 977.6h0M130.0 978.1h0M100.4 973.9h0M116.0 967.0h0M119.4 960.1h0M115.2 951.8h0M130.7 974.5h0M113.7 977.7h0M138.1 977.2h0M127.7 979.7h0M105.4 977.9h0M138.3 974.1h0M127.4 972.3h0M137.2 971.0h0M106.9 969.6h0M136.6 970.5h0M130.4 974.5h0M142.8 975.0h0"/>
<path stroke="#238b45" d="M107.8 975.8h0M124.1 968.4h0M117.7 969.2h0M124.1 948.0h0M119.7 943.5h0M129.7 966.7h0M119.1 939.8h0M115.9 946.3h0M120.5 974.1h0M100.6 975.2h0M122.9 948.3h0M123.9 941.5h0M131.3 974.7h0M138.2 979.0h0M124.6 944.8h0M121.6 967.8h0M116.5 967.5h0M123.2 970.0h0M127.3 966.3h0M137.1 979.2h0M132.8 958.2h0M129.1 976.7h0M117.5 953.5h0M120.1 952.4h0M135.9 966.2h0M122.3 962.4h0M133.8 962.0h0M132.2 952.2h0M102.3 976.8h0M104.5 975.2h0M121.8 968.4h0M126.0 971.7h0M135.6 978.2h0M108.3 979.1h0M111.7 975.8h0M103.0 974.8h0M137.8 967.8h0"/>
<path stroke="#74c476" d="M129.1 974.6h0M123.8 952.9h0M131.4 951.2h0M119.9 970.7h0M119.5 943.7h0M113.5 943.2h0M120.7 957.5h0M123.5 962.7h0M120.0 941.5h0M111.7 950.1h0M125.1 940.9h0M122.8 963.1h0M108.9 962.4h0M130.0 964.9h0M106.3 960.8h0M119.7 949.5h0M124.9 945.2h0M126.3 962.2h0M116.7 973.4h0M130.8 937.2h0M111.3 963.8h0M123.1 958.1h0M118.4 946.4h0M111.1 962.8h0"/>
<path stroke="#a1d99b" d="M132.1 953.0h0M111.3 951.2h0M123.1 964.2h0M117.4 955.1h0M120.0 946.3h0M113.7 938.5h0M109.0 961.7h0M116.1 945.6h0"/>
<path stroke="#00441b" d="M120.6 973.7h0M132.4 971.4h0"/>
<path stroke="#c7e9c0" d="M120.1 942.3h0M115.5 948.5h0"/>
<path stroke="#238b45" d="M112.3 975.4h0M129.4 964.7h0M107.2 962.1h0M125.2 974.6h0M134.7 964.5h0M116.2 975.7h0M104.1 968.3h0M133.8 967.6h0M113.7 969.7h0M133.9 959.8h0M100.4 973.0h0M114.5 954.1h0M124.2 956.3h0M136.5 976.5h0M117.4 958.9h0M112.6 968.4h0M130.9 968.6h0M139.7 974.7h0M120.1 952.6h0M131.5 962.1h0M131.1 969.2h0M131.2 977.6h0M119.3 944.7h0M130.9 967.6h0M121.7 969.8h0M108.5 962.6h0M130.4 964.5h0M112.2 979.0h0M131.1 976.3h0M126.5 969.5h0M133.4 961.4h0M111.9 964.2h0M132.5 975.7h0M129.7 965.9h0M112.0 952.9h0M109.1 976.7h0M131.7 968.9h0M132.7 974.4h0M114.6 946.1h0"/>
<path stroke="#74c476" d="M113.5 961.6h0M123.8 952.1h0M115.2 951.7h0M113.1 943.2h0M116.1 947.3h0M122.8 954.5h0M114.6 963.5h0M130.1 957.3h0M125.3 944.3h0M123.0 943.5h0M131.9 975.6h0M116.2 961.3h0M135.1 960.7h0M122.2 974.8h0M131.6 965.1h0M123.9 979.7h0M108.5 970.7h0M123.0 965.7h0M124.0 951.4h0M117.6 957.8h0M113.1 948.2h0M130.3 951.7h0M113.4 953.6h0M119.0 950.0h0M122.4 947.0h0M125.4 949.9h0M115.6 959.1h0M132.0 956.0h0M129.0 959.1h0"/>
<path stroke="#006d2c" d="M126.9 964.5h0M129.3 967.8h0M102.9 975.6h0M128.6 969.0h0M120.5 968.0h0M112.0 977.1h0M107.9 960.4h0M120.7 971.9h0M130.2 964.1h0M136.7 967.3h0M105.3 970.6h0M127.9 977.2h0M138.4 968.6h0M120.9 973.2h0M125.4 970.3h0"/>
<path stroke="#41ab5d" d="M106.4 959.9h0M109.4 962.8h0M132.8 965.5h0M143.0 974.7h0M115.1 950.1h0M124.4 941.0h0M104.6 971.6h0M122.8 965.7h0M123.8 972.3h0M129.5 945.1h0M130.9 974.4h0M109.4 974.5h0M127.8 944.7h0M109.9 954.2h0M138.9 977.4h0M129.5 975.6h0M113.5 970.1h0M126.2 963.4h0M125.0 943.7h0M121.2 977.1h0M135.5 979.0h0M125.9 956.4h0M107.9 974.0h0M118.1 948.1h0M130.2 950.6h0M138.8 977.9h0M120.4 971.6h0M116.4 955.5h0M110.1 977.5h0M118.6 960.5h0M124.6 951.2h0M120.0 973.0h0M126.1 960.2h0M129.0 950.1h0"/>
<path stroke="#a1d99b" d="M115.5 956.6h0M129.7 954.9h0M123.3 959.1h0M118.1 961.3h0M113.2 960.0h0M118.8 964.2h0M117.0 951.5h0"/>
<path stroke="#00441b" d="M114.3 974.3h0M101.3 971.1h0"/>
</g>
<g stroke-width="2.2" stroke-linecap="round" fill="none" opacity="0.92">
<path stroke="#a1d99b" d="M215.3 963.7h0M207.2 952.5h0M206.5 933.8h0M183.9 929.1h0M217.6 971.7h0M180.3 963.3h0M205.7 928.3h0M218.5 911.7h0M187.9 927.2h0M214.2 966.0h0M190.3 969.0h0M180.6 916.5h0M174.1 960.2h0M176.3 958.5h0M197.4 965.9h0M198.5 961.5h0M188.1 933.2h0M180.6 970.6h0M179.3 918.1h0M179.9 967.6h0M216.5 974.7h0M206.1 969.0h0M218.8 921.7h0M199.2 934.7h0"/>
<path stroke="#e5f5e0" d="M210.0 918.7h0M186.3 950.8h0M176.8 964.0h0M173.1 973.9h0M202.1 963.4h0M171.5 968.5h0M187.1 966.1h0M180.8 956.4h0M206.9 953.5h0M181.5 918.1h0M205.6 933.1h0M177.1 918.6h0M216.9 978.4h0M196.5 948.5h0M196.6 971.0h0M200.2 952.9h0"/>
<path stroke="#238b45" d="M171.8 974.5h0M166.6 985.9h0M189.5 969.0h0M178.9 970.4h0M201.8 964.9h0M188.4 963.8h0M188.7 965.6h0M176.9 967.6h0M186.4 962.4h0M171.7 979.0h0"/>
<path stroke="#bcbddc" d="M179.3 966.9h0M216.9 971.4h0M202.3 949.2h0M215.6 976.8h0M208.8 953.1h0M203.2 970.0h0M218.2 975.4h0M173.3 915.6h0"/>
<path stroke="#807dba" d="M214.5 977.3h0M202.6 953.0h0M204.2 966.9h0"/>
<path stroke="#74c476" d="M174.6 964.3h0M197.7 953.5h0M203.9 969.1h0M208.1 930.6h0M204.2 966.1h0M188.5 968.4h0M181.9 966.1h0M194.6 968.8h0M214.8 912.6h0M177.3 966.8h0M195.5 961.5h0M192.1 935.9h0M170.7 971.3h0M198.4 957.6h0M195.0 966.9h0M199.1 943.1h0M188.3 935.2h0M184.6 957.3h0M198.1 953.4h0M204.5 965.6h0M180.2 923.4h0M210.9 973.0h0M205.6 963.9h0M180.1 955.8h0M173.7 976.6h0"/>
<path stroke="#cfcde6" d="M184.1 959.5h0M191.9 960.1h0M181.5 958.5h0M187.7 965.4h0M187.4 939.5h0M200.7 957.8h0M218.0 972.2h0M209.6 968.7h0M184.7 960.6h0M175.5 973.6h0M172.5 977.0h0M199.6 947.6h0"/>
<path stroke="#006d2c" d="M163.1 980.7h0M190.1 962.1h0M167.4 979.9h0M171.8 980.9h0M188.0 965.0h0M168.7 981.0h0M167.7 985.9h0M193.2 968.7h0"/>
<path stroke="#00441b" d="M170.3 978.1h0M201.9 969.8h0"/>
<path stroke="#9e9ac8" d="M187.3 924.3h0M191.1 943.5h0M223.8 908.9h0M208.5 959.5h0M213.6 966.8h0M211.8 974.0h0M178.6 920.5h0M183.9 958.3h0M205.7 951.0h0M211.0 962.8h0M206.1 934.3h0M213.0 963.4h0M188.1 962.8h0M201.7 962.6h0M214.8 963.6h0M214.3 970.6h0M214.4 966.9h0M211.7 968.9h0"/>
<path stroke="#c7e9c0" d="M218.6 919.9h0M181.5 952.5h0M217.7 916.5h0M196.5 953.3h0M196.3 945.2h0M174.7 972.6h0M182.2 955.0h0M179.0 920.8h0M197.7 949.0h0M171.7 966.1h0M182.3 957.4h0M207.9 955.2h0M210.3 954.7h0M172.5 977.1h0M175.5 916.2h0M193.1 953.7h0M194.1 944.5h0M170.7 977.9h0M184.9 950.2h0"/>
<path stroke="#41ab5d" d="M196.1 959.3h0M202.9 965.9h0M192.3 960.7h0M173.9 970.2h0M191.2 962.0h0M175.6 969.4h0M207.5 962.8h0M180.0 964.9h0M200.9 963.2h0M171.3 977.5h0M185.6 968.8h0M192.6 959.5h0"/>
<path stroke="#6a51a3" d="M174.6 911.2h0"/>
<path stroke="#e3e2f0" d="M181.1 953.0h0"/>
<path stroke="#41ab5d" d="M194.0 963.5h0M208.7 972.5h0M178.0 975.2h0M181.1 955.8h0M198.4 965.4h0M199.5 969.6h0M172.6 972.8h0M167.6 980.7h0M199.2 969.0h0M182.9 967.8h0M183.8 971.9h0M176.9 975.2h0M167.7 981.0h0M174.2 974.9h0M178.2 964.2h0"/>
<path stroke="#e5f5e0" d="M189.2 954.3h0M215.5 916.1h0M196.4 959.5h0M197.3 942.4h0M183.3 951.9h0M201.3 951.7h0M201.9 939.1h0M171.3 973.6h0M223.5 908.7h0M208.7 930.6h0M212.3 917.5h0M183.6 960.9h0M176.2 959.2h0M190.2 955.4h0"/>
<path stroke="#bcbddc" d="M185.6 930.3h0M214.6 967.8h0M199.3 941.1h0M207.2 963.3h0M217.6 969.1h0M214.4 975.4h0M170.6 965.9h0M203.0 961.2h0M175.4 976.0h0M201.3 951.2h0M202.5 971.1h0M208.3 952.2h0M187.1 953.0h0M195.1 958.7h0M211.5 918.7h0"/>
<path stroke="#74c476" d="M186.2 927.6h0M191.4 965.4h0M216.9 976.4h0M184.4 969.3h0M207.5 922.0h0M196.3 960.1h0M207.3 955.7h0M217.9 979.0h0M196.2 930.9h0M172.2 967.4h0M217.5 972.9h0M207.1 963.5h0M191.1 955.9h0M211.3 963.5h0M173.6 919.7h0M174.0 973.0h0M181.0 919.3h0M203.0 930.0h0M212.4 959.3h0M198.2 961.3h0M194.3 963.7h0M177.2 973.1h0M191.5 967.8h0M212.2 964.6h0M187.0 956.7h0"/>
<path stroke="#cfcde6" d="M217.4 968.6h0M214.0 961.7h0M190.4 956.9h0M209.7 938.1h0M208.0 956.4h0M199.8 953.8h0M209.4 965.0h0M202.9 955.4h0M201.6 959.2h0M212.7 964.4h0M192.9 958.0h0M204.0 963.0h0M194.8 948.9h0M218.1 917.7h0M202.9 954.2h0M222.2 923.4h0"/>
<path stroke="#238b45" d="M184.3 971.0h0M183.4 971.4h0M176.4 976.6h0M182.3 973.4h0M194.0 967.2h0M168.4 985.8h0M179.2 969.5h0M177.2 978.0h0M166.5 978.8h0M170.9 974.4h0M184.9 970.8h0M180.4 973.8h0"/>
<path stroke="#9e9ac8" d="M191.0 960.7h0M196.4 965.6h0M210.8 963.2h0M203.8 968.8h0M205.6 966.4h0M213.9 921.8h0M216.4 962.8h0M206.5 971.6h0"/>
<path stroke="#a1d99b" d="M196.2 969.6h0M185.4 917.5h0M217.5 971.7h0M180.4 954.8h0M192.1 958.0h0M187.5 960.1h0M198.4 965.7h0M172.0 979.2h0M199.3 934.4h0M173.9 970.1h0M200.0 951.9h0M189.5 922.4h0M214.5 965.7h0M174.8 959.7h0M217.0 921.3h0M197.5 964.4h0M213.0 925.9h0M182.1 957.3h0M174.7 919.1h0M217.9 918.1h0"/>
<path stroke="#c7e9c0" d="M182.8 916.6h0M203.1 966.3h0M195.8 952.4h0M217.5 966.1h0M185.7 930.1h0M196.0 941.0h0M170.7 970.2h0M179.5 954.4h0M182.6 950.6h0M180.7 952.5h0M180.0 953.9h0M214.6 976.2h0M196.1 951.8h0M191.2 946.4h0M205.0 953.0h0M196.6 954.0h0M196.6 967.7h0"/>
<path stroke="#fc9272" d="M214.6 961.3h0"/>
<path stroke="#006d2c" d="M196.9 962.6h0M171.5 974.6h0M182.4 969.7h0M172.8 971.6h0M172.9 974.5h0M174.7 978.1h0M172.6 978.0h0M166.2 988.6h0M172.3 977.9h0"/>
<path stroke="#807dba" d="M202.1 967.6h0M212.0 973.9h0M214.4 964.3h0M207.3 958.3h0"/>
<path stroke="#00441b" d="M169.4 975.1h0M175.0 975.7h0M165.7 981.7h0"/>
<path stroke="#e3e2f0" d="M182.9 953.1h0"/>
<path stroke="#41ab5d" d="M212.0 964.2h0M197.8 962.9h0M182.1 969.9h0M173.1 967.2h0M171.9 976.8h0M164.7 986.7h0M207.1 960.3h0M172.6 965.5h0M186.4 970.0h0M190.7 970.7h0M187.7 969.3h0M167.8 984.4h0M179.5 956.2h0M213.2 960.5h0"/>
<path stroke="#a1d99b" d="M182.3 925.9h0M182.9 955.3h0M182.5 973.4h0M209.9 969.2h0M174.1 960.3h0M176.9 963.1h0M197.1 939.9h0M178.1 974.3h0M216.3 914.4h0M211.2 925.0h0M215.8 924.1h0M209.5 962.0h0M200.9 938.5h0M175.1 969.2h0M212.9 976.9h0M197.0 946.2h0M194.4 943.1h0M186.1 950.8h0M205.0 932.2h0M178.1 961.2h0M174.0 974.5h0M195.2 957.0h0M189.5 941.0h0M201.8 936.6h0M209.7 928.8h0M181.1 959.6h0M179.4 962.0h0M194.8 935.8h0M210.3 957.4h0M177.5 976.3h0M194.8 938.6h0M203.6 972.9h0M202.1 958.7h0M203.4 934.4h0M172.2 972.4h0"/>
<path stroke="#238b45" d="M174.9 973.7h0M191.5 963.5h0M178.8 967.2h0M166.5 988.0h0M191.3 970.0h0M192.5 963.5h0M199.3 967.5h0M169.4 981.0h0M180.3 969.6h0M171.5 974.6h0M169.4 975.8h0M167.3 980.4h0M171.7 977.7h0M195.8 962.4h0"/>
<path stroke="#74c476" d="M197.8 969.8h0M174.7 970.4h0M188.3 960.9h0M189.5 958.4h0M191.0 968.7h0M191.4 961.1h0M200.9 971.9h0M209.4 955.4h0M188.9 941.9h0M193.1 958.6h0M176.4 959.5h0M184.4 972.4h0M196.8 967.1h0M183.0 965.8h0M209.6 956.7h0M180.5 925.8h0M209.3 959.2h0M176.4 971.5h0"/>
<path stroke="#e5f5e0" d="M182.9 950.5h0M205.3 933.5h0M214.3 960.1h0M196.4 947.3h0M184.9 949.5h0M177.4 925.0h0M197.1 954.9h0M212.7 975.8h0M206.8 929.5h0M187.9 931.9h0M198.8 960.4h0M179.3 955.1h0M202.6 938.3h0M170.5 973.0h0M186.5 934.6h0M197.5 951.5h0M171.3 966.8h0M197.2 935.4h0M171.9 969.0h0"/>
<path stroke="#c7e9c0" d="M175.0 962.6h0M198.0 946.8h0M213.5 925.8h0M207.9 952.9h0M202.8 971.3h0M207.3 953.7h0M209.8 936.1h0M197.0 949.3h0M199.2 952.3h0M178.2 960.8h0M180.9 927.9h0M208.1 926.1h0M191.4 959.5h0"/>
<path stroke="#9e9ac8" d="M180.3 963.5h0M208.7 961.0h0M215.0 912.4h0M215.4 969.5h0M200.8 952.4h0M200.6 948.4h0M215.7 973.9h0M171.6 974.2h0M182.3 922.2h0M211.7 968.0h0M216.4 972.1h0M191.8 930.5h0M202.6 969.7h0M195.9 971.1h0M204.8 957.7h0M215.1 964.7h0M206.0 956.4h0M214.5 960.4h0M204.3 957.6h0M172.2 966.1h0M215.2 969.8h0"/>
<path stroke="#cfcde6" d="M179.5 958.0h0M204.2 953.9h0M172.5 978.9h0M201.5 971.8h0M181.4 953.1h0M210.4 974.0h0M205.0 960.8h0"/>
<path stroke="#006d2c" d="M173.2 978.4h0M165.4 984.2h0M190.7 964.8h0M190.3 964.8h0M198.2 971.0h0M166.7 982.7h0M171.9 969.1h0"/>
<path stroke="#e3e2f0" d="M196.1 947.8h0M195.6 949.1h0"/>
<path stroke="#bcbddc" d="M177.1 968.1h0M206.4 943.5h0M187.7 968.3h0M214.1 976.3h0"/>
<path stroke="#ef3b2c" d="M204.7 958.0h0"/>
<path stroke="#807dba" d="M206.7 957.9h0M207.0 966.2h0M200.9 960.0h0"/>
<path stroke="#fb6a4a" d="M184.3 969.6h0"/>
<path stroke="#c7e9c0" d="M198.9 949.7h0M196.5 930.7h0M175.1 965.3h0M212.6 972.0h0M192.6 940.2h0M200.7 949.9h0M175.2 964.5h0M199.7 956.7h0M178.9 917.7h0M193.5 940.5h0M207.6 969.3h0M175.0 967.9h0M184.2 952.1h0M193.5 949.3h0M198.5 947.9h0M177.0 974.5h0M203.1 969.3h0M184.8 967.7h0M204.6 950.5h0M180.9 917.8h0M172.0 919.5h0"/>
<path stroke="#e5f5e0" d="M188.3 953.6h0M184.9 956.4h0M175.5 965.2h0M173.0 973.1h0M198.7 944.7h0M180.5 924.2h0M192.1 941.0h0M191.6 941.6h0M194.9 945.1h0M204.5 962.6h0M185.1 952.3h0M188.5 953.4h0M207.6 956.9h0M177.6 915.6h0M209.5 970.7h0M171.1 976.6h0M180.8 926.0h0M191.0 969.5h0"/>
<path stroke="#74c476" d="M201.5 948.5h0M208.7 972.2h0M178.7 972.8h0M203.1 962.2h0M171.2 970.1h0M192.4 966.7h0M200.7 961.8h0M217.1 978.9h0M209.6 971.2h0M173.1 973.5h0M177.0 967.7h0M198.0 964.0h0M203.9 971.0h0M173.1 967.4h0M185.7 956.4h0M191.5 960.7h0M187.2 947.5h0M188.2 971.3h0M181.2 973.0h0"/>
<path stroke="#a1d99b" d="M207.5 929.5h0M198.6 954.3h0M195.2 947.4h0M183.4 954.0h0M186.2 947.9h0M181.6 951.5h0M198.3 958.9h0M217.1 975.9h0M211.3 965.6h0M191.3 961.8h0M171.9 974.2h0M172.4 968.7h0M215.0 963.4h0M181.7 954.2h0M187.9 920.5h0M183.6 953.9h0M191.9 954.1h0M203.9 955.6h0M218.0 977.4h0M199.5 929.7h0M174.2 916.0h0M201.7 964.8h0M197.6 954.7h0M179.2 958.6h0M193.7 963.5h0M176.0 974.9h0M212.5 928.8h0"/>
<path stroke="#cfcde6" d="M209.9 954.7h0M204.9 951.9h0M218.3 966.2h0M207.0 956.4h0M170.9 977.0h0M214.0 963.3h0M218.2 970.6h0M212.1 958.0h0M184.0 962.2h0M206.9 966.9h0M215.0 960.6h0M184.3 967.0h0M198.0 949.0h0M185.8 948.3h0"/>
<path stroke="#238b45" d="M171.6 979.9h0M173.8 976.4h0M177.8 972.9h0M188.7 968.0h0M163.8 980.8h0M176.9 970.2h0M169.0 981.1h0M197.0 963.6h0"/>
<path stroke="#bcbddc" d="M205.0 973.3h0M211.1 955.6h0M213.7 972.1h0M197.2 945.3h0M175.2 961.6h0M212.7 959.7h0M173.2 964.4h0"/>
<path stroke="#9e9ac8" d="M204.6 959.4h0M178.6 925.5h0M207.5 961.0h0M217.2 971.2h0M206.7 963.5h0M201.4 954.7h0M212.1 973.9h0M176.3 965.6h0M207.0 969.2h0M206.3 953.9h0M208.3 959.1h0M216.8 969.0h0M215.7 976.6h0"/>
<path stroke="#807dba" d="M215.1 964.9h0M211.8 964.9h0M205.7 971.9h0M201.2 971.4h0M205.4 965.3h0"/>
<path stroke="#006d2c" d="M177.1 968.0h0M179.0 967.9h0M164.5 987.2h0M172.6 971.7h0M182.5 968.9h0M191.4 965.4h0"/>
<path stroke="#41ab5d" d="M182.0 972.3h0M172.5 966.5h0M178.1 964.1h0M171.4 977.2h0M203.0 958.2h0M212.0 964.0h0M180.6 965.2h0M195.0 960.2h0M197.1 967.5h0M175.3 959.0h0M178.4 968.2h0M199.5 968.2h0M192.7 964.4h0M199.9 966.7h0M173.0 976.1h0M183.4 968.3h0M181.6 967.1h0"/>
<path stroke="#fc9272" d="M193.0 964.3h0"/>
<path stroke="#00441b" d="M174.2 968.6h0M178.9 965.7h0"/>
<path stroke="#ef3b2c" d="M205.2 959.3h0"/>
<path stroke="#e3e2f0" d="M207.3 952.5h0"/>
<path stroke="#74c476" d="M212.9 957.9h0M174.0 968.3h0M188.1 957.5h0M208.2 927.2h0M215.3 967.5h0M196.7 948.5h0M214.3 963.6h0M184.5 964.8h0M202.8 955.6h0M181.4 962.8h0M217.3 917.7h0M208.7 967.8h0M217.6 922.9h0M214.6 975.9h0M204.6 959.0h0M179.4 967.2h0M205.7 962.9h0M199.8 946.7h0M197.8 956.4h0M186.1 971.6h0M201.3 969.9h0M194.9 953.6h0M178.2 974.6h0"/>
<path stroke="#238b45" d="M188.6 967.0h0M175.7 973.7h0M201.4 964.8h0M193.1 969.9h0M171.4 979.5h0M176.2 974.2h0M177.8 970.0h0M179.3 971.8h0M175.3 971.4h0M179.6 971.5h0M171.3 973.2h0M172.3 979.9h0M181.8 966.6h0M185.9 971.7h0"/>
<path stroke="#e5f5e0" d="M210.6 954.8h0M202.0 948.4h0M177.2 921.1h0M215.2 921.7h0M199.2 950.3h0M188.2 958.5h0M219.3 908.7h0M181.1 912.5h0M215.6 967.3h0M173.1 977.7h0M187.4 967.0h0M183.4 964.3h0M180.1 954.9h0M204.9 951.0h0"/>
<path stroke="#9e9ac8" d="M200.7 957.1h0M206.2 971.8h0M204.1 930.6h0M207.7 971.1h0M206.2 954.9h0M206.7 962.4h0M174.6 922.7h0M212.7 968.4h0M224.1 907.3h0M212.4 976.4h0M205.3 961.4h0M197.4 959.7h0"/>
<path stroke="#00441b" d="M176.5 977.0h0M170.5 973.9h0M170.6 975.4h0M172.1 974.7h0M187.1 971.1h0"/>
<path stroke="#c7e9c0" d="M202.0 948.1h0M209.2 966.4h0M196.8 952.0h0M185.9 922.2h0M197.0 938.9h0M190.7 965.9h0M198.3 953.5h0M192.2 950.8h0M187.6 953.4h0M189.7 933.3h0M182.4 951.2h0M182.4 954.9h0M188.3 953.7h0M213.9 914.7h0M180.2 954.9h0M215.4 917.9h0M186.1 961.5h0M215.7 912.6h0"/>
<path stroke="#006d2c" d="M173.0 978.6h0M196.2 968.3h0M183.4 968.4h0M197.5 967.7h0M172.7 977.5h0M173.2 972.9h0"/>
<path stroke="#cfcde6" d="M189.5 940.5h0M216.4 970.6h0M207.3 952.5h0M202.3 955.1h0M211.6 965.6h0M219.7 912.2h0M205.9 970.9h0M212.1 969.2h0M181.3 957.5h0M211.2 957.6h0M204.1 955.9h0M189.0 952.3h0M205.8 957.6h0"/>
<path stroke="#807dba" d="M209.1 958.8h0M200.7 958.5h0M202.0 965.9h0M210.9 956.1h0M211.9 975.3h0M210.0 962.5h0M210.1 968.7h0"/>
<path stroke="#bcbddc" d="M188.9 960.5h0M195.3 937.7h0M182.8 970.5h0M213.0 958.8h0M182.3 965.8h0M205.7 934.6h0M217.4 978.8h0M210.8 959.5h0M215.3 963.7h0M207.6 969.9h0M186.0 956.3h0M187.0 953.7h0"/>
<path stroke="#a1d99b" d="M182.7 952.8h0M204.4 919.4h0M194.2 954.5h0M178.8 959.6h0M188.3 931.8h0M214.6 977.5h0M200.3 954.9h0M213.5 927.6h0M184.6 938.5h0M215.1 967.6h0M177.0 917.2h0M178.0 914.9h0M212.4 965.1h0M189.2 960.2h0M206.3 956.0h0M217.0 911.4h0M174.6 977.3h0M193.1 945.1h0M188.6 929.0h0M190.3 959.0h0M190.6 959.8h0M212.0 967.1h0"/>
<path stroke="#41ab5d" d="M171.4 968.5h0M178.7 965.1h0M178.9 956.9h0M174.0 964.2h0M176.7 966.4h0M184.3 964.4h0M185.2 971.5h0M173.9 974.7h0M172.8 969.8h0M197.8 968.5h0M190.0 961.8h0M183.0 969.8h0"/>
<path stroke="#fb6a4a" d="M193.8 957.8h0"/>
<path stroke="#fc9272" d="M210.9 963.2h0"/>
<path stroke="#bcbddc" d="M198.7 947.2h0M214.0 965.9h0M211.6 959.6h0M201.8 955.6h0M171.8 965.7h0M211.4 964.2h0M190.3 952.3h0M213.5 971.2h0M189.4 964.1h0M201.7 961.3h0M208.2 972.1h0M181.3 954.6h0M204.1 959.5h0M179.1 959.5h0M205.6 973.4h0M218.3 930.6h0M209.2 967.6h0"/>
<path stroke="#a1d99b" d="M212.9 915.2h0M198.0 959.6h0M205.6 970.1h0M187.5 949.2h0M177.4 963.7h0M220.1 917.9h0M215.1 974.1h0M194.4 947.4h0M181.8 962.4h0M206.7 972.1h0M217.8 909.9h0M185.9 948.6h0M177.5 967.2h0M214.6 975.6h0M174.2 969.3h0M211.7 974.4h0M202.1 951.3h0M185.2 965.7h0M210.2 911.8h0M178.6 926.1h0M178.8 958.2h0"/>
<path stroke="#e5f5e0" d="M200.1 957.2h0M227.1 914.2h0M199.8 950.9h0M189.7 926.1h0M185.6 954.3h0M203.4 950.5h0M190.4 949.4h0M218.0 971.3h0M183.0 958.7h0M207.8 971.2h0M200.8 955.3h0M206.3 952.8h0M193.5 951.2h0M187.0 952.9h0M190.7 959.5h0M224.3 910.2h0"/>
<path stroke="#006d2c" d="M178.4 967.8h0M188.2 969.5h0M197.3 966.2h0"/>
<path stroke="#cfcde6" d="M209.9 917.4h0M211.7 965.5h0M211.4 968.8h0M182.5 953.6h0M215.3 978.1h0M216.3 966.7h0M211.6 925.1h0M216.6 974.9h0M189.7 958.8h0M214.5 973.1h0M191.4 963.2h0M185.5 952.4h0M204.3 952.6h0M209.8 959.9h0M176.5 961.3h0"/>
<path stroke="#41ab5d" d="M172.6 978.1h0M170.9 969.9h0M205.1 960.2h0M214.4 959.5h0M186.3 968.7h0M182.9 969.6h0M181.7 965.3h0M168.9 979.7h0M192.2 964.7h0M186.1 962.4h0M187.9 965.1h0M173.3 966.0h0M198.8 969.6h0M190.4 956.7h0M179.3 956.4h0"/>
<path stroke="#c7e9c0" d="M187.5 953.4h0M203.5 934.1h0M186.9 950.6h0M216.8 975.2h0M203.9 970.2h0M183.5 962.5h0M198.6 954.2h0M195.4 954.8h0M189.6 953.5h0M207.9 954.7h0M199.1 946.8h0M216.4 968.7h0M198.6 931.8h0"/>
<path stroke="#74c476" d="M176.0 958.2h0M189.6 962.5h0M197.7 956.5h0M210.7 970.6h0M209.7 965.6h0M176.0 970.3h0M176.7 965.3h0M176.6 962.7h0M180.1 973.1h0M197.7 963.2h0M191.5 964.4h0M209.5 972.2h0M197.5 959.8h0M181.7 957.7h0M192.4 962.2h0M178.3 962.0h0M178.5 972.3h0M177.7 917.6h0M191.7 958.2h0M198.9 957.1h0M170.8 971.7h0M212.7 971.2h0M210.5 972.4h0M194.2 945.1h0M179.1 973.1h0M193.6 969.3h0"/>
<path stroke="#9e9ac8" d="M205.9 971.0h0M204.2 962.7h0M200.3 965.4h0M209.5 917.4h0M213.8 974.3h0M188.5 963.2h0M189.9 969.5h0M188.6 967.8h0M201.5 968.1h0M212.2 972.9h0M203.9 958.1h0M210.2 975.8h0"/>
<path stroke="#00441b" d="M171.7 975.9h0M192.4 966.0h0M174.9 973.5h0M165.2 982.4h0"/>
<path stroke="#238b45" d="M168.9 981.0h0M200.0 970.8h0M171.3 978.2h0M167.7 980.8h0M172.2 978.1h0M176.8 968.0h0M171.4 973.9h0M183.0 968.4h0M171.8 977.4h0M194.8 963.1h0M173.6 977.8h0"/>
<path stroke="#fb6a4a" d="M172.6 962.9h0M212.7 926.8h0"/>
<path stroke="#807dba" d="M213.8 967.9h0M217.0 970.0h0M216.4 970.0h0M216.9 970.9h0"/>
<path stroke="#e5f5e0" d="M193.1 937.1h0M195.4 952.5h0M185.2 955.2h0M194.7 945.5h0M213.6 970.6h0M216.1 973.1h0M189.8 953.0h0M180.2 914.2h0M207.3 960.8h0M174.0 961.6h0M193.2 949.5h0M186.0 952.5h0M172.9 964.1h0M221.5 916.5h0M189.4 947.9h0M176.4 974.4h0M187.4 948.4h0"/>
<path stroke="#238b45" d="M193.6 966.2h0M176.4 967.2h0M186.5 967.3h0M172.7 969.0h0M185.6 971.7h0M165.3 981.9h0M172.0 974.3h0M175.9 976.9h0M165.1 987.1h0"/>
<path stroke="#9e9ac8" d="M201.8 958.3h0M172.5 965.3h0M195.7 936.5h0M200.9 963.8h0M200.5 958.8h0M204.6 949.0h0M203.7 949.4h0M212.1 967.1h0M201.6 954.3h0M215.4 967.9h0M182.6 960.9h0M175.3 962.3h0M204.9 949.4h0M215.6 969.9h0M181.5 956.2h0M217.8 968.8h0M210.0 966.8h0M211.1 959.2h0M201.2 963.7h0"/>
<path stroke="#e3e2f0" d="M198.1 950.2h0M192.5 954.4h0"/>
<path stroke="#a1d99b" d="M177.2 920.7h0M184.8 950.5h0M197.1 948.9h0M180.8 959.2h0M177.8 958.0h0M171.7 973.7h0M210.2 969.1h0M212.7 921.4h0M199.4 954.3h0M178.9 957.6h0M184.9 965.5h0M194.3 957.7h0M198.3 971.4h0M176.6 969.6h0M181.5 917.2h0M208.4 921.9h0M195.2 936.6h0M193.9 939.6h0M209.4 969.9h0M220.6 917.1h0M190.1 937.6h0M202.8 959.8h0M194.7 951.2h0M181.1 956.5h0M202.8 972.0h0M198.9 956.9h0M193.2 952.3h0M194.7 945.5h0"/>
<path stroke="#74c476" d="M185.6 970.5h0M217.3 909.5h0M195.6 942.4h0M182.6 961.3h0M177.3 966.3h0M214.2 960.4h0M217.4 915.9h0M209.2 957.5h0M215.3 923.2h0M179.3 953.9h0M190.7 929.2h0M173.5 965.5h0M189.2 946.3h0M216.0 962.6h0M177.2 970.6h0M185.5 923.2h0"/>
<path stroke="#006d2c" d="M168.0 978.7h0M175.4 976.0h0M171.7 978.3h0M171.2 977.6h0M164.0 985.6h0M172.1 974.2h0M168.8 979.2h0M171.2 974.1h0M174.1 976.7h0"/>
<path stroke="#cfcde6" d="M206.1 970.6h0M196.1 957.5h0M180.0 961.1h0M213.7 973.6h0M213.2 966.8h0M198.0 934.3h0M203.4 923.9h0M178.7 959.4h0M211.5 970.1h0M210.4 963.9h0"/>
<path stroke="#c7e9c0" d="M200.5 952.7h0M180.8 955.6h0M203.4 966.9h0M200.8 947.3h0M206.1 930.3h0M202.8 962.5h0M183.5 952.3h0M214.8 921.8h0M217.1 967.4h0M206.6 951.5h0M204.9 956.1h0M205.7 937.4h0M194.4 953.3h0"/>
<path stroke="#bcbddc" d="M193.7 958.1h0M217.6 969.1h0M206.2 962.7h0M217.6 964.8h0M210.7 967.1h0M209.5 966.3h0M214.8 968.5h0M198.2 957.6h0M217.6 977.1h0M174.4 960.8h0M209.7 969.2h0M202.8 952.7h0M207.0 972.4h0M206.0 958.0h0"/>
<path stroke="#807dba" d="M214.0 967.8h0M217.6 966.7h0M209.1 962.9h0M202.4 961.2h0M216.9 966.1h0"/>
<path stroke="#41ab5d" d="M187.8 956.0h0M198.2 967.9h0M197.3 967.5h0M215.0 964.6h0M194.4 968.7h0M180.8 970.9h0M207.3 961.1h0M185.4 961.2h0M173.7 973.6h0M174.9 977.8h0M195.9 963.3h0M171.8 974.7h0M190.4 966.3h0M189.2 968.8h0M176.6 970.5h0M196.7 963.3h0"/>
<path stroke="#00441b" d="M169.4 984.8h0"/>
<path stroke="#fb6a4a" d="M205.9 961.9h0"/>
<path stroke="#e5f5e0" d="M213.0 971.2h0M198.9 936.7h0M199.1 955.3h0M212.6 974.0h0M198.0 958.5h0M198.7 956.2h0M204.2 928.3h0M176.5 961.9h0M181.7 960.0h0M201.9 948.3h0M214.2 918.8h0M213.9 916.2h0M192.5 954.8h0M204.5 967.5h0M189.9 965.7h0M204.2 971.1h0M201.5 962.1h0"/>
<path stroke="#a1d99b" d="M192.6 954.2h0M215.4 965.8h0M193.9 952.2h0M186.2 940.2h0M202.4 949.1h0M209.2 972.1h0M179.7 962.8h0M186.1 925.1h0M222.9 909.3h0M197.8 939.8h0M207.6 940.1h0M187.8 923.4h0M199.0 958.7h0M180.9 963.0h0M176.9 968.8h0M207.5 962.8h0M204.2 950.0h0M185.0 961.5h0M187.4 957.1h0M211.7 916.8h0M179.7 918.8h0M177.7 973.7h0M191.3 951.3h0M175.2 963.7h0M189.9 927.0h0M174.5 962.2h0M192.8 949.4h0M200.0 938.4h0M183.9 961.1h0M211.5 958.4h0"/>
<path stroke="#74c476" d="M190.3 962.0h0M184.2 964.1h0M185.4 954.8h0M211.4 957.4h0M197.1 970.2h0M210.2 963.0h0M191.2 958.8h0M171.0 917.5h0M196.7 962.1h0M202.2 958.6h0M175.5 976.3h0M174.3 962.8h0M189.5 928.7h0M188.0 970.1h0M181.9 972.7h0M215.2 973.6h0M191.8 959.6h0M204.9 923.7h0M173.3 961.8h0M184.8 950.7h0M171.5 978.8h0M181.1 967.3h0M184.7 964.4h0"/>
<path stroke="#006d2c" d="M196.0 962.5h0M194.4 968.5h0M179.2 969.1h0"/>
<path stroke="#9e9ac8" d="M202.1 963.8h0M216.2 909.7h0M204.1 949.8h0M203.4 963.5h0M206.1 973.0h0M206.9 926.1h0M207.0 951.6h0M174.2 965.1h0M206.3 967.8h0M211.3 976.0h0M204.6 951.2h0M195.5 937.1h0M202.5 965.3h0M175.8 962.7h0M214.2 928.8h0M210.1 963.2h0M210.5 959.4h0M212.1 971.6h0M213.1 958.0h0"/>
<path stroke="#cfcde6" d="M184.2 951.4h0M217.0 915.0h0M193.4 939.3h0M205.3 961.3h0M213.2 973.3h0M214.8 974.8h0M217.7 969.0h0M204.7 971.0h0"/>
<path stroke="#00441b" d="M188.1 965.6h0M169.3 974.8h0M171.0 974.9h0"/>
<path stroke="#41ab5d" d="M166.3 982.1h0M190.3 966.7h0M171.0 966.2h0M194.7 955.8h0M184.8 971.2h0M178.4 973.1h0M200.7 971.5h0M200.1 955.5h0M183.8 971.6h0M203.3 966.4h0M196.7 962.9h0M178.6 967.6h0M196.6 956.7h0M210.2 956.8h0M171.8 975.5h0"/>
<path stroke="#807dba" d="M201.3 961.1h0"/>
<path stroke="#238b45" d="M199.5 964.3h0M193.5 968.1h0M200.3 971.8h0M200.0 969.9h0M189.0 966.3h0M173.3 978.3h0M180.4 968.0h0M174.6 977.3h0M172.5 978.5h0"/>
<path stroke="#c7e9c0" d="M181.7 953.0h0M213.4 922.6h0M197.4 954.9h0M208.6 926.6h0M203.1 952.4h0M209.0 954.1h0M201.6 934.6h0M203.5 928.6h0M213.6 964.9h0M194.7 942.5h0M186.0 954.8h0M202.8 946.4h0M206.9 953.6h0M190.8 949.0h0M178.5 955.3h0M196.9 937.6h0M196.2 939.7h0"/>
<path stroke="#bcbddc" d="M205.3 965.4h0M213.9 970.7h0M189.6 942.1h0M217.3 964.6h0M189.2 962.1h0M216.0 976.9h0M204.1 958.2h0M181.1 952.9h0M216.5 972.9h0M207.7 966.8h0M203.3 964.3h0M216.6 975.5h0M206.9 968.7h0"/>
<path stroke="#fc9272" d="M207.0 967.1h0"/>
<path stroke="#fb6a4a" d="M174.6 973.5h0"/>
</g>
<g stroke-width="2.2" stroke-linecap="round" fill="none" opacity="0.92">
<path stroke="#fee0d2" d="M290.9 930.9h0M294.5 982.1h0M250.0 962.7h0M292.4 973.7h0M299.2 916.7h0M298.9 919.4h0M262.9 941.0h0M269.6 946.0h0M295.7 984.6h0M275.4 949.9h0M277.7 952.0h0M249.8 920.6h0M274.0 959.6h0M288.7 917.6h0M265.2 940.1h0M287.2 977.9h0M283.0 969.8h0M284.6 965.3h0M266.0 945.3h0M243.3 968.2h0M290.0 921.8h0M297.8 910.8h0M250.7 975.5h0M275.0 968.9h0M294.2 973.0h0M296.6 921.4h0M245.1 967.9h0M288.6 934.8h0M262.1 948.1h0M268.5 930.0h0M285.7 913.7h0M279.5 963.3h0M267.0 964.4h0M266.9 933.8h0M273.6 974.3h0M293.0 968.3h0M279.2 928.3h0M261.6 946.7h0M294.5 983.0h0M289.0 934.6h0M268.3 936.6h0M272.0 957.9h0M250.3 968.0h0M277.0 951.6h0"/>
<path stroke="#a1d99b" d="M265.5 957.5h0M283.2 919.7h0M272.9 960.6h0M274.0 946.9h0M288.6 973.8h0M286.7 937.5h0M249.9 925.4h0M261.4 960.3h0"/>
<path stroke="#fcbba1" d="M256.1 955.8h0M287.7 915.8h0M260.7 971.7h0M268.6 945.2h0M273.2 957.2h0M276.0 936.1h0M272.9 968.2h0M262.2 957.6h0M256.1 920.7h0M293.7 927.6h0M250.4 970.3h0M267.4 946.3h0M292.1 916.1h0M257.3 918.8h0M285.7 940.0h0M268.0 955.2h0M288.7 969.5h0M260.4 937.6h0M257.2 929.8h0M268.7 945.3h0M269.3 951.3h0M251.4 932.8h0M293.4 906.6h0M263.1 939.1h0M264.8 942.7h0M272.1 947.1h0M296.6 915.7h0M269.6 947.4h0M265.8 946.4h0M275.5 930.9h0M265.4 943.0h0M303.7 916.6h0M270.4 945.6h0M273.5 958.3h0M250.9 975.0h0M277.4 963.8h0M254.5 970.7h0M261.5 956.1h0M291.4 918.1h0M290.7 931.1h0M246.7 975.1h0M265.6 940.4h0M282.3 949.2h0M298.3 980.4h0M284.9 920.6h0M261.0 961.5h0M297.0 928.6h0M249.6 970.3h0M256.7 968.9h0M286.3 921.5h0M297.8 914.0h0M258.1 921.1h0M243.9 968.5h0M279.3 958.8h0M268.4 954.1h0M278.1 971.2h0M244.4 968.1h0M244.5 963.9h0M261.4 964.4h0M268.7 941.5h0M264.9 928.3h0M276.1 963.5h0M260.2 944.5h0M255.9 930.3h0M248.9 962.6h0M262.2 931.4h0M295.9 979.2h0M289.6 976.7h0M281.9 963.2h0M269.8 949.4h0M261.7 958.0h0M299.7 913.1h0M288.0 921.3h0M261.5 945.8h0M291.1 979.8h0M298.5 918.3h0M261.5 969.4h0M275.1 928.0h0M250.5 964.9h0M291.5 936.7h0M264.7 963.4h0M267.8 962.9h0M244.2 976.7h0M253.2 973.6h0M297.7 977.7h0M256.0 932.6h0M282.0 969.7h0M253.7 935.5h0M297.5 911.0h0M289.5 920.9h0M252.1 924.7h0M265.6 952.4h0"/>
<path stroke="#fc9272" d="M281.6 953.8h0M294.3 913.2h0M266.0 955.2h0M265.1 961.7h0M280.1 931.4h0M241.3 973.5h0M284.1 924.0h0M286.6 923.7h0M254.5 965.0h0M292.6 917.1h0M241.5 974.3h0M273.1 956.9h0M287.6 959.8h0M293.1 911.8h0M286.2 971.1h0M248.8 970.3h0M246.0 966.6h0M280.3 955.8h0M284.1 937.5h0M268.6 953.8h0M284.0 965.9h0M255.8 963.7h0M263.6 963.8h0M292.5 969.2h0M260.6 922.9h0M294.8 977.7h0M278.9 947.8h0M265.0 960.5h0M244.5 974.9h0M277.0 965.8h0M272.3 946.4h0M251.7 922.3h0M286.9 930.5h0M269.6 954.7h0M289.6 976.2h0M256.7 946.2h0M245.5 967.3h0M257.3 924.9h0M275.8 949.4h0M272.5 949.7h0M264.9 951.7h0M258.8 965.8h0M247.5 976.9h0M264.8 964.3h0M256.2 950.8h0M259.0 936.8h0M276.6 947.1h0M251.5 967.2h0M270.3 955.2h0M294.5 921.5h0M299.6 980.5h0M244.7 967.6h0M273.1 939.6h0M266.3 967.6h0M263.0 937.9h0M279.5 953.4h0M272.5 947.6h0M269.4 952.1h0M276.3 956.5h0M281.8 934.9h0M265.4 935.8h0M278.3 938.9h0M257.8 973.8h0M269.9 941.7h0M248.2 965.3h0M267.5 951.6h0"/>
<path stroke="#41ab5d" d="M274.2 949.8h0M275.3 962.7h0"/>
<path stroke="#e5f5e0" d="M282.8 962.3h0M258.2 925.1h0M269.2 954.7h0M278.4 966.2h0M297.7 919.4h0M269.8 961.7h0M271.8 934.7h0M252.9 957.4h0M245.5 976.5h0M245.0 973.2h0M289.2 924.3h0M297.4 982.1h0M256.0 946.6h0M287.7 931.1h0M255.4 963.4h0M283.2 967.0h0M282.2 921.9h0M269.7 947.2h0M292.0 916.0h0M251.8 927.6h0M274.4 950.0h0M251.3 963.2h0M270.0 934.4h0M266.3 957.3h0M269.2 943.1h0M285.9 959.6h0M272.0 953.4h0"/>
<path stroke="#74c476" d="M291.6 932.3h0M255.7 961.0h0M279.5 931.0h0M293.0 973.7h0M259.9 951.4h0M244.8 979.3h0M296.0 979.4h0"/>
<path stroke="#e3e2f0" d="M273.1 965.5h0M258.2 969.0h0M259.5 937.0h0M278.0 967.7h0M256.8 929.3h0M270.2 968.0h0M268.6 948.7h0M245.3 975.9h0M281.2 934.4h0M259.6 934.8h0M272.0 955.3h0M254.6 953.9h0M292.1 929.8h0M247.0 975.6h0M275.9 952.2h0M273.5 940.0h0M257.8 928.2h0M244.2 975.3h0M261.4 955.0h0M277.1 945.1h0"/>
<path stroke="#c7e9c0" d="M248.1 923.3h0M275.9 964.8h0M250.8 921.3h0M254.2 973.1h0M248.1 969.2h0M252.8 918.2h0M275.3 955.2h0M251.6 963.4h0M250.8 969.9h0M279.9 958.1h0M279.5 962.5h0M274.3 950.0h0M295.0 919.2h0M285.1 929.7h0M299.2 914.3h0M274.7 955.1h0M243.5 969.2h0M245.4 975.2h0M268.6 953.9h0M238.8 964.0h0M273.7 944.4h0M286.1 919.8h0M276.1 960.5h0M266.0 951.1h0M265.6 963.4h0M292.2 983.8h0M276.9 958.5h0M266.7 946.5h0M287.5 946.3h0M253.6 922.9h0M255.3 942.3h0M260.4 926.3h0M282.1 927.9h0M296.4 910.3h0M253.3 936.4h0"/>
<path stroke="#cfcde6" d="M241.5 971.7h0M254.0 942.0h0M288.1 924.5h0M285.8 945.9h0M281.7 956.7h0M288.1 934.1h0M246.8 963.6h0M272.5 959.3h0M260.3 955.9h0M280.0 948.8h0M242.1 973.4h0M258.7 941.2h0M261.8 964.2h0M253.3 964.9h0M263.0 962.1h0M287.6 940.6h0M262.9 938.1h0M274.1 941.2h0M266.7 939.9h0M267.5 953.3h0"/>
<path stroke="#fb6a4a" d="M250.5 923.2h0M262.6 957.9h0M292.5 911.4h0M258.0 926.7h0M287.2 959.9h0M268.2 953.3h0M247.3 924.9h0M296.2 920.9h0M244.4 973.9h0"/>
<path stroke="#bcbddc" d="M283.0 947.7h0M269.1 942.5h0M270.2 956.0h0M257.5 970.4h0M246.8 977.0h0M257.2 929.8h0"/>
<path stroke="#ef3b2c" d="M253.2 925.1h0M242.4 975.0h0M290.6 969.8h0M248.3 927.2h0"/>
<path stroke="#cb181d" d="M268.0 949.5h0"/>
<path stroke="#cfcde6" d="M275.2 967.7h0M242.9 970.6h0M277.3 935.9h0M253.1 962.9h0M243.9 977.9h0M269.0 936.3h0M264.4 939.2h0M269.7 961.9h0M263.7 952.6h0M262.7 937.6h0M272.5 939.8h0M279.6 952.5h0M265.6 960.5h0M296.1 911.8h0M276.8 968.2h0M270.9 948.4h0M251.5 968.6h0M271.7 950.4h0M284.4 931.1h0M284.0 926.5h0M266.0 953.5h0M259.6 965.2h0M272.0 969.6h0"/>
<path stroke="#e5f5e0" d="M281.5 933.8h0M250.6 927.9h0M263.8 972.4h0M262.6 938.9h0M291.9 925.8h0M268.0 965.1h0M262.7 947.2h0M255.8 932.5h0M286.0 927.0h0M273.7 965.2h0M286.5 938.1h0M257.7 926.5h0M293.4 930.4h0M294.2 909.7h0M293.9 923.4h0M291.4 978.3h0M262.0 968.3h0M253.0 937.9h0M262.4 943.4h0M271.9 956.8h0M280.9 940.5h0M265.9 942.4h0M285.6 928.3h0M295.4 915.9h0M284.6 959.3h0M289.2 970.9h0"/>
<path stroke="#fc9272" d="M283.1 933.1h0M266.7 947.5h0M273.2 947.0h0M289.1 969.2h0M268.3 936.1h0M287.5 962.9h0M280.7 933.7h0M259.5 953.5h0M282.6 975.2h0M262.6 946.2h0M249.9 975.2h0M277.9 970.0h0M283.8 935.0h0M266.7 955.0h0M292.0 925.3h0M275.2 950.3h0M296.3 920.4h0M247.1 932.0h0M273.9 963.7h0M294.5 928.2h0M259.9 954.7h0M272.2 956.4h0M275.5 957.9h0M259.6 939.9h0M283.2 924.4h0M288.8 932.3h0M262.3 937.6h0M266.2 942.1h0M262.6 948.9h0M240.6 972.7h0M254.4 967.3h0M271.0 948.6h0M260.8 964.6h0M293.5 987.0h0M246.9 923.3h0M272.4 957.9h0M281.2 960.6h0M272.0 946.5h0M294.3 916.8h0M260.4 935.7h0M259.6 948.6h0M252.2 919.5h0M280.0 949.5h0M262.1 949.9h0M264.3 966.9h0M299.3 915.1h0M287.8 908.9h0M283.2 962.6h0M293.4 972.4h0M268.4 933.9h0M262.5 954.2h0M254.5 934.8h0M278.3 942.6h0M300.1 981.8h0M255.2 929.3h0M269.4 944.8h0M289.1 973.0h0M258.8 916.9h0M293.7 918.3h0M259.6 937.1h0M295.1 909.7h0M244.6 978.4h0M276.0 920.9h0M272.3 965.5h0M261.7 951.0h0M259.4 938.1h0M267.3 951.8h0M284.0 963.9h0M267.6 968.7h0M268.0 938.9h0M262.4 942.6h0"/>
<path stroke="#fcbba1" d="M266.8 946.7h0M268.1 957.1h0M288.0 932.7h0M274.9 946.3h0M260.8 946.9h0M253.1 928.3h0M290.6 970.6h0M272.6 935.2h0M271.8 973.1h0M289.2 930.6h0M254.0 955.6h0M286.8 969.0h0M297.9 983.0h0M255.4 966.4h0M251.2 929.6h0M252.9 931.4h0M280.9 957.1h0M250.0 921.8h0M296.3 920.0h0M264.4 933.6h0M278.8 965.1h0M283.4 936.4h0M298.2 916.1h0M294.6 930.5h0M282.4 922.5h0M248.5 921.2h0M250.4 971.8h0M275.5 956.1h0M266.2 954.3h0M252.9 927.8h0M266.0 957.6h0M276.9 942.6h0M286.3 929.8h0M296.3 921.9h0M260.9 944.7h0M267.6 941.1h0M264.6 955.8h0M276.7 943.9h0M295.0 928.7h0M274.5 934.3h0M254.9 920.5h0M280.6 934.4h0M280.3 941.4h0M248.5 976.3h0M284.9 942.1h0M277.5 932.7h0M269.2 953.6h0M244.5 973.1h0M295.5 924.9h0M277.4 953.4h0M267.9 944.2h0M285.8 963.3h0M253.8 916.6h0M251.2 970.5h0M263.1 942.3h0M256.0 931.6h0M253.6 920.9h0M270.3 954.9h0M261.7 946.5h0M267.9 966.0h0M264.5 946.2h0M298.5 918.5h0M266.4 959.3h0M291.3 979.2h0M279.3 962.5h0M256.4 929.3h0M297.2 983.8h0M286.4 966.7h0M245.1 971.2h0M289.4 973.8h0M270.9 962.3h0M246.4 976.7h0M240.0 972.2h0M238.2 970.3h0M246.3 977.0h0M274.6 961.9h0M290.7 966.4h0M246.3 974.2h0M255.1 967.0h0M251.3 918.6h0M298.1 917.1h0M287.6 926.5h0M274.1 956.7h0M278.6 941.2h0M257.6 934.8h0M278.9 954.1h0M250.5 971.2h0M242.6 974.4h0M276.4 951.1h0M260.1 938.1h0M248.8 979.9h0M253.3 938.0h0M256.6 939.0h0M275.6 961.8h0M266.4 939.2h0M263.8 959.5h0M277.2 954.9h0M281.3 967.5h0"/>
<path stroke="#bcbddc" d="M259.1 966.6h0M275.7 958.0h0M285.9 974.4h0M275.1 960.5h0M262.8 962.5h0M292.6 926.5h0M292.3 909.3h0M246.1 961.2h0"/>
<path stroke="#fee0d2" d="M294.9 919.1h0M283.4 964.3h0M258.3 963.5h0M257.2 940.1h0M254.2 955.7h0M258.9 923.8h0M264.8 935.1h0M266.7 955.6h0M262.0 944.6h0M284.4 970.3h0M291.0 926.5h0M262.6 955.7h0M251.8 971.6h0M270.4 957.0h0M292.0 970.0h0M288.4 971.3h0M267.3 945.8h0M268.3 942.8h0M260.7 952.6h0M277.7 941.3h0M246.4 971.0h0M269.7 947.8h0M294.6 913.7h0M275.0 936.2h0M293.5 982.9h0M249.3 922.7h0M285.1 924.4h0M269.3 944.0h0M249.4 966.3h0M272.5 965.9h0M274.0 964.4h0M241.6 975.0h0"/>
<path stroke="#e3e2f0" d="M266.7 968.3h0M285.0 963.7h0M271.2 964.1h0M272.6 957.5h0M287.9 926.6h0M253.0 921.4h0M262.1 947.2h0M276.8 949.9h0M255.7 958.2h0M279.5 949.2h0M292.7 913.9h0M258.7 953.1h0M248.0 933.2h0M263.1 935.3h0M266.9 951.4h0"/>
<path stroke="#fb6a4a" d="M276.5 960.9h0M277.4 960.6h0M299.4 919.5h0M298.5 915.3h0M280.7 947.7h0M279.1 920.2h0M249.7 966.0h0M260.1 949.0h0M247.9 960.7h0M245.7 972.7h0M260.7 938.8h0M283.7 967.4h0M249.1 930.8h0M272.8 954.5h0M249.0 932.7h0M292.9 976.9h0M272.1 957.4h0M263.4 962.5h0M268.1 948.5h0M290.3 929.9h0M260.1 953.7h0M271.1 969.9h0"/>
<path stroke="#c7e9c0" d="M279.4 944.3h0M262.0 942.7h0M251.4 970.2h0M251.8 972.3h0M293.0 973.6h0M274.7 931.5h0M255.5 960.5h0M254.8 950.0h0M285.3 961.3h0M253.6 921.8h0M291.8 920.4h0M264.0 931.2h0M289.4 914.4h0M279.6 935.2h0M281.0 948.4h0M277.3 964.0h0M273.3 963.0h0M267.2 939.1h0M272.6 956.3h0M259.9 954.4h0M286.4 971.0h0M243.5 963.7h0M284.5 942.1h0M282.1 929.6h0M283.4 921.9h0M267.9 945.8h0M254.3 939.5h0M273.9 973.5h0M289.5 919.8h0M266.0 964.9h0M291.2 927.6h0M285.2 963.2h0M287.7 967.7h0M288.5 925.9h0M287.4 972.1h0"/>
<path stroke="#74c476" d="M265.8 952.6h0M281.8 965.0h0M293.1 918.6h0M253.2 930.7h0"/>
<path stroke="#ef3b2c" d="M264.2 963.1h0M247.5 979.6h0M268.7 964.1h0M264.1 944.9h0"/>
<path stroke="#a1d99b" d="M277.0 932.3h0M264.9 957.8h0M261.3 964.6h0M260.0 936.4h0M281.1 967.1h0"/>
<path stroke="#e5f5e0" d="M294.2 919.3h0M249.5 928.9h0M281.9 946.5h0M248.8 971.0h0M267.9 956.9h0M253.7 923.8h0M293.6 969.4h0M266.1 948.0h0M275.3 951.4h0M286.0 926.9h0M257.4 964.3h0M284.9 962.0h0M250.8 920.1h0M253.9 935.2h0M292.3 916.8h0M269.4 961.7h0M266.4 945.6h0M276.0 927.1h0M274.7 963.7h0M267.3 947.6h0M294.6 916.8h0M273.0 948.7h0M256.1 932.5h0M275.7 930.5h0M251.6 922.1h0M245.7 968.3h0M249.2 960.8h0M277.8 967.0h0M263.9 951.7h0M278.2 937.2h0M296.1 985.0h0M249.4 969.6h0M248.3 964.0h0M296.8 981.4h0M276.6 966.4h0"/>
<path stroke="#bcbddc" d="M267.9 946.2h0M279.2 966.2h0M271.8 960.1h0M276.4 964.0h0M277.1 965.7h0M249.8 923.0h0M263.9 952.8h0M269.2 960.2h0"/>
<path stroke="#c7e9c0" d="M273.1 977.3h0M299.9 918.0h0M251.4 928.8h0M286.8 925.9h0M254.0 936.4h0M295.3 923.1h0M274.2 943.3h0M265.5 936.5h0M246.4 923.4h0M267.3 941.0h0M292.3 919.9h0M265.4 962.3h0M256.8 952.1h0M259.3 945.3h0M243.8 925.4h0M281.4 970.5h0M282.3 946.6h0M252.2 929.9h0M272.9 947.8h0M253.3 951.6h0M265.5 957.4h0M280.4 964.0h0M277.4 963.8h0M255.1 966.3h0M240.6 969.3h0M260.6 964.1h0M274.2 952.4h0M254.0 924.1h0M282.5 923.1h0M292.9 917.3h0M281.0 967.7h0M300.1 912.4h0M245.7 927.7h0M247.1 965.6h0"/>
<path stroke="#fcbba1" d="M277.6 949.6h0M295.2 978.4h0M245.7 976.4h0M287.7 923.9h0M259.2 943.6h0M280.6 961.1h0M288.6 929.9h0M263.5 943.4h0M254.9 960.5h0M277.7 959.3h0M270.2 961.3h0M271.6 961.8h0M286.7 920.2h0M273.8 956.4h0M266.6 968.5h0M278.6 963.2h0M270.3 928.4h0M284.9 933.1h0M297.2 983.9h0M284.6 972.6h0M283.4 926.9h0M260.2 959.5h0M266.6 952.5h0M252.4 930.8h0M256.4 922.3h0M255.6 936.2h0M250.9 923.4h0M265.9 956.7h0M278.2 959.8h0M288.3 962.2h0M240.3 970.3h0M259.5 964.8h0M248.4 924.6h0M290.8 980.3h0M255.4 928.6h0M246.0 976.9h0M248.2 926.9h0M255.7 947.5h0M247.1 923.7h0M264.0 947.9h0M250.4 918.6h0M295.4 912.8h0M284.4 969.6h0M261.8 941.4h0M273.2 955.9h0M267.2 961.0h0M297.6 914.2h0M281.5 938.6h0M267.5 940.2h0M261.8 928.3h0M277.9 961.3h0M295.7 915.8h0M291.5 960.1h0M245.4 931.9h0M264.2 956.7h0M285.4 919.0h0M291.2 931.5h0M269.6 945.5h0M271.8 940.2h0M268.1 959.3h0M261.2 965.9h0M256.9 934.1h0M269.2 959.7h0M285.9 962.4h0M272.5 960.8h0M253.5 961.3h0M263.9 947.9h0M278.7 960.9h0M253.3 919.3h0M263.4 947.6h0M271.2 938.6h0M291.0 973.7h0M284.8 961.2h0M260.6 966.1h0M284.9 972.8h0M261.2 928.8h0M253.4 970.5h0M287.3 963.4h0M269.0 945.5h0M291.5 934.6h0M248.5 921.8h0M289.8 946.1h0M289.9 964.0h0M279.6 943.8h0M249.1 930.9h0M264.1 945.4h0M262.2 965.3h0M273.7 936.4h0M257.6 942.1h0"/>
<path stroke="#e3e2f0" d="M278.4 936.3h0M295.9 921.6h0M294.0 978.6h0M249.1 971.3h0M242.3 976.6h0M273.7 935.6h0M287.5 974.3h0M251.6 919.3h0M243.7 975.9h0M259.8 942.6h0M275.2 968.2h0M272.3 957.9h0"/>
<path stroke="#fc9272" d="M300.4 913.2h0M302.1 916.3h0M261.8 946.2h0M261.2 959.4h0M248.0 972.8h0M295.7 916.0h0M288.4 926.9h0M281.2 934.1h0M259.6 962.3h0M284.8 929.2h0M257.6 947.0h0M291.9 910.9h0M282.0 951.0h0M277.7 937.9h0M265.5 966.8h0M288.7 962.2h0M269.7 956.8h0M262.6 958.8h0M299.2 914.8h0M273.0 972.6h0M278.3 957.0h0M257.5 933.6h0M244.0 976.2h0M258.6 950.1h0M275.6 946.1h0M245.7 972.2h0M265.9 946.3h0M263.0 932.6h0M294.1 979.6h0M254.6 964.6h0M255.0 971.2h0M265.2 961.9h0M294.3 923.7h0M254.7 916.3h0M272.2 957.5h0M262.5 923.3h0M257.8 940.0h0M277.1 961.3h0M272.4 947.9h0M255.5 953.5h0M297.9 983.7h0M286.2 964.7h0M273.5 945.6h0M264.1 948.9h0M293.6 971.8h0M266.9 958.8h0M280.1 966.1h0M239.4 969.9h0M263.1 951.0h0M275.1 948.0h0M261.1 945.4h0M276.6 940.1h0M284.6 939.9h0M280.7 964.8h0M246.6 977.6h0M286.9 918.0h0M256.6 926.5h0M270.5 943.6h0M299.2 917.4h0M244.3 971.4h0M248.7 977.3h0M268.9 963.1h0M273.1 955.2h0M261.9 969.5h0M277.0 935.8h0M277.2 942.6h0M286.0 936.7h0M271.3 938.2h0"/>
<path stroke="#fee0d2" d="M287.7 912.4h0M281.2 958.3h0M285.4 943.0h0M301.6 915.5h0M288.5 927.5h0M293.8 984.5h0M243.4 970.4h0M271.7 949.0h0M269.6 940.4h0M269.1 940.7h0M259.2 960.5h0M275.1 945.1h0M270.0 958.7h0M256.1 930.3h0M262.1 937.2h0M251.7 967.6h0M276.4 946.4h0M265.2 942.2h0M268.6 950.7h0M284.9 977.3h0M252.1 974.2h0M254.4 945.6h0M265.8 958.0h0M256.8 943.6h0M294.2 937.0h0M276.9 935.1h0M266.8 943.7h0M281.5 938.6h0M278.3 965.6h0M275.4 961.0h0M262.1 969.0h0M254.6 967.3h0M250.2 926.9h0M293.8 920.8h0M253.9 932.5h0M284.6 932.8h0M270.1 946.6h0M260.6 962.1h0M285.2 936.6h0M282.6 922.8h0M247.8 971.9h0M281.9 927.4h0"/>
<path stroke="#9e9ac8" d="M241.4 977.5h0"/>
<path stroke="#a1d99b" d="M265.3 934.7h0M279.3 967.6h0M296.6 913.0h0M277.9 956.1h0M249.8 973.0h0M294.5 981.9h0M244.6 958.8h0"/>
<path stroke="#cfcde6" d="M257.1 955.0h0M284.9 958.0h0M290.1 928.8h0M249.8 923.1h0M277.0 934.2h0M274.1 951.4h0M251.5 971.4h0M260.6 950.5h0M263.4 951.5h0M260.5 957.2h0M297.0 981.8h0M292.2 926.9h0M256.9 964.6h0M275.1 958.5h0M254.0 961.6h0M282.6 955.5h0M276.4 945.4h0M288.1 957.6h0M280.3 933.8h0M293.5 980.9h0M274.9 964.2h0M259.2 944.7h0M247.3 937.8h0"/>
<path stroke="#fb6a4a" d="M249.2 949.1h0M252.8 936.8h0M279.9 935.6h0M276.4 947.9h0M271.7 950.4h0M264.8 950.9h0M262.3 936.3h0M276.1 931.4h0M247.1 978.0h0M289.5 931.9h0M286.9 916.9h0M275.8 951.5h0M261.5 960.5h0M254.3 931.9h0M276.5 959.6h0M263.5 960.1h0M265.2 930.7h0M298.2 914.7h0M254.5 975.4h0M262.1 938.7h0"/>
<path stroke="#41ab5d" d="M270.1 967.6h0"/>
<path stroke="#74c476" d="M268.2 959.5h0M252.6 986.4h0"/>
<path stroke="#ef3b2c" d="M280.4 929.5h0"/>
<path stroke="#fc9272" d="M264.2 953.2h0M270.6 967.6h0M264.8 957.9h0M279.9 943.2h0M273.0 943.1h0M256.1 930.2h0M289.9 979.2h0M269.0 957.7h0M275.0 951.2h0M252.6 919.2h0M289.8 919.7h0M269.7 938.7h0M292.7 933.2h0M261.5 945.8h0M269.0 949.3h0M280.0 936.2h0M248.3 979.3h0M295.2 982.5h0M245.2 967.2h0M282.7 929.3h0M262.4 958.9h0M267.7 949.1h0M292.5 973.7h0M261.1 949.8h0M264.4 955.8h0M267.5 934.3h0M272.9 953.7h0M291.3 925.1h0M276.1 945.9h0M264.7 952.1h0M265.8 954.4h0M264.2 940.8h0M255.1 921.2h0M254.7 968.3h0M257.0 974.0h0M281.2 952.0h0M245.9 973.4h0M276.2 944.7h0M249.6 985.1h0M287.7 928.3h0M265.8 956.4h0M278.4 937.1h0M272.3 960.1h0M287.8 928.6h0M283.8 960.0h0M268.9 946.7h0M277.6 934.3h0M257.8 937.5h0M290.5 980.9h0M270.2 964.5h0M299.2 915.4h0M244.6 974.0h0M259.6 937.6h0M251.0 969.5h0M244.4 971.0h0M254.7 930.9h0M258.9 965.2h0M251.7 925.7h0M285.1 978.3h0M251.8 951.1h0M258.4 934.9h0M254.2 922.7h0M281.5 953.3h0M279.6 923.5h0M266.8 928.8h0M250.4 970.9h0M257.3 921.3h0M286.9 931.4h0M267.8 938.2h0M274.3 951.5h0M250.7 969.9h0"/>
<path stroke="#fee0d2" d="M280.5 958.9h0M276.0 953.2h0M264.9 946.8h0M266.3 939.9h0M275.8 971.2h0M263.6 970.6h0M271.8 955.4h0M272.1 946.8h0M288.1 944.0h0M292.4 915.7h0M254.6 976.3h0M245.0 965.7h0M255.1 920.2h0M252.1 923.0h0M250.5 975.3h0M264.0 950.3h0M277.5 971.2h0M262.4 970.8h0M290.8 935.4h0M268.5 945.5h0M279.1 934.8h0M256.7 929.2h0M255.7 937.6h0M274.6 943.3h0M283.4 931.1h0M267.7 948.9h0M294.9 978.3h0M294.3 925.9h0M257.2 921.5h0M263.8 951.2h0M241.4 975.5h0M259.6 962.0h0M298.6 981.9h0M258.0 964.1h0M301.9 916.5h0M273.7 964.3h0M244.7 975.5h0M246.0 958.5h0"/>
<path stroke="#e3e2f0" d="M284.1 976.9h0M293.7 987.2h0M298.8 916.3h0M275.5 965.3h0M267.8 946.3h0M253.9 915.5h0M257.3 958.2h0M245.5 925.6h0M260.8 959.6h0M281.8 956.9h0M252.8 924.3h0M292.1 986.2h0M273.5 960.6h0M244.5 964.3h0M258.7 951.9h0M271.0 960.7h0M277.5 957.0h0"/>
<path stroke="#fcbba1" d="M296.0 922.8h0M288.2 933.0h0M277.4 960.8h0M269.6 945.3h0M265.1 942.3h0M252.2 960.4h0M299.3 977.9h0M269.2 949.8h0M253.3 963.6h0M296.9 912.9h0M272.1 961.9h0M296.7 917.5h0M248.3 976.9h0M253.2 939.7h0M275.2 938.5h0M285.3 966.7h0M259.2 961.0h0M276.4 940.5h0M253.6 930.0h0M288.4 966.7h0M294.1 914.7h0M255.6 925.2h0M270.3 956.5h0M272.8 934.1h0M263.0 947.2h0M265.8 955.5h0M255.9 960.1h0M260.1 936.3h0M272.1 955.0h0M265.2 968.8h0M261.7 949.6h0M242.2 975.8h0M253.9 954.9h0M250.8 928.5h0M289.3 925.9h0M269.5 948.1h0M268.5 946.9h0M301.6 979.6h0M292.3 976.7h0M282.9 919.2h0M265.8 940.7h0M274.1 949.0h0M295.0 926.9h0M270.1 932.8h0M268.5 941.4h0M265.8 944.4h0M294.7 974.9h0M269.6 955.2h0M274.9 942.7h0M248.4 924.6h0M289.6 921.2h0M267.9 953.1h0M252.3 934.2h0M269.4 960.2h0M296.4 977.7h0M280.1 921.9h0M270.6 951.2h0M282.5 955.6h0M293.9 911.9h0M272.1 961.2h0M260.8 936.8h0M252.4 964.8h0M266.9 935.7h0M281.9 944.1h0M248.6 982.2h0M254.4 929.3h0M278.5 963.1h0M298.7 975.9h0M259.0 974.1h0M285.7 926.3h0M253.3 921.0h0M273.4 969.2h0M293.8 923.1h0M290.3 964.3h0M246.3 964.5h0M277.6 967.6h0M277.6 966.3h0M287.3 971.6h0M303.7 920.7h0M286.6 923.9h0M282.2 961.5h0M243.0 969.8h0M292.6 929.7h0M287.1 974.5h0M267.0 969.1h0M265.5 940.0h0"/>
<path stroke="#e5f5e0" d="M272.4 950.3h0M295.3 971.6h0M270.4 955.8h0M289.4 923.7h0M293.8 920.6h0M266.3 946.7h0M273.7 957.9h0M246.1 928.4h0M269.8 941.2h0M263.7 952.5h0M283.8 963.7h0M284.6 926.0h0M257.8 949.5h0M263.4 956.5h0M249.3 965.8h0M248.0 932.3h0M277.1 961.2h0M269.7 945.5h0M291.6 921.0h0M275.3 958.5h0M298.4 982.7h0M261.9 943.2h0M268.2 955.3h0M295.1 912.4h0M285.4 926.6h0M255.0 937.1h0M278.6 957.3h0"/>
<path stroke="#cfcde6" d="M245.2 969.9h0M256.8 926.5h0M261.3 960.5h0M271.8 939.3h0M260.1 940.2h0M248.5 921.8h0M245.3 970.0h0M244.8 924.0h0M249.2 921.5h0M261.0 966.6h0M256.7 920.4h0M265.1 932.5h0M255.7 931.2h0M286.1 941.4h0M265.7 946.1h0M263.4 962.0h0M263.8 954.7h0M276.5 947.2h0"/>
<path stroke="#fb6a4a" d="M289.7 914.5h0M283.0 935.0h0M291.2 910.4h0M245.6 974.9h0M286.1 971.4h0M260.5 958.9h0M266.1 941.8h0M299.9 921.0h0M245.5 970.3h0M260.5 944.6h0M262.6 952.0h0M295.9 913.1h0M288.0 939.9h0M297.0 980.9h0M263.2 936.5h0M286.6 931.9h0M247.0 973.4h0M279.6 916.0h0M256.9 925.0h0M283.9 974.1h0M301.9 914.2h0M296.9 914.1h0M296.8 922.7h0M259.6 930.1h0M271.2 943.9h0M293.3 924.4h0"/>
<path stroke="#c7e9c0" d="M271.4 952.6h0M265.3 943.0h0M292.7 911.8h0M285.1 943.9h0M260.1 961.8h0M282.3 956.6h0M277.6 961.9h0M295.2 909.0h0M264.1 951.9h0M272.5 963.5h0M265.7 981.6h0M250.5 977.7h0M268.2 959.3h0M295.7 920.9h0M278.0 952.0h0M289.0 926.0h0M265.6 958.9h0M274.0 945.4h0M297.5 976.9h0M248.4 978.2h0M270.1 962.1h0M257.7 971.3h0M270.5 942.6h0M243.6 977.0h0M272.2 967.1h0M274.3 948.6h0M283.5 937.7h0M287.3 968.7h0M261.7 951.4h0M259.7 969.2h0M253.2 971.4h0M297.6 914.6h0M290.7 977.5h0M272.9 957.3h0M264.0 935.1h0M280.3 938.6h0"/>
<path stroke="#a1d99b" d="M269.7 946.8h0M287.1 922.7h0M273.9 965.0h0M277.1 938.1h0M251.7 981.9h0M266.8 950.4h0M274.0 963.8h0M269.7 971.7h0M276.4 969.2h0"/>
<path stroke="#bcbddc" d="M267.4 971.0h0M252.3 967.0h0M289.9 926.8h0M258.5 968.8h0M277.4 951.8h0M261.3 958.4h0M263.6 962.2h0M266.5 957.4h0M255.2 937.5h0M250.9 922.9h0M273.2 970.5h0M259.0 964.9h0"/>
<path stroke="#ef3b2c" d="M264.4 950.8h0"/>
<path stroke="#74c476" d="M270.1 951.2h0"/>
<path stroke="#a50f15" d="M269.9 954.3h0"/>
<path stroke="#fc9272" d="M299.9 914.8h0M280.9 956.9h0M267.7 954.6h0M268.7 967.3h0M249.2 959.5h0M285.3 931.5h0M291.3 923.7h0M263.7 955.2h0M287.0 937.5h0M251.6 965.7h0M271.2 951.8h0M253.6 934.3h0M253.1 953.9h0M285.7 930.5h0M296.7 924.2h0M293.4 968.0h0M281.8 970.8h0M295.2 983.2h0M293.3 917.3h0M247.4 982.7h0M262.8 930.6h0M251.0 967.5h0M270.8 954.5h0M266.1 950.4h0M254.7 964.1h0M284.4 969.3h0M299.7 913.1h0M276.1 945.4h0M282.6 926.6h0M279.1 960.5h0M257.3 937.8h0M290.1 915.8h0M246.1 980.9h0M256.4 954.7h0M250.8 966.9h0M287.8 933.1h0M293.9 931.4h0M263.1 957.6h0M271.9 963.1h0M247.7 966.7h0M271.1 948.4h0M297.1 921.3h0M274.3 944.0h0M280.3 951.8h0M291.9 942.5h0M267.1 950.4h0M252.6 970.5h0M266.1 951.2h0M285.6 970.0h0M286.3 973.3h0M288.9 968.0h0M262.7 952.1h0M254.7 968.7h0M264.7 932.7h0M300.2 980.3h0M285.9 921.8h0M286.9 928.2h0M269.2 953.9h0M274.9 951.8h0M248.2 979.8h0M278.4 934.6h0M296.5 982.4h0M285.0 920.3h0M283.8 921.8h0M255.7 928.3h0M274.4 959.3h0M253.3 930.2h0M280.4 934.0h0"/>
<path stroke="#74c476" d="M259.7 953.4h0M257.0 953.1h0M271.1 948.1h0M261.0 957.4h0M282.0 939.5h0M271.4 975.1h0"/>
<path stroke="#fcbba1" d="M274.5 948.9h0M291.6 987.1h0M291.9 924.0h0M287.9 948.1h0M275.5 952.3h0M281.4 932.1h0M258.8 945.7h0M287.4 930.4h0M268.2 944.8h0M285.6 965.8h0M295.7 975.0h0M266.4 958.0h0M271.9 949.5h0M279.0 955.7h0M274.5 940.0h0M246.7 980.7h0M292.8 970.8h0M252.8 928.8h0M251.2 962.0h0M260.3 961.6h0M255.0 968.4h0M249.2 933.9h0M266.8 961.2h0M250.0 981.2h0M260.6 934.5h0M265.9 954.8h0M267.7 946.5h0M243.0 975.0h0M268.8 954.7h0M260.0 927.8h0M271.0 955.3h0M277.2 947.8h0M271.7 953.1h0M274.8 962.3h0M245.7 975.8h0M272.9 952.2h0M280.3 938.1h0M263.3 949.2h0M288.3 929.3h0M291.8 914.1h0M271.2 938.5h0M253.3 975.3h0M264.7 955.9h0M273.8 941.6h0M277.0 942.5h0M264.9 936.8h0M278.7 953.3h0M283.2 970.7h0M269.3 949.3h0M260.5 974.0h0M256.6 959.9h0M262.9 932.6h0M286.3 975.4h0M277.3 930.0h0M269.0 949.1h0M265.0 944.0h0M288.7 910.3h0M253.3 916.3h0M267.6 945.4h0M279.8 948.2h0M276.9 953.5h0M297.2 919.2h0M270.9 946.4h0M255.2 927.2h0M246.2 924.1h0M254.8 933.2h0M260.9 940.0h0M293.8 978.4h0M274.2 951.5h0M248.4 928.9h0M268.3 949.1h0M261.7 958.9h0M264.6 955.3h0M269.7 949.3h0M287.8 965.5h0M273.4 952.9h0M268.4 968.1h0M281.0 939.8h0M261.3 934.2h0M304.0 916.2h0M254.6 959.5h0M260.4 953.4h0M258.0 936.2h0M287.4 915.0h0M261.7 961.6h0M265.9 953.0h0M260.3 925.4h0M288.9 918.8h0M279.5 933.7h0M265.9 946.8h0M280.1 940.5h0M243.7 975.5h0M248.3 921.0h0M251.7 968.7h0M257.5 929.4h0M271.6 955.1h0M250.1 929.7h0M283.1 977.9h0M291.9 970.9h0M275.2 961.8h0M288.6 975.4h0M256.9 933.9h0M253.1 963.2h0"/>
<path stroke="#a1d99b" d="M272.2 972.8h0M282.9 968.2h0M276.2 962.4h0M278.5 964.7h0M284.7 937.2h0M264.4 941.6h0M266.6 937.9h0M272.3 969.2h0M256.7 952.2h0M270.5 969.3h0M283.1 927.9h0M264.2 957.9h0M295.6 985.3h0M252.9 926.7h0M296.4 911.6h0"/>
<path stroke="#c7e9c0" d="M257.3 949.8h0M245.9 974.7h0M284.1 931.2h0M268.5 953.9h0M266.8 942.9h0M268.6 960.2h0M278.3 975.2h0M274.8 956.4h0M256.2 954.1h0M283.7 930.4h0M272.1 969.2h0M293.8 970.8h0M288.3 977.8h0M296.5 983.2h0M291.0 926.5h0M267.0 962.2h0M262.2 947.6h0M277.2 958.4h0M288.2 914.2h0M282.4 965.5h0M268.6 958.7h0M293.2 920.4h0M266.0 955.1h0M257.0 953.1h0M272.9 955.6h0M272.9 965.4h0M289.0 924.9h0M254.1 978.0h0M280.8 963.9h0M257.3 929.4h0M265.2 952.4h0M294.4 917.8h0M253.5 957.0h0M297.4 916.2h0M299.0 916.1h0M274.6 944.7h0M265.9 932.1h0M269.8 961.1h0M275.4 938.2h0"/>
<path stroke="#fee0d2" d="M287.3 971.8h0M259.8 965.4h0M273.2 981.0h0M268.8 953.5h0M261.3 949.5h0M294.8 970.6h0M258.6 952.7h0M244.3 975.5h0M275.7 943.4h0M262.9 952.7h0M267.6 950.2h0M267.0 942.5h0M294.3 909.4h0M298.2 916.5h0M275.9 948.5h0M268.7 949.2h0M263.6 943.4h0M289.8 969.2h0M262.4 956.8h0M262.5 967.7h0M265.5 952.6h0M248.2 973.0h0M268.2 956.0h0M288.4 922.9h0M266.9 962.8h0M262.6 961.5h0M259.9 975.4h0M281.2 955.2h0M265.4 957.8h0"/>
<path stroke="#e5f5e0" d="M288.3 972.5h0M264.4 962.4h0M260.6 940.1h0M253.8 922.0h0M258.8 966.8h0M272.2 961.4h0M273.6 959.9h0M282.6 933.7h0M271.4 960.2h0M248.5 922.3h0M277.9 962.6h0M249.3 928.4h0M272.1 965.4h0M258.6 939.2h0M285.8 972.3h0M270.9 948.6h0M248.4 926.0h0M273.0 968.0h0M273.8 937.8h0M271.9 948.2h0M275.9 945.7h0M272.2 959.5h0M265.8 947.0h0"/>
<path stroke="#cfcde6" d="M298.5 982.8h0M247.7 924.0h0M291.3 925.5h0M279.1 937.3h0M254.3 959.1h0M248.4 929.4h0M259.0 936.3h0M280.4 973.0h0M263.0 955.1h0M275.6 955.9h0M267.2 948.6h0M282.5 962.6h0M292.7 913.1h0M266.8 962.4h0M257.4 937.9h0M269.9 962.5h0M280.4 930.0h0M297.1 914.8h0M265.3 948.3h0M284.7 952.5h0M254.5 954.7h0M263.6 932.9h0"/>
<path stroke="#fb6a4a" d="M295.2 972.5h0M289.9 918.2h0M260.5 968.9h0M279.6 944.8h0M281.8 969.5h0M261.5 962.9h0M295.9 917.9h0M270.1 944.2h0M243.6 978.0h0M277.8 946.1h0M289.8 922.0h0M256.3 964.2h0M259.0 970.7h0M252.4 974.3h0M258.6 961.1h0M250.8 964.2h0M260.7 935.1h0"/>
<path stroke="#e3e2f0" d="M245.3 970.3h0M281.4 956.1h0M264.7 953.5h0M270.3 963.1h0M290.9 967.4h0M273.3 958.0h0M271.0 948.3h0M274.5 975.8h0M293.9 913.1h0M245.1 978.8h0M264.6 942.9h0"/>
<path stroke="#bcbddc" d="M265.4 959.4h0M261.9 950.5h0M257.7 968.7h0M291.5 916.2h0M286.4 963.8h0M273.0 937.7h0M272.0 961.5h0"/>
<path stroke="#ef3b2c" d="M294.4 973.3h0M279.0 940.8h0"/>
<path stroke="#a50f15" d="M274.8 948.9h0"/>
<path stroke="#fc9272" d="M258.6 929.5h0M283.7 935.4h0M290.2 976.2h0M264.5 959.6h0M285.6 931.2h0M295.4 919.5h0M285.2 962.5h0M294.4 918.6h0M261.4 934.4h0M273.2 952.1h0M281.1 962.8h0M281.8 968.4h0M244.6 974.3h0M270.6 956.2h0M259.1 958.5h0M259.8 945.4h0M285.5 972.1h0M256.6 941.8h0M273.1 964.3h0M274.3 952.7h0M291.1 975.4h0M271.5 967.5h0M246.3 975.3h0M257.4 961.3h0M260.1 960.9h0M248.2 923.3h0M277.8 968.2h0M270.6 949.5h0M247.5 928.7h0M247.4 922.8h0M251.9 927.5h0M293.6 976.6h0M245.5 972.8h0M280.1 968.8h0M278.1 948.1h0M280.9 965.6h0M261.7 952.7h0M285.3 923.6h0M266.1 940.7h0M262.5 941.5h0M255.7 956.9h0M260.5 951.6h0M266.0 945.7h0M263.3 946.6h0M276.7 948.1h0M260.4 952.1h0M290.8 915.8h0M291.0 919.4h0M272.2 948.9h0M252.7 937.2h0M275.0 949.5h0M279.7 957.1h0M272.0 956.7h0M277.7 953.9h0M264.7 945.4h0M266.0 937.0h0M283.1 928.3h0M291.8 929.3h0M248.1 972.0h0M290.6 973.5h0M268.5 951.6h0M281.0 936.5h0M274.4 941.1h0M256.8 948.7h0M269.2 953.3h0M270.3 965.8h0M242.3 975.2h0M295.4 981.1h0M252.7 957.1h0M282.5 926.9h0M288.3 929.5h0M275.7 962.1h0M267.2 971.5h0M266.3 942.6h0"/>
<path stroke="#cfcde6" d="M286.2 966.7h0M249.5 929.5h0M259.6 940.3h0M268.0 951.6h0M278.5 961.2h0M291.9 982.6h0M261.6 951.4h0M264.8 937.0h0M277.4 965.9h0M283.5 936.1h0M298.1 980.4h0M273.4 955.8h0M272.2 940.6h0M256.1 958.5h0M247.9 967.7h0M296.4 928.9h0M262.6 947.1h0M252.3 924.6h0M270.9 933.6h0M272.3 941.9h0M277.1 955.8h0M296.6 926.3h0M271.4 947.4h0"/>
<path stroke="#a1d99b" d="M260.2 951.3h0M276.7 961.4h0M247.3 938.9h0M245.0 976.8h0M268.5 974.5h0M267.6 960.9h0M283.5 974.2h0M272.3 970.6h0M279.5 953.5h0M268.2 949.1h0"/>
<path stroke="#fb6a4a" d="M262.7 948.1h0M250.6 958.5h0M275.5 943.9h0M257.2 933.8h0M266.7 948.8h0M293.8 910.0h0M256.9 961.8h0M279.1 936.8h0M269.5 940.2h0M280.4 966.6h0M275.8 947.2h0M287.7 927.8h0M288.3 918.0h0M280.9 966.5h0M287.1 934.4h0"/>
<path stroke="#e3e2f0" d="M262.2 961.4h0M264.2 945.4h0M254.6 931.4h0M277.8 945.7h0M269.9 953.0h0M256.1 944.1h0M295.0 928.4h0M275.4 958.5h0M271.7 943.3h0M271.0 954.3h0M250.4 975.8h0M294.2 917.5h0M263.2 959.3h0M271.3 947.5h0M247.8 967.9h0M273.4 963.2h0M277.5 936.9h0"/>
<path stroke="#fee0d2" d="M280.8 933.4h0M294.0 919.6h0M253.3 969.6h0M270.4 959.5h0M260.1 939.1h0M288.9 922.7h0M283.6 948.7h0M294.5 926.8h0M251.7 926.6h0M291.3 909.8h0M283.3 964.9h0M276.1 959.8h0M245.4 975.3h0M278.6 942.3h0M269.6 952.4h0M254.0 966.7h0M255.2 933.3h0M280.7 944.3h0M256.9 937.2h0M273.0 935.1h0M250.3 974.5h0M269.2 953.9h0M261.8 943.2h0M271.1 953.6h0M256.2 924.7h0"/>
<path stroke="#fcbba1" d="M253.2 923.4h0M291.6 976.2h0M254.8 960.5h0M277.1 963.3h0M294.4 983.0h0M282.7 958.4h0M294.3 909.3h0M275.0 964.1h0M279.5 950.9h0M293.4 933.7h0M262.6 929.9h0M262.7 934.9h0M259.9 968.4h0M268.2 952.8h0M287.5 940.3h0M286.1 975.0h0M289.9 913.0h0M276.0 959.5h0M261.3 952.6h0M250.1 920.6h0M286.6 936.4h0M267.9 930.9h0M282.8 961.9h0M257.7 928.6h0M288.9 923.2h0M264.1 932.3h0M256.6 966.6h0M251.0 929.9h0M294.2 975.0h0M292.6 925.5h0M261.1 950.4h0M245.5 970.7h0M272.7 959.8h0M274.3 952.6h0M280.2 927.3h0M257.7 960.1h0M265.9 955.2h0M259.0 971.2h0M276.1 931.1h0M265.1 967.9h0M288.4 928.5h0M271.4 950.3h0M269.5 959.5h0M250.6 972.4h0M283.5 973.6h0M243.1 971.0h0M295.4 916.8h0M301.0 915.4h0M283.0 947.1h0M271.4 936.0h0M281.9 931.0h0M286.3 928.9h0M254.3 976.3h0M237.2 970.2h0M265.8 948.7h0M268.1 948.0h0M276.4 946.7h0M253.2 926.1h0M274.8 964.3h0M255.2 956.0h0M255.9 959.4h0M247.7 970.9h0M284.6 917.5h0M295.6 976.5h0M255.7 964.8h0M293.9 977.6h0M256.4 931.4h0M262.9 947.9h0M263.8 969.4h0M248.5 927.4h0M272.0 953.9h0M252.5 966.1h0M276.5 937.4h0M251.0 962.4h0M248.7 967.7h0M268.9 962.8h0M285.9 961.2h0M270.8 954.4h0M292.7 983.7h0M263.8 947.8h0M276.2 950.7h0M281.4 961.4h0M288.2 947.6h0M254.6 965.8h0M296.3 980.2h0M266.3 950.6h0M263.2 932.0h0"/>
<path stroke="#c7e9c0" d="M285.6 971.0h0M276.3 979.1h0M285.5 919.1h0M280.5 965.0h0M269.8 956.3h0M257.5 925.9h0M262.9 961.3h0M272.4 965.9h0M277.1 937.6h0M280.5 955.6h0M271.3 962.0h0M279.2 969.6h0M272.4 973.6h0M281.6 962.7h0M257.8 968.3h0M262.6 948.9h0M268.9 951.3h0M259.9 928.2h0M276.4 966.8h0M263.8 944.0h0M288.3 930.9h0M271.8 962.0h0M297.2 923.9h0M258.7 935.7h0M280.5 939.3h0M247.7 974.6h0M298.8 982.0h0M278.8 934.7h0M276.8 966.6h0M282.9 958.1h0M284.6 933.9h0M268.9 960.2h0M249.1 926.7h0"/>
<path stroke="#e5f5e0" d="M248.2 970.8h0M260.0 961.8h0M275.3 961.0h0M268.0 964.2h0M294.6 926.9h0M255.2 970.1h0M249.7 976.7h0M260.5 949.5h0M259.0 962.8h0M277.5 951.2h0M253.3 956.8h0M272.8 951.4h0M274.0 947.9h0M268.4 964.0h0M263.5 958.8h0M276.0 955.5h0M251.8 924.2h0M263.9 946.1h0M274.7 967.4h0M274.2 966.8h0M257.8 960.2h0M263.5 944.4h0M284.1 930.2h0M244.6 969.5h0M287.2 977.8h0M281.0 932.9h0M283.4 971.6h0M276.6 940.9h0M296.8 920.6h0M256.7 950.8h0M247.3 973.9h0M249.4 970.7h0M295.6 923.3h0M278.1 941.3h0"/>
<path stroke="#bcbddc" d="M277.0 945.8h0M262.8 953.7h0M267.5 969.5h0M265.6 949.0h0M294.6 978.0h0M278.0 965.9h0M268.5 959.8h0M246.0 969.6h0M275.4 978.0h0"/>
<path stroke="#ef3b2c" d="M276.4 961.3h0M256.7 963.5h0M286.9 924.1h0M262.5 966.8h0M276.0 944.8h0M253.5 940.9h0"/>
<path stroke="#74c476" d="M297.4 919.8h0M279.2 968.5h0M254.4 956.2h0M256.7 933.5h0M270.0 963.1h0M253.0 937.1h0M274.2 928.5h0M264.7 970.8h0"/>
<path stroke="#a50f15" d="M272.8 948.0h0"/>
<path stroke="#41ab5d" d="M275.9 952.0h0"/>
<path stroke="#fcbba1" d="M272.5 946.6h0M247.9 978.5h0M295.4 910.5h0M297.3 920.0h0M279.0 947.6h0M277.9 929.4h0M296.4 975.1h0M253.6 931.8h0M286.3 930.0h0M279.7 959.8h0M257.9 981.9h0M266.0 929.1h0M261.5 954.9h0M290.5 969.6h0M242.8 976.5h0M265.7 927.4h0M246.1 931.6h0M263.1 946.7h0M284.9 928.6h0M267.3 941.0h0M280.6 934.0h0M280.6 965.6h0M272.9 948.3h0M294.1 914.4h0M285.3 972.5h0M277.9 947.8h0M248.0 926.5h0M277.5 947.8h0M251.0 921.8h0M278.7 968.9h0M269.4 945.0h0M259.7 947.8h0M252.3 939.6h0M255.3 922.8h0M270.9 945.5h0M263.6 957.1h0M256.6 927.8h0M250.2 933.5h0M271.2 958.8h0M249.0 965.9h0M281.5 968.5h0M292.7 984.7h0M259.9 931.2h0M257.8 963.8h0M245.8 972.3h0M267.6 956.9h0M284.4 975.7h0M285.3 933.3h0M288.9 920.2h0M288.8 919.1h0M268.4 951.0h0M274.2 962.3h0M245.6 980.1h0M254.9 972.5h0M263.8 937.9h0M249.2 971.0h0M243.8 972.7h0M256.3 922.8h0M276.6 947.3h0M276.1 934.8h0M271.1 949.0h0M277.9 936.1h0M294.8 922.4h0M271.8 953.5h0M289.3 909.8h0M244.9 967.3h0M251.9 923.9h0M268.3 969.4h0M260.6 953.8h0M293.6 981.6h0M269.1 951.3h0M277.4 956.5h0M266.3 939.0h0M267.1 945.3h0M279.4 948.2h0M290.8 914.5h0M255.0 942.8h0M244.5 976.2h0M279.3 947.1h0M251.7 970.7h0M264.6 949.0h0M260.3 949.0h0M269.5 965.0h0M280.7 950.3h0M260.4 948.2h0M280.0 965.5h0M274.3 938.4h0M247.3 924.9h0"/>
<path stroke="#fb6a4a" d="M271.7 948.4h0M302.6 978.7h0M269.9 958.6h0M267.4 929.8h0M257.8 951.2h0M270.0 955.8h0M264.6 961.7h0M267.6 958.6h0M257.0 953.3h0M277.4 952.8h0M267.7 967.4h0M290.6 913.8h0M284.6 925.5h0M274.5 942.5h0M254.5 969.1h0M286.5 962.3h0M290.9 977.5h0"/>
<path stroke="#c7e9c0" d="M265.9 960.3h0M279.5 931.6h0M281.2 930.8h0M272.7 933.6h0M261.4 974.0h0M253.5 939.4h0M299.0 914.6h0M256.4 951.1h0M244.1 979.1h0M289.6 972.6h0M285.4 961.2h0M286.9 972.5h0M281.5 976.8h0M273.0 957.8h0M254.6 932.1h0M276.4 929.2h0M261.2 928.8h0M296.9 982.6h0M274.6 960.1h0M263.1 938.8h0M249.5 977.0h0M246.4 923.6h0M266.0 962.4h0M262.6 952.7h0M271.0 949.1h0M253.4 950.1h0M293.7 970.2h0M289.1 973.9h0"/>
<path stroke="#e3e2f0" d="M298.7 911.2h0M270.6 963.6h0M245.7 980.1h0M273.3 958.8h0M257.5 938.4h0M284.6 942.1h0M277.1 965.6h0M278.8 936.2h0M261.7 958.3h0M270.5 969.5h0M271.8 941.9h0M271.9 960.7h0M263.9 943.0h0M264.2 956.1h0M266.5 952.1h0M274.9 957.6h0"/>
<path stroke="#a1d99b" d="M283.6 959.5h0M276.1 928.2h0M248.5 932.0h0M262.5 951.3h0M264.4 960.8h0"/>
<path stroke="#e5f5e0" d="M248.7 974.0h0M285.2 923.2h0M280.5 966.9h0M276.2 964.3h0M248.6 931.4h0M282.4 932.5h0M263.7 944.7h0M261.6 950.2h0M292.8 916.5h0M284.9 960.2h0M275.4 964.1h0M248.0 966.4h0M244.1 977.4h0M261.4 962.3h0M272.8 966.7h0M276.5 951.1h0M281.3 943.8h0M274.7 957.4h0M260.4 927.7h0M283.1 930.5h0M274.0 948.4h0M260.4 940.0h0M260.1 957.2h0M275.6 943.1h0M260.6 945.9h0M292.9 909.8h0M293.2 912.0h0M250.0 969.5h0M262.1 951.9h0M244.9 976.2h0M302.2 915.5h0M258.7 954.0h0M277.8 947.0h0"/>
<path stroke="#fc9272" d="M273.5 940.9h0M249.5 921.1h0M266.3 953.1h0M291.7 980.3h0M271.5 975.6h0M264.2 950.8h0M261.0 946.6h0M273.4 951.7h0M256.2 927.2h0M279.2 940.3h0M252.2 973.1h0M256.2 936.9h0M246.8 975.4h0M266.3 955.0h0M293.3 972.7h0M258.8 957.2h0M279.4 952.8h0M252.5 975.2h0M273.0 967.8h0M288.8 940.4h0M255.0 927.6h0M270.4 953.1h0M251.3 943.7h0M255.3 935.5h0M295.3 921.5h0M253.5 963.1h0M283.4 920.8h0M290.4 942.8h0M247.5 977.9h0M244.2 974.8h0M259.1 966.7h0M263.3 933.1h0M278.4 953.6h0M286.7 981.8h0M260.4 954.0h0M272.1 963.8h0M292.8 976.7h0M270.3 942.6h0M279.8 943.2h0M250.9 927.0h0M271.7 939.2h0M296.2 968.9h0M248.0 963.9h0M248.1 965.8h0M282.7 935.0h0M260.2 947.0h0M269.6 945.4h0M260.2 962.9h0M248.8 930.3h0M276.6 956.7h0M284.6 970.3h0M285.4 976.5h0M254.3 966.7h0M261.2 953.1h0M271.6 932.6h0M253.5 932.1h0M286.8 929.1h0M288.0 926.9h0M251.2 970.9h0M280.0 953.9h0M254.6 977.2h0M258.5 954.5h0M264.0 953.1h0M279.5 975.9h0M252.8 919.6h0M292.2 983.5h0M274.5 948.2h0M269.0 958.2h0M249.2 922.0h0M269.4 950.3h0"/>
<path stroke="#fee0d2" d="M253.0 920.5h0M294.2 981.2h0M243.3 969.8h0M268.3 950.1h0M302.6 915.4h0M290.5 912.7h0M298.6 972.8h0M260.7 964.4h0M254.3 963.3h0M258.5 953.5h0M267.5 947.6h0M269.4 951.0h0M250.9 968.4h0M256.8 932.8h0M288.3 934.9h0M267.6 962.2h0M282.0 960.7h0M263.3 943.1h0M285.8 931.8h0M284.9 973.3h0M280.5 954.1h0M249.7 927.0h0M252.1 981.3h0M261.6 950.5h0M289.3 928.0h0M252.3 916.7h0M301.3 916.7h0M300.2 913.9h0M288.2 973.7h0M278.7 956.1h0M261.2 961.0h0M285.0 964.0h0M253.7 929.3h0M271.4 954.7h0M261.7 934.7h0M299.5 979.4h0M270.0 945.5h0M255.5 934.6h0M273.3 953.1h0M269.3 938.8h0M262.9 940.7h0M270.1 962.4h0M266.9 941.4h0M265.8 964.1h0M247.2 969.7h0M265.5 927.2h0M259.4 952.1h0M297.1 984.7h0M247.2 924.1h0M253.5 968.9h0M247.3 983.2h0"/>
<path stroke="#cfcde6" d="M255.2 924.7h0M288.6 924.1h0M288.0 970.8h0M263.7 949.2h0M272.8 962.8h0M287.7 913.6h0M293.5 915.7h0M278.7 935.3h0M284.6 965.1h0M258.2 934.1h0M276.7 949.6h0M271.4 945.8h0M274.7 926.4h0M263.5 958.3h0M269.7 967.8h0M257.7 957.5h0"/>
<path stroke="#74c476" d="M294.1 930.3h0M268.9 949.9h0M242.5 971.9h0M282.2 938.5h0M275.3 946.6h0M265.9 945.9h0"/>
<path stroke="#bcbddc" d="M302.3 921.5h0M264.7 944.1h0M283.5 960.2h0M291.7 919.6h0M260.7 957.1h0M264.2 966.0h0M246.9 961.6h0M248.2 969.7h0M267.4 934.9h0M244.5 978.2h0M251.6 923.0h0M276.7 937.7h0M271.0 968.1h0"/>
<path stroke="#c7e9c0" d="M259.9 931.4h0M243.3 966.5h0M260.2 973.8h0M261.6 941.5h0M280.6 935.9h0M273.7 958.5h0M269.1 961.3h0M248.4 975.4h0M269.4 940.4h0M240.0 970.4h0M292.6 915.9h0M246.4 966.3h0M282.6 927.5h0M294.3 979.1h0M259.4 939.6h0M278.4 959.5h0M277.3 942.8h0M256.4 936.3h0M278.6 933.0h0M278.9 961.5h0M284.5 963.3h0M260.4 958.1h0M254.9 963.3h0M259.2 959.3h0M266.2 955.0h0M271.8 943.5h0M267.2 953.1h0M249.3 921.5h0M264.9 945.6h0M290.1 917.0h0M267.9 949.0h0M280.1 939.5h0M290.9 914.8h0M272.7 939.4h0M265.5 943.7h0M262.7 928.0h0"/>
<path stroke="#fc9272" d="M271.1 946.8h0M292.7 916.5h0M272.0 965.5h0M271.1 949.8h0M244.1 967.2h0M271.2 960.4h0M261.8 956.1h0M244.1 975.4h0M245.7 980.0h0M255.0 929.7h0M285.4 927.7h0M268.3 951.6h0M254.0 931.2h0M298.7 983.4h0M262.0 960.9h0M294.3 912.9h0M252.1 970.1h0M276.1 938.0h0M245.9 979.7h0M252.6 963.6h0M289.9 921.5h0M283.0 950.8h0M262.3 930.5h0M277.4 951.0h0M267.0 921.9h0M301.0 917.2h0M263.3 959.6h0M272.8 945.8h0M273.7 947.2h0M271.1 950.7h0M263.2 950.2h0M293.9 918.3h0M243.6 972.7h0M270.0 956.7h0M276.0 959.2h0M245.3 977.3h0M278.3 966.5h0M281.9 938.6h0M272.0 950.9h0M286.2 967.8h0M299.0 979.6h0M261.3 938.6h0M254.4 922.9h0M254.8 927.6h0M262.3 955.1h0M274.4 955.2h0M246.7 977.3h0M264.7 953.5h0M271.6 953.2h0M253.2 922.1h0M258.4 935.4h0M241.2 975.6h0M279.5 959.5h0M258.5 968.2h0M272.3 954.8h0M263.6 951.1h0M262.2 933.8h0M269.9 955.1h0M288.6 919.3h0M248.2 969.5h0M259.1 945.8h0M253.6 970.9h0M272.1 954.8h0M259.6 930.6h0M270.6 950.3h0M265.7 962.3h0M299.2 913.9h0M257.4 952.8h0"/>
<path stroke="#fb6a4a" d="M270.0 963.8h0M271.0 946.6h0M293.1 911.4h0M281.1 956.0h0M287.9 977.0h0M259.4 926.4h0M255.7 930.6h0M252.8 966.7h0M249.3 926.1h0M259.1 949.7h0M248.3 973.8h0M263.0 948.2h0M281.2 958.2h0M287.7 924.5h0M244.0 975.0h0M248.1 970.3h0"/>
<path stroke="#ef3b2c" d="M259.4 930.9h0M283.5 944.6h0M261.4 954.7h0M273.3 930.9h0"/>
<path stroke="#fee0d2" d="M251.3 964.6h0M276.5 946.7h0M271.4 940.8h0M247.5 972.8h0M255.6 962.4h0M248.3 963.9h0M279.9 957.5h0M280.6 931.8h0M257.1 963.6h0M252.4 930.2h0M274.1 951.6h0M257.3 949.9h0M270.4 945.8h0M264.4 946.0h0M238.9 972.3h0M279.8 933.9h0M289.9 969.9h0M265.4 970.9h0M278.8 957.9h0M287.1 935.6h0M276.4 958.0h0M285.2 950.5h0M270.4 947.7h0M293.6 919.8h0M273.7 939.1h0M257.3 947.2h0M256.4 928.4h0M258.3 924.0h0M268.3 946.5h0M280.1 959.9h0M293.5 928.6h0M254.9 928.6h0M263.7 954.9h0M267.0 944.7h0M269.8 950.9h0M272.5 964.1h0M296.5 926.3h0M257.1 930.2h0"/>
<path stroke="#fcbba1" d="M282.9 935.4h0M268.4 936.4h0M264.5 968.1h0M261.9 965.4h0M275.2 942.4h0M251.3 925.8h0M256.9 967.0h0M277.7 959.7h0M291.2 926.4h0M252.3 973.5h0M256.8 945.4h0M293.5 982.0h0M273.0 943.2h0M291.0 972.5h0M261.8 942.5h0M297.3 979.9h0M281.2 957.7h0M266.0 961.6h0M267.1 962.3h0M252.6 927.8h0M269.7 954.1h0M263.8 938.7h0M252.7 928.0h0M256.5 931.0h0M262.2 966.1h0M277.1 951.8h0M291.6 938.0h0M299.9 915.2h0M257.0 926.9h0M275.0 950.7h0M287.9 917.7h0M248.0 981.9h0M245.9 972.9h0M265.9 940.9h0M279.7 935.4h0M261.9 952.5h0M263.4 941.3h0M292.8 917.2h0M285.1 945.0h0M262.0 947.5h0M248.4 960.6h0M296.1 911.7h0M288.6 971.6h0M294.0 917.3h0M255.8 941.6h0M276.6 944.6h0M248.9 977.0h0M267.2 934.7h0M271.4 946.1h0M283.7 933.0h0M279.3 961.4h0M289.8 917.5h0M288.1 966.9h0M263.1 945.9h0M262.5 963.5h0M251.7 965.0h0M273.6 969.0h0M257.9 968.9h0M254.8 933.5h0M295.8 919.5h0M275.0 945.3h0M295.4 979.1h0M285.3 972.6h0M290.6 973.7h0M277.8 960.0h0M289.0 981.8h0M272.5 939.4h0M269.2 954.3h0M272.1 936.2h0M278.3 966.9h0M278.0 961.5h0M282.1 967.1h0M278.8 949.2h0M254.8 937.2h0M294.8 970.0h0M264.6 964.2h0M253.2 960.4h0M254.6 924.3h0M290.1 931.6h0M276.0 941.5h0M279.8 942.8h0M262.5 945.0h0M297.9 976.7h0M259.6 928.2h0M247.9 981.9h0M293.1 982.8h0M264.7 955.0h0M257.7 930.9h0M290.6 933.2h0M279.7 942.1h0M246.6 967.3h0M288.9 970.6h0M280.4 963.3h0M280.3 916.6h0"/>
<path stroke="#bcbddc" d="M271.3 972.0h0M278.4 958.5h0M275.4 960.4h0M291.6 938.6h0M257.3 934.4h0M267.2 927.9h0M256.8 966.6h0"/>
<path stroke="#e5f5e0" d="M257.9 965.1h0M261.6 946.2h0M261.1 926.0h0M276.5 952.2h0M261.3 958.4h0M268.8 954.0h0M253.4 929.0h0M275.0 963.9h0M242.5 977.3h0M281.0 970.2h0M278.6 933.2h0M292.9 974.4h0M290.9 918.8h0M247.7 979.7h0M286.0 921.9h0M273.2 953.6h0M250.8 925.0h0M265.8 976.1h0M260.7 951.7h0M255.7 920.5h0M290.5 913.2h0M262.0 929.4h0M280.1 968.7h0M277.7 961.7h0M258.7 957.5h0M267.8 953.0h0M257.1 971.2h0"/>
<path stroke="#41ab5d" d="M290.4 943.7h0M276.9 957.2h0M276.7 968.2h0"/>
<path stroke="#e3e2f0" d="M247.4 961.7h0M285.1 970.9h0M251.5 966.4h0M276.7 929.7h0M268.7 945.6h0M274.0 931.6h0M258.6 936.6h0M280.9 943.0h0M275.4 930.7h0M275.7 958.1h0M281.4 958.7h0M260.6 955.3h0M265.9 965.1h0M301.9 976.4h0M275.1 960.8h0M268.3 957.4h0M251.2 954.3h0"/>
<path stroke="#cfcde6" d="M247.2 971.8h0M254.7 962.3h0M286.5 933.6h0M295.8 984.5h0M262.9 972.3h0M287.4 961.0h0M276.1 954.6h0M259.9 952.0h0M272.7 958.9h0M270.5 944.1h0M292.1 915.6h0M262.9 938.2h0M268.7 949.8h0M283.7 947.6h0M293.5 915.5h0M268.0 937.1h0M286.3 927.4h0M261.1 932.6h0M291.3 925.7h0M261.2 950.8h0M272.1 966.9h0"/>
<path stroke="#a1d99b" d="M259.3 943.2h0M270.5 964.9h0M280.4 962.2h0M277.7 967.4h0M254.3 974.3h0M279.0 936.3h0M246.6 962.3h0"/>
<path stroke="#74c476" d="M265.4 944.1h0M283.0 911.8h0M266.6 958.6h0M266.9 960.3h0M256.0 956.9h0"/>
</g>
<g stroke-width="2.2" stroke-linecap="round" fill="none" opacity="0.92">
<path stroke="#fb6a4a" d="M340.3 931.5h0M325.3 929.5h0M326.5 930.0h0M365.3 922.6h0M328.4 927.4h0M357.2 959.1h0M361.2 928.8h0M368.4 920.2h0M340.6 931.5h0M350.7 948.7h0M341.7 937.3h0M342.6 938.5h0M325.9 920.3h0M321.4 973.9h0M343.7 951.5h0M367.8 920.0h0M349.1 947.3h0M354.6 942.2h0M322.0 971.1h0M370.0 918.1h0M327.2 928.7h0M370.3 916.9h0M333.0 958.8h0M347.4 932.9h0M348.0 954.4h0M367.0 926.4h0M335.2 915.5h0M343.3 956.9h0M345.6 927.7h0M340.1 934.8h0M359.5 937.7h0M348.2 962.6h0M334.4 966.1h0M327.6 929.3h0M363.1 927.6h0M326.2 928.5h0M336.3 937.4h0M354.2 955.1h0M321.5 971.4h0M339.4 939.6h0M358.3 932.2h0M330.6 917.6h0M324.1 928.9h0M364.4 970.0h0M332.7 957.0h0M370.1 919.4h0M346.4 932.6h0M327.8 923.7h0M342.3 936.4h0M336.5 965.5h0M328.4 975.0h0M359.9 936.6h0M336.5 964.7h0M342.4 943.8h0"/>
<path stroke="#ef3b2c" d="M331.7 929.5h0M331.2 932.3h0M348.6 943.6h0M357.2 941.5h0M349.2 932.0h0M350.9 945.3h0M369.7 919.2h0M342.7 955.8h0M330.6 963.0h0M324.6 975.7h0M366.6 929.8h0M346.7 929.4h0M355.4 937.8h0M348.0 933.6h0M365.4 929.8h0M336.3 961.8h0M335.1 930.3h0M357.0 965.7h0M325.9 974.9h0M338.0 939.9h0"/>
<path stroke="#fc9272" d="M344.1 925.9h0M340.7 960.4h0M362.7 966.3h0M321.8 925.8h0M356.9 931.7h0M335.8 955.7h0M349.2 943.0h0M352.1 935.6h0M362.9 931.7h0M355.0 959.7h0M365.5 913.4h0M367.6 917.3h0M324.0 969.7h0M332.7 940.5h0M355.2 938.7h0M324.4 921.4h0M338.7 954.8h0M350.0 937.6h0M332.1 978.6h0M331.2 928.8h0M326.7 934.7h0M322.7 928.1h0M344.4 943.7h0M331.5 930.7h0M323.5 929.0h0M337.3 960.7h0M342.4 930.2h0M340.8 932.3h0M344.5 945.8h0M331.5 935.7h0M361.3 926.6h0M360.2 958.1h0M355.1 935.1h0M364.3 925.4h0M344.9 937.4h0M339.6 947.3h0M352.2 946.0h0M337.1 959.8h0M323.9 933.3h0M355.5 951.1h0M326.6 963.5h0M347.1 930.4h0M354.0 961.2h0M342.5 946.1h0"/>
<path stroke="#fcbba1" d="M357.2 959.8h0M331.7 931.1h0M357.8 932.0h0M349.2 941.5h0M357.6 929.0h0M330.8 924.9h0M368.3 962.7h0M342.6 949.6h0M359.4 962.1h0M340.6 936.2h0M339.3 948.2h0M324.5 925.5h0M333.0 969.5h0M356.4 939.6h0M371.2 921.8h0M340.9 941.7h0M354.0 941.0h0"/>
<path stroke="#9e9ac8" d="M339.9 935.7h0M324.9 971.2h0M328.8 974.7h0M353.4 952.9h0M327.7 971.2h0M373.3 925.5h0"/>
<path stroke="#e5f5e0" d="M338.0 933.3h0M333.8 940.1h0"/>
<path stroke="#cfcde6" d="M337.2 963.8h0M332.5 966.3h0M341.6 959.1h0M332.0 943.6h0M325.1 977.0h0M322.9 976.2h0M335.6 929.5h0M359.6 933.9h0"/>
<path stroke="#bcbddc" d="M325.7 974.3h0M342.7 950.4h0M333.6 965.9h0M348.1 952.9h0M341.9 933.3h0"/>
<path stroke="#6a51a3" d="M355.3 955.4h0"/>
<path stroke="#c7e9c0" d="M334.6 969.0h0"/>
<path stroke="#fcbba1" d="M324.3 971.5h0M347.4 934.2h0M341.5 927.6h0M348.0 929.8h0M330.4 932.0h0M344.5 940.3h0M361.7 925.6h0M350.5 936.0h0M368.2 931.0h0M325.1 918.8h0M343.9 934.5h0M349.6 950.8h0M353.2 956.1h0M365.7 929.5h0M339.4 938.7h0M366.7 929.4h0M334.7 928.6h0M367.1 914.4h0M321.6 923.3h0M347.9 944.5h0M352.0 936.2h0"/>
<path stroke="#fb6a4a" d="M330.7 958.9h0M340.9 941.0h0M338.8 933.5h0M331.8 952.0h0M337.6 955.5h0M340.2 952.1h0M350.4 947.5h0M340.1 934.1h0M325.6 929.9h0M364.8 930.5h0M337.6 940.6h0M358.3 940.0h0M341.0 961.4h0M345.6 923.6h0M349.7 947.6h0M343.0 933.8h0M318.2 968.2h0M332.6 938.5h0M332.1 970.0h0M346.0 945.0h0M332.1 971.5h0M350.2 944.0h0M374.2 920.8h0M339.3 955.8h0M335.4 942.0h0M354.9 924.8h0M350.8 945.5h0M359.2 968.8h0M346.3 958.8h0M341.0 943.6h0M328.1 978.6h0M357.0 934.7h0M332.4 930.6h0M335.1 966.4h0M327.4 930.3h0M335.6 957.2h0M330.4 965.6h0M352.4 940.8h0M338.3 953.0h0M365.0 966.0h0M330.8 921.8h0M327.1 930.7h0M351.5 944.0h0M337.5 935.4h0M337.1 929.5h0M369.6 918.4h0M328.7 919.3h0M330.0 921.7h0M337.1 955.4h0M340.0 938.3h0M329.0 963.4h0"/>
<path stroke="#fc9272" d="M341.8 940.8h0M326.1 975.8h0M351.3 946.3h0M345.5 938.9h0M327.8 949.7h0M323.5 923.3h0M358.1 937.6h0M326.5 968.0h0M354.7 931.7h0M345.5 958.5h0M317.9 967.1h0M335.3 971.3h0M370.1 920.4h0M334.5 966.0h0M341.0 933.2h0M327.9 970.5h0M340.1 931.9h0M323.0 976.1h0M323.7 966.2h0M353.4 946.4h0M361.9 935.3h0M370.6 917.9h0M329.3 917.9h0M369.0 920.0h0M325.7 925.8h0M340.0 932.9h0M335.9 942.2h0M344.1 928.0h0M327.4 973.3h0M331.7 935.4h0M331.6 935.0h0M371.1 916.6h0M341.4 941.3h0M338.8 932.7h0M367.9 918.9h0M362.9 926.1h0M343.1 957.6h0M324.7 919.8h0M328.8 926.9h0"/>
<path stroke="#9e9ac8" d="M343.2 947.7h0M324.6 925.7h0M332.4 963.6h0M329.0 964.8h0M329.5 919.0h0M329.0 953.5h0M321.5 971.9h0"/>
<path stroke="#c7e9c0" d="M329.6 915.8h0M320.3 969.4h0M344.6 924.1h0"/>
<path stroke="#cfcde6" d="M332.6 960.8h0M339.6 963.3h0M327.4 968.4h0M343.5 955.6h0M351.6 960.3h0M323.2 974.2h0M342.1 952.2h0M334.2 961.0h0"/>
<path stroke="#ef3b2c" d="M364.9 928.0h0M337.9 948.0h0M346.1 931.3h0M335.8 937.0h0M364.7 925.8h0M339.2 947.8h0M364.7 925.9h0M359.7 931.0h0M330.9 933.3h0M328.4 939.1h0M353.0 932.5h0M359.3 962.3h0M360.9 934.9h0M365.5 922.5h0M360.2 958.6h0M324.5 928.9h0"/>
<path stroke="#a1d99b" d="M330.0 935.1h0M339.9 951.9h0M320.7 933.1h0"/>
<path stroke="#bcbddc" d="M364.9 919.7h0M331.7 963.9h0M331.5 961.4h0M324.3 976.0h0M329.6 922.5h0"/>
<path stroke="#cb181d" d="M362.1 928.4h0M334.7 936.4h0M350.2 934.1h0"/>
<path stroke="#a50f15" d="M354.3 957.7h0M329.4 924.7h0"/>
<path stroke="#fb6a4a" d="M342.9 943.1h0M347.7 933.3h0M351.3 954.7h0M364.5 915.4h0M361.2 927.7h0M371.8 916.8h0M321.4 966.6h0M358.5 961.3h0M334.7 956.4h0M365.4 931.4h0M337.8 954.5h0M332.1 940.9h0M353.6 942.3h0M348.2 942.6h0M324.4 925.7h0M333.9 961.0h0M361.4 927.8h0M339.1 928.9h0M342.8 937.7h0M326.7 917.2h0M353.5 955.3h0M346.2 927.8h0M335.7 933.9h0M322.8 928.9h0M347.9 931.0h0M344.2 942.4h0M368.2 919.2h0M343.9 944.9h0M339.9 946.5h0M348.3 932.7h0M350.6 949.7h0M339.3 931.7h0M352.4 936.3h0M341.9 955.9h0M323.2 924.6h0M364.0 931.1h0M367.5 920.1h0M334.2 926.8h0M333.0 929.3h0M343.4 940.4h0M351.1 950.4h0M349.1 948.4h0M344.2 957.9h0M365.0 965.0h0M347.0 926.9h0M367.0 931.6h0M346.3 943.9h0M324.0 921.6h0M354.9 954.4h0M324.0 971.5h0M325.9 969.6h0M365.3 925.6h0M340.7 949.9h0M341.3 932.8h0M358.6 958.0h0M362.5 924.0h0M351.9 950.4h0M327.2 927.6h0"/>
<path stroke="#fcbba1" d="M350.1 949.7h0M339.1 933.3h0M354.2 944.5h0M335.8 960.6h0M344.3 952.0h0M335.6 966.4h0M340.5 928.4h0M338.3 932.8h0M371.5 920.1h0M339.4 933.3h0M334.7 960.3h0M323.2 969.1h0M361.8 963.6h0M348.4 945.8h0M366.9 916.2h0M335.1 933.9h0M329.9 972.2h0"/>
<path stroke="#ef3b2c" d="M362.2 966.1h0M370.3 918.4h0M329.6 924.8h0M348.5 940.1h0M342.5 942.0h0M345.0 944.5h0M336.3 947.8h0M344.5 931.9h0M342.2 937.1h0M326.2 938.8h0M344.0 948.7h0M335.4 942.1h0M364.3 934.0h0M371.1 915.8h0M349.8 942.3h0M326.5 968.5h0M337.8 927.4h0M334.7 932.7h0M346.2 956.2h0M353.0 944.8h0M348.6 954.2h0M357.7 962.3h0M351.5 935.5h0"/>
<path stroke="#cfcde6" d="M335.8 933.5h0M370.1 919.0h0M324.0 970.3h0M333.0 936.3h0M340.7 952.0h0M329.0 964.5h0M339.7 943.4h0M333.3 966.6h0M356.2 928.9h0"/>
<path stroke="#fc9272" d="M366.3 922.0h0M352.8 943.7h0M361.8 968.9h0M333.9 923.1h0M363.5 932.3h0M329.1 970.0h0M354.4 951.5h0M338.4 928.5h0M352.6 947.6h0M332.2 928.7h0M357.6 961.7h0M333.0 930.4h0M329.3 970.4h0M341.2 927.8h0M331.5 923.1h0M336.0 961.9h0M357.8 943.2h0M348.6 950.7h0M332.5 957.9h0M358.0 934.1h0M352.4 951.9h0M350.4 938.7h0M363.3 967.9h0M343.1 938.0h0M354.5 959.0h0M331.2 919.1h0M324.2 926.2h0M343.5 961.7h0M356.5 959.1h0M327.2 930.6h0M353.7 930.3h0M353.0 937.0h0M339.6 938.1h0M332.4 962.2h0M369.2 917.5h0M334.4 925.7h0M334.2 953.9h0M325.8 976.9h0M329.6 963.0h0"/>
<path stroke="#bcbddc" d="M328.0 976.2h0M334.7 963.7h0M334.4 964.5h0M328.3 971.4h0M332.0 968.3h0M327.5 968.3h0M328.6 971.6h0M346.3 955.3h0M334.1 960.4h0"/>
<path stroke="#a1d99b" d="M347.1 957.5h0"/>
<path stroke="#9e9ac8" d="M359.2 929.2h0M348.9 950.8h0"/>
<path stroke="#bcbddc" d="M342.7 947.0h0M326.1 975.9h0M339.3 928.4h0M329.1 971.3h0M352.7 941.8h0M331.8 924.8h0M330.8 965.3h0M358.2 930.0h0"/>
<path stroke="#fb6a4a" d="M346.1 942.6h0M323.3 977.4h0M366.1 925.8h0M364.4 970.2h0M354.3 928.3h0M341.6 959.6h0M337.3 928.1h0M351.6 955.6h0M358.3 936.7h0M349.3 951.7h0M363.0 927.2h0M329.7 939.6h0M364.0 963.4h0M328.1 927.6h0M324.5 922.4h0M335.7 945.1h0M333.5 940.3h0M334.2 936.7h0M362.6 967.3h0M339.1 942.6h0M342.1 949.6h0M365.2 916.3h0M341.6 943.6h0M356.1 956.7h0M339.4 935.0h0M369.4 921.7h0M325.7 919.7h0M346.2 959.3h0M332.1 966.6h0M345.7 944.3h0M336.2 930.9h0M332.6 933.0h0M324.3 938.5h0M343.0 954.1h0M354.4 949.6h0M327.2 918.2h0M352.6 955.6h0M359.3 929.0h0M356.8 961.0h0M347.6 937.6h0M352.0 949.8h0M354.7 944.4h0M352.0 953.6h0M322.9 925.4h0M324.1 975.7h0M331.1 925.1h0M334.8 935.9h0M362.4 928.8h0M325.2 919.4h0M352.4 942.0h0M342.7 944.6h0M362.1 930.1h0M360.2 934.6h0"/>
<path stroke="#fcbba1" d="M373.3 917.9h0M340.8 938.4h0M328.9 927.2h0M338.3 928.9h0M334.5 962.9h0M335.9 929.6h0M348.0 938.0h0M351.3 925.6h0M330.3 932.5h0M368.2 921.4h0M326.5 960.7h0M362.9 933.0h0"/>
<path stroke="#fc9272" d="M365.1 923.3h0M329.2 971.4h0M341.8 930.1h0M358.5 924.4h0M333.6 970.8h0M336.4 936.1h0M360.4 929.9h0M342.3 947.6h0M350.2 947.8h0M329.8 974.9h0M336.7 957.8h0M339.1 943.7h0M350.5 937.7h0M324.7 925.5h0M337.1 925.9h0M336.0 959.9h0M353.3 948.6h0M341.5 949.1h0M328.7 929.7h0M362.6 928.6h0M338.7 952.1h0M322.0 923.4h0M346.1 936.4h0M346.5 936.5h0M345.3 945.7h0M352.0 933.9h0M347.9 938.3h0M335.7 966.0h0M368.1 917.8h0M364.9 922.0h0M343.4 948.5h0M356.0 961.4h0M362.8 931.7h0M336.1 935.9h0M363.7 919.0h0M341.0 951.9h0M340.9 964.4h0M342.8 958.0h0M361.4 926.1h0M355.8 928.8h0M321.8 924.4h0M322.5 974.9h0M337.2 960.2h0M360.7 961.8h0M324.8 977.3h0M343.9 959.3h0M326.9 923.3h0"/>
<path stroke="#9e9ac8" d="M327.2 971.2h0M324.4 975.4h0M334.6 931.4h0M323.5 975.2h0M344.2 937.9h0M352.1 935.0h0"/>
<path stroke="#ef3b2c" d="M335.1 965.9h0M344.6 943.3h0M339.7 941.4h0M361.2 936.8h0M339.9 938.1h0M346.6 938.2h0M341.7 933.5h0M357.9 950.8h0M342.6 928.3h0M337.5 948.8h0M327.8 923.4h0M338.5 969.8h0M330.2 924.6h0M338.7 933.6h0M339.4 946.4h0M347.0 951.3h0M362.9 969.7h0"/>
<path stroke="#cfcde6" d="M326.9 970.1h0M324.0 974.4h0M346.8 918.6h0M330.0 934.8h0M331.9 927.6h0M332.3 966.1h0M324.3 973.5h0M326.5 968.3h0M335.3 961.5h0"/>
<path stroke="#6a51a3" d="M322.3 910.7h0"/>
<path stroke="#c7e9c0" d="M332.4 963.2h0M365.6 961.6h0"/>
<path stroke="#e5f5e0" d="M344.0 937.2h0"/>
<path stroke="#a1d99b" d="M341.2 968.7h0M368.7 914.7h0"/>
<path stroke="#fb6a4a" d="M331.5 942.6h0M367.1 918.7h0M334.8 931.8h0M351.2 954.6h0M356.3 942.9h0M336.9 941.2h0M360.9 933.0h0M343.3 933.1h0M329.3 922.1h0M347.3 940.4h0M355.8 935.7h0M367.4 927.1h0M334.6 955.2h0M336.2 941.2h0M329.7 921.6h0M354.6 940.4h0M329.3 972.5h0M341.2 966.7h0M342.9 944.1h0M344.7 942.4h0M352.4 931.5h0M348.8 953.6h0M369.2 927.3h0M332.6 929.3h0M363.8 925.8h0M322.7 970.2h0M342.1 967.0h0M325.7 918.2h0M337.6 953.3h0M353.9 956.3h0M339.2 939.7h0M324.2 968.6h0M335.4 970.7h0M364.6 929.3h0M348.7 952.8h0M355.6 956.5h0M341.9 943.4h0M338.1 945.2h0M367.2 918.9h0M362.4 944.0h0M330.5 950.5h0M329.9 936.5h0M348.2 936.5h0M338.6 931.4h0M354.7 943.4h0M365.6 927.0h0M364.8 928.7h0M340.4 934.7h0M333.6 933.6h0"/>
<path stroke="#fc9272" d="M343.8 940.4h0M327.0 978.2h0M339.6 929.2h0M345.5 939.5h0M333.7 932.2h0M339.1 955.0h0M351.2 951.5h0M370.8 918.3h0M344.1 931.5h0M350.6 942.5h0M330.2 974.0h0M352.4 938.5h0M324.7 933.0h0M330.0 964.4h0M339.1 956.3h0M359.9 934.4h0M357.7 935.2h0M358.0 926.4h0M323.8 971.5h0M346.8 946.9h0M339.4 948.2h0M329.0 919.7h0M370.6 916.8h0M331.8 931.2h0M347.5 938.1h0M364.4 917.9h0M325.0 973.2h0M341.0 923.9h0M336.5 927.5h0M335.0 945.9h0M328.7 969.4h0M346.7 940.7h0M341.6 932.3h0M370.4 917.1h0M345.8 945.5h0M328.8 972.8h0M363.4 936.8h0M350.8 946.6h0M347.8 945.5h0M328.4 963.8h0M348.4 935.2h0M326.6 925.7h0M336.9 969.0h0M336.0 961.8h0M337.3 935.8h0M336.0 938.3h0"/>
<path stroke="#ef3b2c" d="M345.0 925.9h0M367.2 927.6h0M344.3 950.8h0M344.7 936.5h0M327.9 943.0h0M358.2 938.3h0M361.5 922.1h0M329.7 929.6h0M342.7 950.9h0M322.6 967.4h0M334.0 925.5h0M342.9 949.5h0M337.1 965.0h0M371.1 917.6h0M365.5 916.9h0M337.0 934.2h0M363.4 932.3h0M333.1 959.2h0M341.1 938.0h0"/>
<path stroke="#fcbba1" d="M361.1 928.4h0M347.1 942.5h0M355.5 918.5h0M332.4 938.4h0M342.8 948.7h0M369.3 922.4h0M338.1 936.8h0M355.9 934.6h0M359.9 963.7h0M331.0 933.9h0M351.1 937.9h0M352.6 944.0h0M349.5 945.3h0M329.3 927.0h0M336.4 936.4h0M356.2 933.2h0M342.8 963.2h0M363.5 928.4h0M338.3 958.4h0M325.7 920.8h0M325.6 927.3h0"/>
<path stroke="#bcbddc" d="M323.5 977.5h0M328.9 973.2h0M350.4 951.3h0M323.9 926.9h0"/>
<path stroke="#9e9ac8" d="M325.1 969.4h0M346.9 953.0h0M341.7 925.9h0M329.1 969.3h0M329.9 964.7h0M335.5 966.7h0"/>
<path stroke="#cb181d" d="M339.4 925.0h0M334.8 937.8h0M368.4 920.8h0"/>
<path stroke="#e5f5e0" d="M347.2 943.0h0"/>
<path stroke="#cfcde6" d="M345.1 924.0h0M330.2 971.3h0M333.9 952.9h0M330.0 969.9h0M351.2 936.3h0M348.4 931.2h0M344.0 929.8h0M333.4 961.1h0"/>
<path stroke="#a1d99b" d="M360.4 934.7h0"/>
<path stroke="#fcbba1" d="M359.4 928.7h0M358.3 960.7h0M367.2 920.0h0M362.5 966.0h0M332.9 929.0h0M365.1 936.0h0M346.6 942.9h0M366.2 928.5h0M344.5 956.3h0M349.9 937.9h0M370.4 916.6h0M338.4 946.7h0M339.9 935.5h0M340.2 962.6h0M322.8 977.8h0M338.1 940.8h0M344.9 938.5h0M350.9 950.0h0M357.1 934.4h0M352.6 939.9h0M362.1 930.4h0M346.0 939.7h0M331.0 919.7h0"/>
<path stroke="#fc9272" d="M328.2 970.2h0M357.8 939.7h0M343.1 940.0h0M327.0 920.0h0M336.3 926.8h0M336.5 963.9h0M368.2 921.7h0M339.3 952.5h0M352.2 937.2h0M341.3 955.8h0M346.1 939.9h0M371.3 923.9h0M349.6 954.5h0M331.0 936.7h0M341.2 930.3h0M327.6 967.1h0M356.4 943.0h0M357.1 943.2h0M360.3 943.0h0M326.7 969.3h0M362.9 924.2h0M344.8 932.4h0M336.2 964.3h0M332.7 956.1h0M338.0 935.8h0M332.8 924.3h0M364.9 969.4h0M342.1 944.1h0M363.3 934.8h0M342.4 949.1h0M347.6 953.8h0M349.7 940.2h0M352.8 943.3h0M325.3 974.4h0M368.9 923.8h0M348.5 939.8h0M334.3 922.4h0M354.3 958.7h0M337.6 925.9h0M364.3 927.8h0"/>
<path stroke="#fb6a4a" d="M324.0 978.0h0M335.5 967.4h0M333.2 931.4h0M349.8 950.5h0M328.5 957.3h0M344.3 941.0h0M318.9 973.6h0M361.9 964.8h0M333.2 963.4h0M346.3 939.4h0M355.4 960.2h0M338.8 956.5h0M364.9 932.3h0M334.3 929.9h0M340.2 931.6h0M355.6 962.6h0M334.4 964.3h0M344.5 962.6h0M365.7 926.7h0M359.0 934.7h0M366.5 925.5h0M362.4 964.1h0M326.0 971.7h0M336.8 944.7h0M333.7 939.7h0M355.4 964.6h0M339.5 961.6h0M352.1 917.5h0M340.1 948.5h0M361.6 938.3h0M323.0 923.4h0M349.5 924.0h0M336.8 958.6h0M347.6 943.5h0M339.4 935.4h0M359.3 931.1h0M361.9 929.1h0M347.0 928.8h0M335.3 926.5h0M348.7 934.7h0M360.5 962.8h0M349.0 955.1h0M336.4 957.8h0M331.7 963.3h0M337.2 940.4h0M339.6 947.5h0"/>
<path stroke="#e5f5e0" d="M362.3 933.2h0"/>
<path stroke="#cfcde6" d="M363.3 937.0h0M338.4 959.4h0M332.3 944.7h0M336.3 966.7h0M328.0 968.7h0M329.3 928.3h0M335.5 957.5h0M329.1 970.6h0M324.9 974.7h0"/>
<path stroke="#bcbddc" d="M331.3 966.8h0M354.7 927.3h0M329.1 969.4h0M329.5 965.3h0M330.9 975.8h0M338.0 941.5h0M328.0 975.5h0M333.0 952.4h0M322.7 978.0h0"/>
<path stroke="#ef3b2c" d="M351.9 960.1h0M352.8 938.2h0M336.1 932.9h0M366.2 963.9h0M325.6 934.1h0M339.6 931.9h0M337.5 950.4h0M330.2 943.4h0M350.5 950.0h0M352.9 955.2h0M355.1 938.4h0M367.5 924.4h0M349.9 940.0h0M324.8 968.4h0M332.1 934.5h0M343.8 945.5h0M331.2 938.5h0M355.5 932.0h0M337.8 933.9h0M341.2 949.8h0M327.6 920.3h0M347.9 936.9h0M335.8 958.8h0M339.5 937.2h0"/>
<path stroke="#c7e9c0" d="M365.4 915.3h0M331.9 928.2h0M322.1 975.4h0"/>
<path stroke="#9e9ac8" d="M328.1 968.5h0M323.5 969.0h0"/>
<path stroke="#cb181d" d="M355.8 939.6h0"/>
<path stroke="#fcbba1" d="M364.5 966.9h0M341.2 933.5h0M352.1 940.9h0M333.3 934.5h0M344.6 958.8h0M347.2 950.1h0M369.0 918.7h0M324.6 980.7h0M327.7 963.4h0M330.9 934.4h0M329.4 920.6h0M346.8 936.6h0M326.8 917.6h0M348.2 942.1h0M354.7 959.5h0M357.0 936.2h0M350.9 935.2h0"/>
<path stroke="#fb6a4a" d="M338.1 958.9h0M355.1 942.1h0M371.9 917.2h0M339.5 934.2h0M337.6 959.0h0M322.2 927.7h0M337.6 964.3h0M335.2 933.3h0M363.2 936.7h0M321.9 965.6h0M330.8 930.1h0M349.2 952.3h0M335.9 927.1h0M346.9 942.3h0M348.2 946.5h0M338.2 955.5h0M326.5 973.3h0M321.1 972.3h0M330.8 968.5h0M340.1 959.2h0M352.9 945.9h0M327.2 918.2h0M337.4 933.3h0M341.6 949.0h0M326.9 931.6h0M342.7 947.1h0M337.0 929.8h0M364.8 930.6h0M356.2 962.6h0M347.5 943.2h0M371.1 918.2h0M367.4 931.7h0M355.5 951.2h0M341.8 937.3h0M361.2 959.0h0M368.8 920.1h0M336.8 956.7h0M331.5 969.5h0M335.6 941.3h0M327.0 930.3h0M350.3 933.9h0M369.8 927.1h0M337.4 935.5h0M375.3 920.2h0M340.1 934.7h0M370.2 958.6h0M353.1 953.9h0M352.2 944.0h0M348.4 926.8h0M343.2 959.4h0M334.0 939.3h0M356.0 945.5h0M369.7 920.3h0M343.5 940.0h0M351.6 934.2h0M335.3 940.4h0M334.4 957.8h0M326.2 924.5h0M333.0 939.0h0M327.0 965.7h0M323.5 973.4h0M356.3 937.5h0M345.7 932.9h0"/>
<path stroke="#ef3b2c" d="M345.3 930.2h0M325.9 967.4h0M327.8 925.1h0M359.0 930.0h0M368.2 917.0h0M326.9 920.7h0M337.7 944.6h0M323.8 926.0h0M365.9 922.9h0M334.0 924.1h0M334.1 928.4h0M368.4 926.1h0M341.0 959.7h0M335.4 933.1h0M327.2 940.9h0M362.9 933.0h0M348.4 940.3h0M339.6 934.4h0M328.2 926.4h0"/>
<path stroke="#fc9272" d="M342.4 935.5h0M336.5 931.3h0M324.7 922.5h0M362.6 928.1h0M345.2 933.8h0M334.2 964.9h0M325.8 927.9h0M372.1 920.4h0M324.6 973.2h0M368.6 919.5h0M336.5 928.5h0M343.5 958.1h0M333.2 945.0h0M332.6 947.2h0M361.0 928.6h0M346.4 933.7h0M344.5 933.1h0M365.3 928.8h0M337.3 933.4h0M334.1 926.9h0M353.8 961.1h0M340.0 942.6h0M333.8 964.2h0M338.6 932.5h0M355.1 940.7h0M371.9 920.2h0M351.6 936.0h0M364.2 929.9h0M324.6 922.6h0M348.0 953.4h0M342.6 947.1h0M345.6 942.6h0M343.4 936.1h0M342.7 947.1h0M354.5 957.6h0M337.9 937.2h0M342.1 936.8h0M363.4 926.5h0M342.4 938.0h0M337.6 933.1h0M335.7 971.9h0M372.6 922.8h0M343.3 945.9h0"/>
<path stroke="#a50f15" d="M349.4 945.3h0"/>
<path stroke="#9e9ac8" d="M323.3 976.2h0M334.0 975.3h0M331.2 915.8h0M324.0 962.0h0M321.1 976.5h0M361.4 964.3h0"/>
<path stroke="#cfcde6" d="M333.6 964.5h0M329.2 975.2h0M330.4 964.4h0"/>
<path stroke="#bcbddc" d="M334.6 959.5h0M335.1 944.3h0M325.2 971.6h0M353.1 941.1h0"/>
<path stroke="#cb181d" d="M349.1 937.7h0"/>
<path stroke="#54278f" d="M318.4 909.9h0"/>
<path stroke="#fb6a4a" d="M361.6 934.4h0M341.6 951.9h0M338.5 954.9h0M342.9 932.3h0M356.4 938.4h0M328.1 932.2h0M348.6 947.1h0M349.1 947.5h0M371.6 919.7h0M370.0 918.2h0M331.8 964.5h0M339.4 919.3h0M355.3 936.9h0M339.1 933.6h0M339.7 950.0h0M324.0 974.0h0M347.9 927.8h0M352.4 948.3h0M332.3 933.1h0M328.5 974.0h0M338.0 945.2h0M356.1 936.7h0M347.6 932.5h0M343.2 954.7h0M364.6 926.0h0M344.8 946.5h0M357.7 931.0h0M347.1 941.2h0M350.3 938.7h0M325.0 968.5h0M334.5 965.6h0M328.8 969.1h0M348.5 944.4h0M338.7 941.1h0M367.2 966.1h0M362.4 929.9h0M358.2 959.2h0M325.7 928.0h0M348.2 945.0h0M332.5 969.9h0M324.1 972.6h0M362.4 925.4h0M334.1 942.4h0M357.2 927.7h0M335.0 942.9h0M348.2 941.6h0M329.5 917.8h0M348.3 931.5h0M366.7 925.7h0M336.5 930.9h0M337.3 934.2h0M361.4 962.3h0M353.9 961.0h0M330.6 930.8h0M325.9 920.7h0M338.0 947.3h0M364.1 928.7h0"/>
<path stroke="#ef3b2c" d="M349.9 919.3h0M347.2 951.5h0M344.7 956.1h0M337.0 936.1h0M343.8 923.9h0M358.5 935.4h0M351.7 930.4h0M367.7 917.8h0M366.7 925.0h0M329.0 933.1h0M326.9 929.7h0M367.0 920.6h0M347.4 954.8h0M366.2 962.7h0M343.0 964.4h0M356.3 957.9h0"/>
<path stroke="#6a51a3" d="M362.2 963.2h0"/>
<path stroke="#fc9272" d="M347.4 942.5h0M341.6 957.8h0M346.4 950.9h0M323.7 928.0h0M353.7 957.5h0M331.5 969.6h0M344.8 940.1h0M352.7 963.6h0M334.3 967.6h0M367.8 918.9h0M330.0 960.5h0M332.6 930.8h0M337.0 945.1h0M327.0 968.9h0M323.8 973.9h0M338.4 939.8h0M343.8 950.0h0M345.6 957.2h0M336.4 932.4h0M338.8 943.0h0M358.2 956.9h0M333.6 935.0h0M347.3 945.8h0M336.7 960.2h0M355.3 945.3h0M350.0 940.2h0M346.2 961.7h0M353.9 943.5h0M348.6 941.7h0M342.3 939.6h0M342.2 955.5h0M355.7 936.9h0M327.7 962.6h0M324.2 972.0h0M329.0 956.1h0M323.5 975.1h0M341.5 937.9h0M355.4 953.4h0M321.1 968.2h0M357.5 943.3h0M342.4 938.2h0M360.3 967.7h0M361.6 925.3h0"/>
<path stroke="#bcbddc" d="M327.0 969.0h0M322.3 966.7h0M336.3 959.3h0M338.9 964.3h0M333.4 956.5h0M321.0 972.9h0"/>
<path stroke="#a50f15" d="M336.7 937.0h0"/>
<path stroke="#fcbba1" d="M339.4 944.9h0M371.0 920.7h0M343.9 945.9h0M347.5 937.0h0M337.3 935.5h0M348.4 937.1h0M319.0 972.6h0M326.7 975.4h0M324.9 976.3h0M332.7 935.7h0M355.0 948.6h0M334.8 944.4h0"/>
<path stroke="#9e9ac8" d="M324.9 972.1h0M329.2 957.8h0M324.3 975.8h0M332.9 962.1h0M329.8 966.8h0M328.3 974.2h0M338.1 954.8h0"/>
<path stroke="#cfcde6" d="M325.8 972.2h0M325.5 967.3h0M334.3 960.7h0M349.8 955.1h0M323.8 964.6h0M361.8 958.5h0M328.2 970.4h0"/>
<path stroke="#c7e9c0" d="M333.7 929.1h0M343.6 932.5h0M327.9 968.3h0"/>
<path stroke="#cb181d" d="M344.3 942.3h0M343.6 940.5h0M363.2 925.0h0M331.6 926.7h0M326.9 918.0h0"/>
<path stroke="#807dba" d="M321.1 911.7h0"/>
</g>
<g stroke-width="2.2" stroke-linecap="round" fill="none" opacity="0.92">
<path stroke="#807dba" d="M438.0 967.9h0M431.8 973.3h0M406.1 970.4h0M426.8 976.8h0M410.4 976.0h0M401.0 976.5h0M426.2 939.8h0M435.3 962.8h0M426.0 976.6h0M417.0 957.7h0M396.1 976.8h0M420.6 943.0h0M430.8 979.2h0M400.1 969.7h0M445.6 978.7h0"/>
<path stroke="#cfcde6" d="M396.6 975.5h0"/>
<path stroke="#bcbddc" d="M443.3 977.9h0M418.8 965.1h0M415.7 954.0h0M413.2 977.2h0M403.0 969.4h0M422.0 950.9h0M395.5 974.3h0M410.4 955.1h0M407.3 974.9h0M405.4 967.5h0M408.5 959.3h0M435.3 969.0h0"/>
<path stroke="#41ab5d" d="M411.7 977.9h0M399.7 973.0h0M401.3 972.6h0M405.4 974.0h0"/>
<path stroke="#e5f5e0" d="M404.2 915.8h0M405.4 924.5h0M399.4 917.7h0"/>
<path stroke="#c7e9c0" d="M409.9 939.7h0M407.5 928.5h0M403.3 923.9h0"/>
<path stroke="#fc9272" d="M404.1 924.9h0M400.5 915.2h0"/>
<path stroke="#ef3b2c" d="M413.0 971.8h0M408.0 929.4h0M403.3 920.7h0M402.6 921.4h0M408.9 979.2h0"/>
<path stroke="#6a51a3" d="M414.1 967.2h0M421.9 959.9h0M415.3 941.7h0M417.2 945.7h0"/>
<path stroke="#fb6a4a" d="M401.8 919.6h0M410.4 932.7h0M409.5 928.0h0"/>
<path stroke="#74c476" d="M401.2 973.9h0M392.7 979.2h0M399.7 974.7h0M415.2 971.4h0M404.1 976.7h0M426.2 961.7h0M410.9 971.9h0"/>
<path stroke="#9e9ac8" d="M421.1 976.2h0M399.2 970.0h0M403.1 977.4h0M433.8 967.0h0M432.6 976.3h0"/>
<path stroke="#a1d99b" d="M422.6 976.3h0"/>
<path stroke="#cfcde6" d="M400.7 971.6h0M392.2 976.6h0M403.4 978.1h0M392.1 971.5h0M399.7 975.1h0"/>
<path stroke="#41ab5d" d="M402.5 975.9h0M415.6 972.1h0M418.0 978.9h0M416.0 968.2h0M410.9 969.5h0"/>
<path stroke="#9e9ac8" d="M402.9 974.9h0M399.6 972.7h0M419.7 960.5h0M404.8 965.5h0M402.1 971.5h0M427.2 970.4h0M433.9 967.3h0M420.0 973.1h0M433.3 966.4h0M403.0 978.6h0M421.1 959.7h0M403.5 974.0h0"/>
<path stroke="#e5f5e0" d="M401.4 920.4h0"/>
<path stroke="#807dba" d="M441.4 976.1h0M413.6 969.6h0M420.8 965.6h0M413.8 979.0h0M420.0 969.4h0M433.1 961.7h0M425.8 956.5h0M401.4 965.3h0M412.0 942.2h0M396.2 972.1h0M406.6 972.4h0M425.4 968.8h0M428.1 970.8h0M409.1 974.8h0M436.3 966.9h0"/>
<path stroke="#a1d99b" d="M412.8 960.2h0M425.3 975.0h0M417.6 969.7h0M409.4 955.5h0M396.8 973.1h0"/>
<path stroke="#bcbddc" d="M400.4 975.4h0M398.9 976.8h0M408.9 974.9h0M420.0 975.2h0M401.8 975.2h0M399.8 980.7h0M404.8 973.2h0"/>
<path stroke="#74c476" d="M409.8 973.3h0M412.6 966.3h0M415.7 959.7h0M407.6 968.3h0M427.3 961.0h0M403.5 976.7h0"/>
<path stroke="#c7e9c0" d="M404.3 921.7h0M412.0 932.3h0"/>
<path stroke="#6a51a3" d="M411.5 954.1h0M397.8 970.9h0M411.7 962.6h0"/>
<path stroke="#ef3b2c" d="M410.9 967.4h0"/>
<path stroke="#fc9272" d="M404.4 926.3h0"/>
<path stroke="#fb6a4a" d="M415.9 962.4h0M410.5 934.4h0"/>
<path stroke="#cfcde6" d="M390.1 970.5h0M398.7 978.4h0M394.8 979.8h0M412.3 978.4h0M399.9 975.7h0M395.2 973.9h0M402.7 974.4h0M400.3 976.1h0"/>
<path stroke="#6a51a3" d="M426.4 974.4h0M419.4 960.7h0M415.2 975.5h0"/>
<path stroke="#9e9ac8" d="M412.7 963.3h0M412.8 975.6h0M406.2 970.4h0M389.2 973.1h0M388.5 974.0h0M391.5 975.8h0M423.4 950.7h0M389.4 977.1h0M400.0 977.3h0"/>
<path stroke="#41ab5d" d="M399.6 972.1h0M415.0 957.1h0M403.1 973.4h0"/>
<path stroke="#c7e9c0" d="M410.6 936.3h0M420.8 944.6h0"/>
<path stroke="#bcbddc" d="M426.5 958.9h0M434.3 964.5h0M405.5 972.9h0M420.9 964.8h0M414.6 971.1h0M404.7 969.6h0M402.8 976.4h0M416.4 970.3h0M402.4 973.7h0M399.0 975.2h0"/>
<path stroke="#238b45" d="M410.0 969.7h0M418.0 971.4h0M398.0 972.6h0"/>
<path stroke="#807dba" d="M419.3 970.9h0M404.4 976.3h0M433.6 965.2h0M421.8 954.6h0M419.4 944.3h0M410.8 954.7h0M425.6 954.7h0M426.8 958.7h0M442.1 976.2h0M407.7 963.3h0"/>
<path stroke="#fcbba1" d="M399.6 911.6h0M400.6 915.5h0"/>
<path stroke="#74c476" d="M387.2 976.1h0M443.5 975.8h0M419.3 970.1h0M429.9 970.6h0M406.2 976.9h0M400.8 967.4h0M426.5 966.5h0M404.6 973.7h0M424.3 976.1h0"/>
<path stroke="#fc9272" d="M410.4 933.3h0M399.6 920.1h0"/>
<path stroke="#ef3b2c" d="M424.3 955.8h0"/>
<path stroke="#a1d99b" d="M404.8 963.4h0"/>
<path stroke="#fb6a4a" d="M403.8 927.9h0M405.5 926.8h0"/>
<path stroke="#9e9ac8" d="M420.7 967.2h0M396.9 972.0h0M437.1 967.3h0M416.3 941.9h0M407.0 966.5h0M425.1 956.2h0M430.5 969.5h0M394.4 972.8h0M420.0 945.0h0M390.1 976.2h0M396.6 978.3h0"/>
<path stroke="#bcbddc" d="M427.5 976.3h0M400.8 976.3h0M415.9 970.6h0M414.4 973.3h0M418.1 965.7h0M431.3 960.0h0M406.3 971.6h0M415.7 956.3h0M403.9 973.5h0M427.4 964.7h0"/>
<path stroke="#238b45" d="M400.4 973.6h0M410.5 972.2h0M419.5 974.1h0"/>
<path stroke="#cfcde6" d="M397.0 976.1h0M399.3 978.0h0M397.5 976.4h0M406.3 972.3h0M394.2 971.7h0M395.9 978.1h0M403.6 973.2h0M404.7 978.8h0"/>
<path stroke="#74c476" d="M424.0 965.3h0M427.9 958.4h0M425.3 952.5h0M442.1 976.4h0M397.2 976.3h0"/>
<path stroke="#6a51a3" d="M421.2 965.8h0M425.7 974.4h0M420.5 952.7h0M420.0 978.5h0M428.1 971.8h0M423.1 958.6h0M412.3 970.6h0"/>
<path stroke="#807dba" d="M420.6 947.0h0M413.7 961.9h0M402.6 974.8h0M392.5 978.5h0M399.4 978.5h0M407.4 967.6h0M400.1 974.3h0M403.5 973.7h0M410.9 971.2h0M409.7 971.6h0"/>
<path stroke="#ef3b2c" d="M399.3 916.2h0M406.7 923.0h0M402.6 924.0h0M412.5 933.8h0"/>
<path stroke="#fb6a4a" d="M399.4 914.1h0M401.7 923.1h0M407.7 931.2h0"/>
<path stroke="#a1d99b" d="M417.5 968.9h0"/>
<path stroke="#fcbba1" d="M400.0 921.4h0"/>
<path stroke="#fc9272" d="M443.3 968.4h0M407.8 929.2h0"/>
<path stroke="#e5f5e0" d="M398.2 915.8h0"/>
<path stroke="#cfcde6" d="M411.7 978.0h0M398.2 971.6h0M404.0 981.5h0M403.2 976.3h0"/>
<path stroke="#9e9ac8" d="M401.0 976.3h0M418.6 965.6h0M408.4 973.2h0M400.8 979.7h0M408.0 970.7h0M394.3 973.8h0M419.0 978.3h0M402.3 973.0h0M401.6 966.6h0M392.8 974.2h0M397.2 976.7h0M393.9 977.7h0"/>
<path stroke="#bcbddc" d="M438.0 973.5h0M429.5 973.9h0M399.7 974.9h0M402.7 966.2h0M414.5 970.3h0"/>
<path stroke="#74c476" d="M401.7 966.2h0M413.6 970.5h0M403.8 968.0h0M426.8 960.2h0M402.3 971.3h0"/>
<path stroke="#6a51a3" d="M411.2 937.6h0M423.6 957.5h0M420.4 969.3h0M402.1 976.6h0M407.5 974.8h0M418.3 966.0h0M413.5 954.9h0"/>
<path stroke="#807dba" d="M400.9 974.1h0M402.0 974.6h0M398.6 971.5h0M419.7 961.6h0M419.2 945.5h0M395.9 976.8h0M405.4 971.7h0M407.6 979.3h0M434.9 971.7h0M410.5 940.4h0M396.5 978.4h0M415.6 961.6h0M445.1 978.0h0M431.8 972.3h0M399.4 974.5h0"/>
<path stroke="#fb6a4a" d="M407.8 931.0h0M397.5 918.1h0M406.8 927.3h0M403.0 924.2h0M405.2 925.2h0"/>
<path stroke="#fc9272" d="M405.3 933.5h0M407.9 927.7h0M398.2 919.3h0M397.7 916.1h0M397.8 919.7h0"/>
<path stroke="#41ab5d" d="M433.4 977.3h0M413.3 954.2h0M403.7 971.8h0M415.6 978.7h0"/>
<path stroke="#238b45" d="M426.0 969.8h0M410.8 974.0h0"/>
<path stroke="#a1d99b" d="M423.3 962.9h0"/>
<path stroke="#9e9ac8" d="M430.9 970.6h0M435.7 921.6h0M406.6 963.3h0M407.3 969.9h0M411.5 940.6h0M417.7 955.2h0M409.9 964.8h0M402.1 965.7h0M429.8 964.5h0M414.8 945.6h0M436.1 978.9h0M415.1 977.4h0M408.9 966.5h0M422.6 978.9h0M416.8 955.5h0M402.7 976.0h0M401.2 975.8h0M422.8 946.7h0"/>
<path stroke="#807dba" d="M420.8 970.5h0M397.4 973.0h0M398.5 976.8h0M423.4 960.6h0M417.1 977.1h0M446.3 979.0h0M421.4 968.4h0M400.8 967.0h0M410.5 969.3h0M423.1 951.8h0M424.0 960.3h0"/>
<path stroke="#bcbddc" d="M414.0 969.1h0M401.6 978.9h0M416.2 975.3h0M404.3 974.9h0M399.6 975.1h0M390.1 973.2h0M400.4 972.8h0M402.5 977.5h0M410.7 977.1h0M394.4 975.8h0"/>
<path stroke="#e5f5e0" d="M410.4 934.1h0"/>
<path stroke="#41ab5d" d="M409.1 972.8h0M413.3 960.1h0M399.3 976.0h0"/>
<path stroke="#6a51a3" d="M420.5 949.2h0M418.2 941.1h0M418.9 945.0h0M410.8 963.6h0M421.1 961.9h0"/>
<path stroke="#c7e9c0" d="M399.2 919.7h0M410.3 933.8h0"/>
<path stroke="#74c476" d="M426.9 972.8h0M412.5 967.7h0"/>
<path stroke="#fb6a4a" d="M400.3 920.3h0M399.4 915.6h0M407.1 931.0h0M407.0 932.1h0M402.8 920.2h0M396.5 914.2h0"/>
<path stroke="#ef3b2c" d="M404.5 922.9h0M409.7 930.4h0M406.9 936.5h0"/>
<path stroke="#cfcde6" d="M400.9 975.0h0"/>
<path stroke="#a1d99b" d="M405.4 970.1h0M408.5 959.3h0"/>
<path stroke="#238b45" d="M404.7 972.9h0"/>
<path stroke="#a1d99b" d="M400.5 976.4h0M409.4 965.8h0M418.3 952.5h0M402.8 978.0h0M417.5 951.1h0"/>
<path stroke="#41ab5d" d="M411.2 969.1h0M416.2 966.0h0M427.1 964.7h0M391.0 974.3h0"/>
<path stroke="#6a51a3" d="M449.0 974.9h0M414.2 935.5h0M418.0 944.1h0M414.4 974.3h0M425.4 978.0h0"/>
<path stroke="#807dba" d="M404.9 976.3h0M400.1 976.2h0M399.2 975.0h0M432.0 963.9h0M394.6 978.4h0M407.9 959.0h0M401.8 977.8h0M426.6 968.1h0M429.7 961.5h0M415.9 938.7h0"/>
<path stroke="#bcbddc" d="M421.9 954.7h0M429.1 968.1h0M413.2 967.8h0M399.6 976.6h0"/>
<path stroke="#238b45" d="M408.6 971.7h0M412.1 973.2h0"/>
<path stroke="#fc9272" d="M398.2 920.7h0M406.4 930.2h0M396.9 917.4h0M406.4 932.3h0M434.1 942.4h0M401.2 922.9h0"/>
<path stroke="#fb6a4a" d="M400.4 920.4h0M409.7 933.4h0M399.6 918.2h0M400.4 920.5h0M398.7 917.1h0"/>
<path stroke="#cfcde6" d="M395.0 972.5h0M397.6 973.2h0M400.1 980.3h0M399.3 977.1h0M399.5 979.3h0M400.3 975.3h0M403.5 974.9h0"/>
<path stroke="#9e9ac8" d="M418.4 956.3h0M392.4 979.8h0M430.9 972.7h0M402.1 977.5h0M422.7 966.4h0M437.3 965.9h0M426.8 976.3h0M421.8 975.6h0M431.0 962.0h0M422.7 943.1h0M412.3 969.6h0M412.6 978.4h0M426.6 960.1h0"/>
<path stroke="#ef3b2c" d="M397.1 914.2h0M405.1 925.9h0"/>
<path stroke="#74c476" d="M416.0 958.7h0M406.9 971.7h0"/>
<path stroke="#fb6a4a" d="M423.5 944.5h0M418.0 973.4h0M410.7 935.7h0"/>
<path stroke="#807dba" d="M418.7 968.2h0M389.9 980.0h0M413.1 969.7h0M420.2 955.9h0M420.1 953.9h0M419.7 963.9h0M426.6 969.1h0M404.5 961.3h0M416.6 961.3h0M422.8 972.3h0M406.3 967.2h0M414.1 938.9h0M406.0 978.4h0M407.0 969.4h0"/>
<path stroke="#bcbddc" d="M410.6 974.8h0M404.7 969.0h0M394.7 972.3h0M423.7 955.8h0M413.3 974.2h0M403.9 975.2h0M397.8 979.5h0M406.4 972.7h0"/>
<path stroke="#74c476" d="M396.6 975.1h0M399.5 978.6h0M411.2 959.4h0"/>
<path stroke="#41ab5d" d="M404.8 969.7h0M398.4 966.3h0M419.1 958.0h0M425.5 962.3h0"/>
<path stroke="#9e9ac8" d="M437.3 979.3h0M401.7 976.7h0M401.7 975.5h0M410.2 969.1h0M438.3 978.9h0M424.0 970.6h0M401.7 977.6h0M396.2 975.3h0M402.3 975.1h0M406.0 975.4h0M434.3 977.9h0M424.7 967.7h0M416.8 951.8h0M398.3 971.7h0M401.1 975.4h0M406.1 961.9h0M399.7 977.4h0M405.5 980.3h0"/>
<path stroke="#cfcde6" d="M394.6 975.5h0M401.1 975.1h0M395.6 969.4h0M394.4 972.3h0M408.0 975.2h0"/>
<path stroke="#a1d99b" d="M406.0 974.8h0M398.6 975.1h0M400.5 978.5h0M417.1 948.0h0M422.8 962.1h0M401.8 974.0h0"/>
<path stroke="#6a51a3" d="M438.7 969.7h0M427.5 970.7h0M406.2 975.7h0"/>
<path stroke="#238b45" d="M419.3 973.1h0"/>
<path stroke="#ef3b2c" d="M407.6 975.6h0"/>
</g>
<g stroke-width="2.2" stroke-linecap="round" fill="none" opacity="0.92">
<path stroke="#cfcde6" d="M494.6 941.9h0M502.6 959.0h0M484.2 938.1h0M508.2 956.7h0M477.1 922.5h0"/>
<path stroke="#807dba" d="M476.9 930.7h0M470.0 986.6h0M478.5 926.8h0M478.8 926.0h0M511.0 960.7h0M479.5 920.4h0M476.6 927.3h0M473.7 928.1h0M493.9 940.8h0M505.3 957.3h0M475.7 924.0h0M504.7 953.0h0M476.2 928.5h0M475.2 923.5h0M484.2 932.6h0M503.2 958.7h0M488.9 937.4h0"/>
<path stroke="#bcbddc" d="M498.3 944.9h0M496.9 938.5h0M479.0 926.0h0M478.7 922.4h0M488.3 927.4h0M478.2 921.5h0M495.9 945.2h0M506.3 956.8h0M479.4 919.0h0M503.3 957.4h0M491.3 940.8h0M502.9 957.1h0M505.9 955.1h0M478.0 924.1h0M507.2 956.9h0"/>
<path stroke="#9e9ac8" d="M505.8 959.8h0M479.7 926.3h0M496.3 949.6h0M478.4 924.1h0M496.8 943.9h0M496.7 940.6h0M477.0 925.8h0M476.4 931.2h0M473.2 925.5h0M522.0 974.9h0M479.3 924.1h0M492.4 941.0h0M506.2 951.7h0M479.1 925.5h0M481.5 916.3h0"/>
<path stroke="#6a51a3" d="M477.3 948.9h0M491.5 940.7h0M475.8 926.7h0"/>
<path stroke="#cfcde6" d="M509.4 961.1h0M489.7 936.6h0M484.1 934.4h0M487.3 931.8h0M505.5 959.5h0M479.8 926.1h0M511.7 956.8h0M484.2 931.2h0M492.1 933.0h0"/>
<path stroke="#9e9ac8" d="M478.4 925.6h0M483.7 924.7h0M489.1 937.9h0M493.9 940.2h0M478.7 928.5h0M482.5 938.0h0M506.2 953.9h0M513.8 965.8h0M496.8 941.3h0"/>
<path stroke="#807dba" d="M479.9 933.9h0M481.1 931.4h0M498.2 948.6h0M495.8 943.2h0M477.2 919.8h0M500.5 953.1h0M503.8 946.0h0M503.2 955.4h0M476.8 927.5h0M490.0 941.3h0M505.7 953.2h0M492.1 930.1h0M478.7 920.5h0"/>
<path stroke="#bcbddc" d="M476.3 929.8h0M478.3 923.4h0M478.5 924.4h0M502.6 950.5h0M488.7 942.2h0M474.3 917.4h0M492.8 936.6h0M507.2 954.8h0M487.0 935.0h0M480.5 929.3h0M474.9 921.1h0M507.6 962.9h0M477.4 925.8h0M474.8 929.1h0M474.5 922.8h0M505.6 950.1h0M495.3 953.0h0M494.3 948.5h0"/>
<path stroke="#fb6a4a" d="M508.1 963.2h0"/>
<path stroke="#6a51a3" d="M488.1 936.2h0M486.8 940.3h0M476.8 921.8h0M487.8 935.5h0M509.3 962.4h0"/>
<path stroke="#807dba" d="M478.0 921.1h0M505.9 961.0h0M478.8 928.3h0M499.2 943.6h0M490.9 941.2h0M484.3 927.2h0M481.8 930.7h0M482.2 926.2h0M483.4 929.2h0"/>
<path stroke="#6a51a3" d="M464.6 982.4h0M493.7 936.6h0M476.0 930.5h0"/>
<path stroke="#9e9ac8" d="M482.8 924.7h0M483.9 921.2h0M492.8 937.9h0M496.8 945.6h0M472.4 923.7h0M488.4 937.5h0M505.7 956.4h0M487.4 930.0h0M500.3 947.4h0M493.3 939.0h0M486.7 939.9h0M504.1 948.9h0M478.4 927.0h0"/>
<path stroke="#bcbddc" d="M502.1 948.4h0M504.8 953.7h0M515.2 973.1h0M502.5 955.0h0M503.1 953.9h0M495.5 941.8h0M474.9 929.3h0M501.4 946.3h0M482.4 928.5h0M489.7 938.5h0M489.9 936.2h0M511.0 960.2h0M477.3 928.5h0M481.4 924.2h0M484.7 936.6h0M492.8 941.9h0M485.6 936.1h0M479.5 931.0h0M479.9 924.0h0M473.6 926.7h0"/>
<path stroke="#74c476" d="M480.7 974.9h0"/>
<path stroke="#cfcde6" d="M474.0 924.9h0M479.5 924.8h0M470.8 922.0h0M504.2 961.5h0M493.8 940.1h0M505.5 960.4h0M484.0 927.1h0M488.9 940.8h0"/>
<path stroke="#fc9272" d="M507.0 963.2h0"/>
<path stroke="#a1d99b" d="M507.1 959.3h0"/>
<path stroke="#807dba" d="M490.0 933.7h0M486.5 926.6h0M479.5 930.2h0M481.2 918.5h0M476.7 920.8h0M481.0 920.3h0M487.7 942.2h0M500.0 953.8h0M474.3 929.9h0M476.0 932.9h0M493.6 950.2h0M477.3 926.0h0M475.3 925.4h0"/>
<path stroke="#9e9ac8" d="M510.5 955.9h0M480.2 927.5h0M496.1 945.6h0M492.4 940.2h0M474.4 922.8h0M496.9 945.7h0M478.4 922.7h0M485.2 933.2h0M509.0 956.0h0M473.7 926.3h0M503.6 959.7h0M480.8 929.2h0M502.8 947.8h0"/>
<path stroke="#bcbddc" d="M494.2 944.8h0M499.4 955.1h0M479.1 933.2h0M475.5 924.3h0M486.5 940.5h0M499.1 946.8h0M476.4 920.6h0M480.7 928.8h0M485.2 926.7h0M508.1 958.0h0M501.5 949.7h0M476.3 927.7h0M508.0 962.7h0M479.2 926.1h0M496.5 949.6h0M480.4 931.8h0"/>
<path stroke="#cfcde6" d="M474.2 923.4h0M496.1 945.8h0M477.6 922.6h0M478.7 926.5h0M499.2 939.8h0M494.2 940.6h0M491.8 944.2h0"/>
<path stroke="#6a51a3" d="M478.3 924.8h0M496.6 951.0h0M484.9 932.1h0M492.8 938.6h0"/>
<path stroke="#a1d99b" d="M478.7 930.2h0"/>
<path stroke="#74c476" d="M487.6 956.7h0"/>
<path stroke="#bcbddc" d="M478.9 931.0h0M494.5 938.4h0M489.9 936.0h0M478.8 926.6h0M489.0 935.3h0M479.6 967.1h0M479.3 926.5h0M480.9 925.3h0M476.1 925.1h0M479.2 926.1h0M483.2 929.1h0M478.8 925.3h0M482.7 934.5h0M480.6 934.7h0M506.5 956.9h0M501.8 954.9h0M483.8 931.9h0M504.4 955.2h0M493.9 940.4h0M491.1 937.5h0"/>
<path stroke="#807dba" d="M497.1 944.6h0M494.0 941.5h0M482.9 928.7h0M507.6 960.2h0M472.4 923.9h0M495.3 943.3h0M490.1 944.2h0M484.8 933.5h0M480.6 925.3h0M506.2 959.4h0M476.8 919.6h0M510.9 957.7h0M497.5 943.0h0M474.7 921.3h0M478.3 925.4h0"/>
<path stroke="#9e9ac8" d="M494.2 944.4h0M488.4 937.0h0M501.6 954.7h0M499.4 948.7h0M500.9 950.7h0M498.7 946.5h0M492.3 936.2h0M503.5 952.5h0M492.3 930.8h0M510.4 957.7h0M479.7 923.9h0M489.2 928.8h0M478.6 924.5h0"/>
<path stroke="#cfcde6" d="M485.8 939.2h0M481.0 925.9h0M496.8 946.1h0"/>
<path stroke="#74c476" d="M475.7 931.0h0"/>
<path stroke="#6a51a3" d="M484.7 930.1h0M494.4 948.1h0M503.6 951.9h0"/>
<path stroke="#9e9ac8" d="M486.0 941.1h0M484.1 930.5h0M480.7 922.5h0M478.9 930.4h0M511.1 959.7h0M494.0 949.8h0M490.3 943.0h0M477.5 970.5h0"/>
<path stroke="#bcbddc" d="M507.4 956.7h0M503.5 950.5h0M492.2 944.3h0M477.7 927.9h0M477.1 919.6h0M482.9 924.6h0M500.4 954.8h0M472.9 932.7h0M499.9 943.3h0M494.5 948.6h0M481.3 926.5h0M502.9 950.7h0M487.9 935.4h0M476.5 930.7h0M477.0 920.6h0M484.2 925.4h0"/>
<path stroke="#cfcde6" d="M508.8 963.2h0M506.2 949.1h0M500.5 941.5h0M475.2 926.0h0M472.6 926.9h0M494.9 945.2h0M480.9 936.1h0M480.7 921.9h0"/>
<path stroke="#807dba" d="M473.6 924.3h0M479.9 927.4h0M494.7 944.4h0M485.5 931.2h0M481.5 935.2h0M485.2 933.3h0M481.5 930.1h0M502.7 955.4h0M503.2 954.8h0M480.1 927.8h0M492.1 951.5h0M472.5 924.8h0M488.3 936.5h0M503.8 961.3h0M494.7 938.9h0M507.6 960.3h0M474.4 922.3h0M496.3 943.3h0M479.4 925.4h0"/>
<path stroke="#6a51a3" d="M480.7 926.5h0M483.4 935.3h0M483.4 938.1h0M501.7 952.8h0"/>
<path stroke="#74c476" d="M503.6 952.1h0"/>
<path stroke="#bcbddc" d="M490.2 945.1h0M490.4 938.7h0M475.7 920.5h0M492.4 932.6h0M478.0 928.7h0M503.3 952.2h0M485.1 934.8h0M473.0 922.9h0M499.5 954.3h0M477.0 920.1h0M509.4 955.8h0M485.1 934.9h0M483.4 928.8h0M493.3 940.5h0M482.7 926.1h0M483.6 930.0h0"/>
<path stroke="#807dba" d="M489.0 937.6h0M483.4 931.3h0M483.6 930.8h0M490.4 937.3h0M498.1 945.9h0M501.1 945.4h0M491.4 944.0h0M488.9 937.2h0M484.4 929.5h0M489.4 936.4h0M509.2 953.9h0M481.4 924.7h0M505.2 958.8h0M476.9 928.8h0M500.4 954.5h0M507.6 954.4h0M483.1 931.1h0M497.9 952.6h0M480.0 925.6h0M504.9 953.3h0M507.9 948.0h0"/>
<path stroke="#9e9ac8" d="M500.0 945.5h0M506.6 952.5h0M498.8 953.8h0M479.3 927.3h0M482.1 929.3h0M481.2 922.4h0M495.8 939.5h0M487.8 937.5h0"/>
<path stroke="#a1d99b" d="M489.9 939.8h0"/>
<path stroke="#6a51a3" d="M489.5 940.4h0M479.1 926.5h0M473.9 928.1h0M493.7 946.5h0M479.5 924.2h0"/>
<path stroke="#cfcde6" d="M490.9 944.2h0M505.2 958.0h0M479.4 927.5h0M478.5 925.2h0"/>
<path stroke="#bcbddc" d="M482.9 929.2h0M476.1 924.5h0M483.0 925.7h0M480.4 925.7h0M509.3 959.0h0M475.0 924.3h0M483.0 926.6h0M478.8 920.8h0M483.1 931.3h0M491.2 935.0h0M472.7 923.3h0M481.7 940.4h0M478.9 927.5h0M475.8 920.0h0M495.3 947.4h0M502.1 949.1h0M496.4 947.6h0M501.4 954.0h0M501.2 943.6h0M474.4 925.2h0M477.1 926.2h0M492.3 938.0h0M507.9 959.4h0M476.7 922.8h0M500.2 951.9h0M481.0 929.0h0"/>
<path stroke="#9e9ac8" d="M477.6 923.3h0M479.2 927.4h0M475.0 927.2h0M479.4 933.6h0M506.0 951.0h0M493.3 945.8h0M478.6 926.2h0M505.6 949.3h0M504.8 956.7h0"/>
<path stroke="#cfcde6" d="M477.5 924.4h0M480.0 929.2h0M508.4 958.5h0M485.2 933.6h0M476.9 918.8h0M495.2 944.8h0M492.3 944.4h0M486.2 935.6h0M481.6 932.1h0M478.6 929.5h0"/>
<path stroke="#807dba" d="M512.7 958.0h0M489.9 935.3h0M505.1 954.6h0M506.7 962.6h0M504.6 956.1h0M476.9 927.8h0M479.5 923.7h0M479.7 924.7h0M482.4 929.0h0"/>
<path stroke="#a1d99b" d="M483.2 923.5h0M499.4 945.3h0"/>
</g>
<rect x="82.8" y="903.7" width="450.6" height="86.4" fill="none" stroke="#9a9a9a" stroke-width="1"/>
<line x1="158.0" y1="903.7" x2="158.0" y2="990.1" stroke="#777" stroke-width="1.2"/>
<line x1="233.5" y1="903.7" x2="233.5" y2="990.1" stroke="#777" stroke-width="1.2"/>
<line x1="309.0" y1="903.7" x2="309.0" y2="990.1" stroke="#777" stroke-width="1.2"/>
<line x1="384.0" y1="903.7" x2="384.0" y2="990.1" stroke="#777" stroke-width="1.2"/>
<line x1="459.3" y1="903.7" x2="459.3" y2="990.1" stroke="#777" stroke-width="1.2"/>
<text x="120.5" y="899.3" font-size="9.6" text-anchor="middle" textLength="29.5" lengthAdjust="spacingAndGlyphs">P64T2</text>
<line x1="97.7" y1="990.1" x2="97.7" y2="994.5" stroke="#888" stroke-width="1"/>
<text x="96.10000000000001" y="1006.5" font-size="9.2" text-anchor="middle">−1</text>
<line x1="120.5" y1="990.1" x2="120.5" y2="994.5" stroke="#888" stroke-width="1"/>
<text x="120.5" y="1006.5" font-size="9.2" text-anchor="middle">0</text>
<line x1="143.3" y1="990.1" x2="143.3" y2="994.5" stroke="#888" stroke-width="1"/>
<text x="143.3" y="1006.5" font-size="9.2" text-anchor="middle">1</text>
<text x="195.6" y="899.3" font-size="9.6" text-anchor="middle" textLength="29.5" lengthAdjust="spacingAndGlyphs">P66T2</text>
<line x1="172.79999999999998" y1="990.1" x2="172.79999999999998" y2="994.5" stroke="#888" stroke-width="1"/>
<text x="171.2" y="1006.5" font-size="9.2" text-anchor="middle">−1</text>
<line x1="195.6" y1="990.1" x2="195.6" y2="994.5" stroke="#888" stroke-width="1"/>
<text x="195.6" y="1006.5" font-size="9.2" text-anchor="middle">0</text>
<line x1="218.4" y1="990.1" x2="218.4" y2="994.5" stroke="#888" stroke-width="1"/>
<text x="218.4" y="1006.5" font-size="9.2" text-anchor="middle">1</text>
<text x="271.0" y="899.3" font-size="9.6" text-anchor="middle" textLength="29.5" lengthAdjust="spacingAndGlyphs">P51T1</text>
<line x1="248.2" y1="990.1" x2="248.2" y2="994.5" stroke="#888" stroke-width="1"/>
<text x="246.6" y="1006.5" font-size="9.2" text-anchor="middle">−1</text>
<line x1="271.0" y1="990.1" x2="271.0" y2="994.5" stroke="#888" stroke-width="1"/>
<text x="271.0" y="1006.5" font-size="9.2" text-anchor="middle">0</text>
<line x1="293.8" y1="990.1" x2="293.8" y2="994.5" stroke="#888" stroke-width="1"/>
<text x="293.8" y="1006.5" font-size="9.2" text-anchor="middle">1</text>
<text x="346.2" y="899.3" font-size="9.6" text-anchor="middle" textLength="29.5" lengthAdjust="spacingAndGlyphs">P47T1</text>
<line x1="323.4" y1="990.1" x2="323.4" y2="994.5" stroke="#888" stroke-width="1"/>
<text x="321.79999999999995" y="1006.5" font-size="9.2" text-anchor="middle">−1</text>
<line x1="346.2" y1="990.1" x2="346.2" y2="994.5" stroke="#888" stroke-width="1"/>
<text x="346.2" y="1006.5" font-size="9.2" text-anchor="middle">0</text>
<line x1="369.0" y1="990.1" x2="369.0" y2="994.5" stroke="#888" stroke-width="1"/>
<text x="369.0" y="1006.5" font-size="9.2" text-anchor="middle">1</text>
<text x="421.6" y="899.3" font-size="9.6" text-anchor="middle" textLength="29.5" lengthAdjust="spacingAndGlyphs">P76T1</text>
<line x1="398.8" y1="990.1" x2="398.8" y2="994.5" stroke="#888" stroke-width="1"/>
<text x="397.2" y="1006.5" font-size="9.2" text-anchor="middle">−1</text>
<line x1="421.6" y1="990.1" x2="421.6" y2="994.5" stroke="#888" stroke-width="1"/>
<text x="421.6" y="1006.5" font-size="9.2" text-anchor="middle">0</text>
<line x1="444.40000000000003" y1="990.1" x2="444.40000000000003" y2="994.5" stroke="#888" stroke-width="1"/>
<text x="444.40000000000003" y="1006.5" font-size="9.2" text-anchor="middle">1</text>
<text x="496.7" y="899.3" font-size="9.6" text-anchor="middle" textLength="29.5" lengthAdjust="spacingAndGlyphs">P37T2</text>
<line x1="473.9" y1="990.1" x2="473.9" y2="994.5" stroke="#888" stroke-width="1"/>
<text x="472.29999999999995" y="1006.5" font-size="9.2" text-anchor="middle">−1</text>
<line x1="496.7" y1="990.1" x2="496.7" y2="994.5" stroke="#888" stroke-width="1"/>
<text x="496.7" y="1006.5" font-size="9.2" text-anchor="middle">0</text>
<line x1="519.5" y1="990.1" x2="519.5" y2="994.5" stroke="#888" stroke-width="1"/>
<text x="519.5" y="1006.5" font-size="9.2" text-anchor="middle">1</text>
<line x1="78.8" y1="976.2" x2="82.8" y2="976.2" stroke="#888" stroke-width="1"/>
<text x="73.5" y="979.4000000000001" font-size="9.2" text-anchor="end">−1</text>
<line x1="78.8" y1="950.2" x2="82.8" y2="950.2" stroke="#888" stroke-width="1"/>
<text x="73.5" y="953.4000000000001" font-size="9.2" text-anchor="end">0</text>
<line x1="78.8" y1="924.2" x2="82.8" y2="924.2" stroke="#888" stroke-width="1"/>
<text x="73.5" y="927.4000000000001" font-size="9.2" text-anchor="end">1</text>
<text x="45.9" y="946.9" font-size="10.3" text-anchor="middle" textLength="135.9" lengthAdjust="spacingAndGlyphs" transform="rotate(-90 45.9 946.9)">Relative meta-module score</text>
<text x="57.5" y="946.9" font-size="10.3" text-anchor="middle" transform="rotate(-90 57.5 946.9)" textLength="102" lengthAdjust="spacingAndGlyphs">(log<tspan font-size="7" dy="2">2</tspan><tspan dy="-2">(|SC1 – SC2| + 1))</tspan></text>
<text x="308.5" y="1021.5" font-size="10.3" text-anchor="middle" textLength="136.3" lengthAdjust="spacingAndGlyphs">Relative meta-module score</text>
<text x="308.9" y="1033.2" font-size="10.3" text-anchor="middle" textLength="102.2" lengthAdjust="spacingAndGlyphs">(log<tspan font-size="7" dy="2">2</tspan><tspan dy="-2">(|SC1 – SC2| + 1))</tspan></text>
<rect x="571.8" y="920.2" width="44.7" height="53" fill="none" stroke="#8a8a8a" stroke-width="1"/>
<line x1="594.3" y1="920.2" x2="594.3" y2="973.2" stroke="#dcdcdc" stroke-width="0.8"/>
<line x1="571.8" y1="946.5" x2="616.5" y2="946.5" stroke="#dcdcdc" stroke-width="0.8"/>
<text x="568.9" y="919.6" font-size="8.6" text-anchor="middle" textLength="34.5" lengthAdjust="spacingAndGlyphs" transform="rotate(-45 568.9 919.6)">OPC-like</text>
<text x="629.3" y="912.4" font-size="8.6" text-anchor="middle" textLength="38.5" lengthAdjust="spacingAndGlyphs" transform="rotate(45 629.3 912.4)">NPC-like/</text>
<text x="622.0" y="920.5" font-size="8.6" text-anchor="middle" textLength="34.5" lengthAdjust="spacingAndGlyphs" transform="rotate(45 622.0 920.5)">NEU-like</text>
<text x="564.7" y="982.5" font-size="8.6" text-anchor="middle" textLength="29.5" lengthAdjust="spacingAndGlyphs" transform="rotate(45 564.7 982.5)">AC-like</text>
<text x="625.4" y="978.9" font-size="8.6" text-anchor="middle" textLength="39.5" lengthAdjust="spacingAndGlyphs" transform="rotate(-45 625.4 978.9)">MES-like/</text>
<text x="633.6" y="987.4" font-size="8.6" text-anchor="middle" textLength="33" lengthAdjust="spacingAndGlyphs" transform="rotate(-45 633.6 987.4)">hypoxia</text>
</svg></body></html>
